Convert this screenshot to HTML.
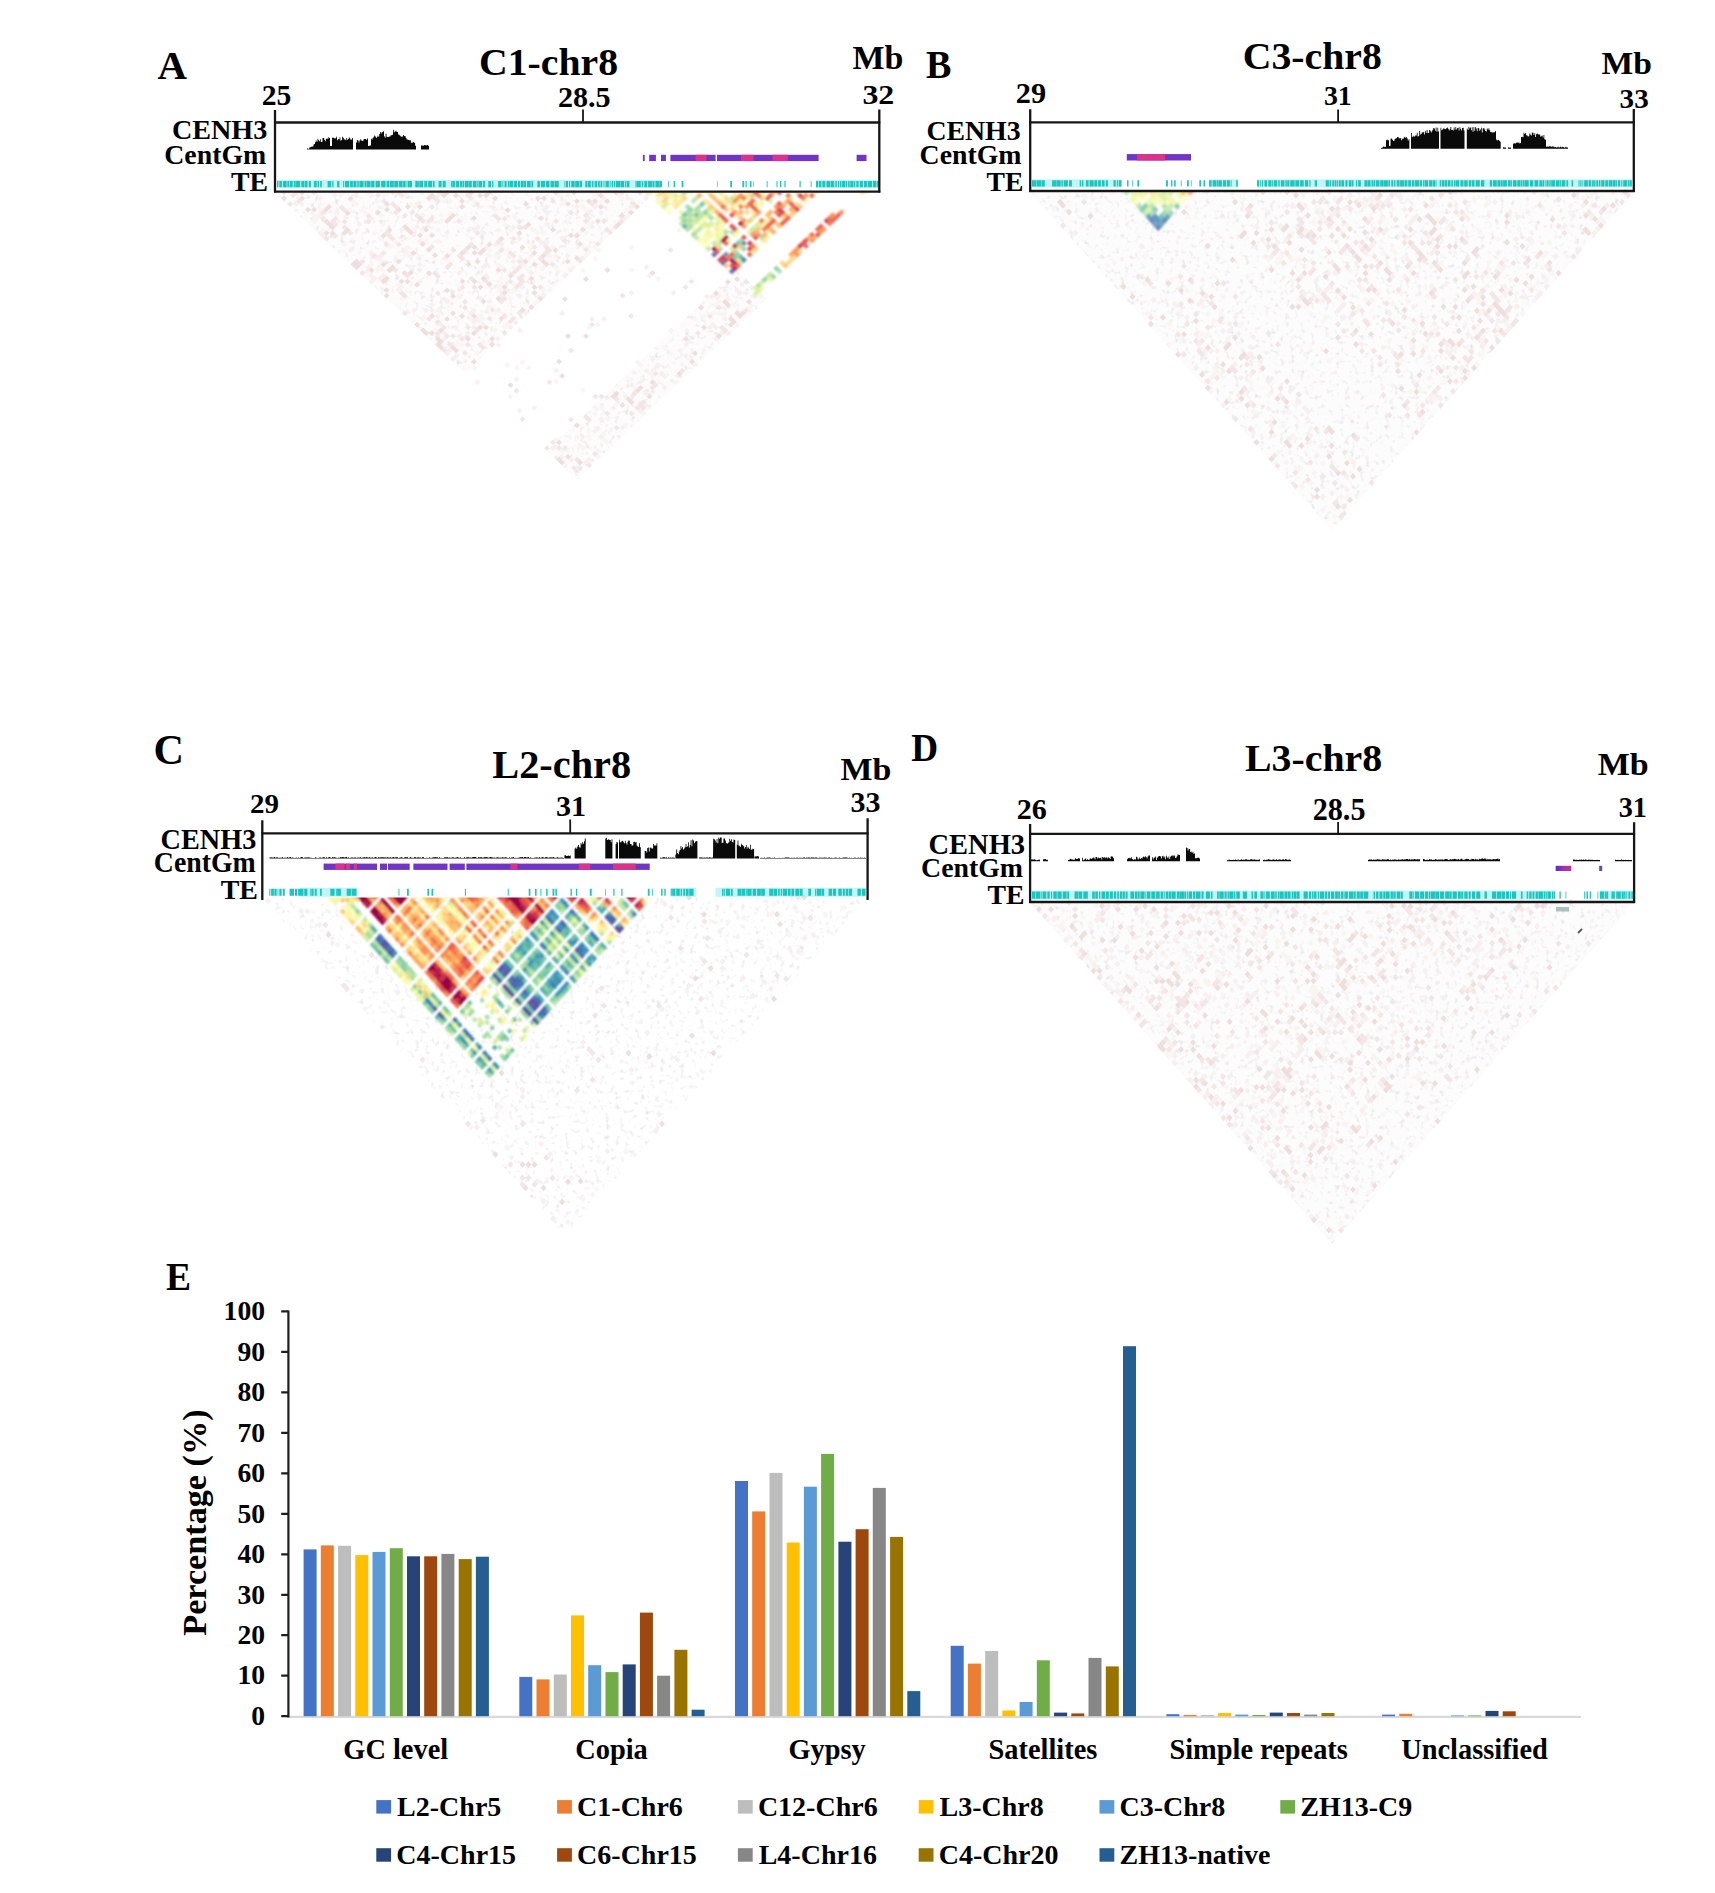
<!DOCTYPE html><html><head><meta charset="utf-8"><style>html,body{margin:0;padding:0;background:#fff;overflow:hidden}svg{display:block}</style></head><body><svg width="1715" height="1893" viewBox="0 0 1715 1893" font-family="&quot;Liberation Serif&quot;, serif" font-weight="bold">
<rect width="1715" height="1893" fill="#fff"/>
<text x="157.4" y="78.8" font-size="40.8">A</text>
<text transform="translate(479.0 74.9) scale(1.033 1)" font-size="38.5">C1-chr8</text>
<text transform="translate(852.5 69.1) scale(1.025 1)" font-size="33.1">Mb</text>
<text x="261.7" y="104.7" font-size="29.6">25</text>
<text x="558.0" y="107.1" font-size="30.1">28.5</text>
<text transform="translate(862.4 104.0) scale(1.144 1)" font-size="27.9">32</text>
<text transform="translate(171.9 139.0) scale(1.059 1)" font-size="26.6">CENH3</text>
<text x="164.3" y="164.2" font-size="27.8">CentGm</text>
<text transform="translate(231.0 190.8) scale(1.032 1)" font-size="26.9">TE</text>
<text transform="translate(926.0 78.3) scale(0.941 1)" font-size="40.5">B</text>
<text transform="translate(1242.7 69.1) scale(1.033 1)" font-size="38.5">C3-chr8</text>
<text transform="translate(1601.6 74.4) scale(1.050 1)" font-size="32.0">Mb</text>
<text transform="translate(1015.8 102.9) scale(1.031 1)" font-size="29.4">29</text>
<text x="1323.9" y="105.0" font-size="27.8">31</text>
<text transform="translate(1619.6 107.8) scale(1.043 1)" font-size="27.9">33</text>
<text x="926.4" y="139.6" font-size="27.8">CENH3</text>
<text x="919.6" y="164.0" font-size="27.8">CentGm</text>
<text transform="translate(986.5 190.6) scale(1.029 1)" font-size="26.9">TE</text>
<text x="153.5" y="764.2" font-size="42.2">C</text>
<text transform="translate(492.3 778.0) scale(1.028 1)" font-size="39.2">L2-chr8</text>
<text transform="translate(840.6 779.6) scale(1.050 1)" font-size="32.3">Mb</text>
<text transform="translate(250.1 813.4) scale(1.039 1)" font-size="27.9">29</text>
<text x="555.9" y="815.5" font-size="30.1">31</text>
<text x="850.6" y="812.3" font-size="30.0">33</text>
<text transform="translate(160.6 849.0) scale(0.964 1)" font-size="29.3">CENH3</text>
<text transform="translate(153.8 872.4) scale(0.976 1)" font-size="28.5">CentGm</text>
<text transform="translate(220.7 899.0) scale(1.038 1)" font-size="26.9">TE</text>
<text transform="translate(911.3 761.0) scale(0.938 1)" font-size="39.7">D</text>
<text transform="translate(1244.9 771.2) scale(1.058 1)" font-size="37.7">L3-chr8</text>
<text transform="translate(1597.8 774.9) scale(1.061 1)" font-size="32.0">Mb</text>
<text x="1016.8" y="818.6" font-size="30.1">26</text>
<text transform="translate(1312.7 819.7) scale(0.977 1)" font-size="30.9">28.5</text>
<text transform="translate(1618.7 816.9) scale(0.937 1)" font-size="30.1">31</text>
<text x="928.5" y="853.8" font-size="28.5">CENH3</text>
<text x="921.1" y="877.2" font-size="27.8">CentGm</text>
<text transform="translate(987.4 904.2) scale(1.032 1)" font-size="26.9">TE</text>
<defs><filter id="spk" x="0" y="0" width="1" height="1" filterUnits="objectBoundingBox"><feTurbulence type="fractalNoise" baseFrequency="0.16" numOctaves="2" seed="5" result="n"/><feColorMatrix in="n" type="matrix" values="0 0 0 0 0.76  0 0 0 0 0.68  0 0 0 0 0.7  0 0 0 -2.0 1.02" result="c"/><feComposite in="c" in2="SourceAlpha" operator="in"/></filter><filter id="spkL" x="0" y="0" width="1" height="1" filterUnits="objectBoundingBox"><feTurbulence type="fractalNoise" baseFrequency="0.2" numOctaves="2" seed="9" result="n"/><feColorMatrix in="n" type="matrix" values="0 0 0 0 0.7  0 0 0 0 0.66  0 0 0 0 0.68  0 0 0 -1.8 0.80" result="c"/><feComposite in="c" in2="SourceAlpha" operator="in"/></filter><filter id="hb" x="-2%" y="-2%" width="104%" height="104%"><feGaussianBlur stdDeviation="0.9"/></filter></defs>
<g>
<polygon points="275.0,192.6 655.0,192.6 465.0,373.1" fill="#fdfbfb" opacity="1.0"/>
<polygon points="275.0,192.6 655.0,192.6 465.0,373.1" fill="#000" filter="url(#spkL)"/>
<polygon points="546.5,450.5 736.5,270.0 767.0,299.0 577.0,479.5" fill="#fdfbfb" opacity="1.0"/>
<polygon points="546.5,450.5 736.5,270.0 767.0,299.0 577.0,479.5" fill="#000" filter="url(#spkL)"/>
</g>
<g transform="matrix(0.5 -0.4750 0.5 0.4750 0 192.60)">
<path fill="#f8f0f0" d="M275 360h6v6h-6zM275 366h6v6h-6zM275 462h6v6h-6zM275 613h6v6h-6zM275 625h6v6h-6zM275 674h6v6h-6zM281 305h6v6h-6zM281 456h6v6h-6zM281 462h6v6h-6zM281 613h6v6h-6zM281 625h6v6h-6zM281 819h6v6h-6zM281 837h6v6h-6zM287 311h6v6h-6zM287 408h6v6h-6zM287 444h6v6h-6zM287 468h6v6h-6zM287 535h6v6h-6zM287 595h6v6h-6zM287 746h6v6h-6zM287 849h6v6h-6zM293 341h6v6h-6zM293 468h6v6h-6zM293 498h6v6h-6zM293 589h6v6h-6zM299 402h6v6h-6zM299 498h6v6h-6zM299 547h6v6h-6zM299 577h6v6h-6zM299 867h6v6h-6zM305 432h6v6h-6zM305 444h6v6h-6zM305 553h6v6h-6zM305 565h6v6h-6zM305 607h6v6h-6zM305 758h6v6h-6zM305 867h6v6h-6zM311 323h6v6h-6zM311 444h6v6h-6zM311 547h6v6h-6zM311 595h6v6h-6zM317 559h6v6h-6zM317 613h6v6h-6zM317 710h6v6h-6zM323 390h6v6h-6zM323 462h6v6h-6zM323 511h6v6h-6zM323 837h6v6h-6zM329 335h6v6h-6zM329 553h6v6h-6zM329 559h6v6h-6zM329 613h6v6h-6zM335 341h6v6h-6zM335 498h6v6h-6zM335 607h6v6h-6zM335 656h6v6h-6zM341 396h6v6h-6zM341 462h6v6h-6zM341 474h6v6h-6zM341 492h6v6h-6zM341 595h6v6h-6zM341 607h6v6h-6zM341 619h6v6h-6zM341 649h6v6h-6zM341 843h6v6h-6zM341 855h6v6h-6zM347 354h6v6h-6zM347 486h6v6h-6zM347 595h6v6h-6zM347 843h6v6h-6zM354 450h6v6h-6zM354 559h6v6h-6zM360 438h6v6h-6zM360 837h6v6h-6zM366 456h6v6h-6zM366 468h6v6h-6zM366 589h6v6h-6zM366 649h6v6h-6zM366 740h6v6h-6zM372 511h6v6h-6zM372 541h6v6h-6zM372 601h6v6h-6zM372 619h6v6h-6zM372 662h6v6h-6zM372 867h6v6h-6zM378 450h6v6h-6zM384 837h6v6h-6zM390 607h6v6h-6zM396 444h6v6h-6zM396 571h6v6h-6zM396 649h6v6h-6zM402 426h6v6h-6zM402 486h6v6h-6zM402 559h6v6h-6zM402 607h6v6h-6zM408 559h6v6h-6zM408 625h6v6h-6zM408 837h6v6h-6zM408 867h6v6h-6zM420 619h6v6h-6zM420 867h6v6h-6zM426 505h6v6h-6zM426 541h6v6h-6zM426 831h6v6h-6zM432 438h6v6h-6zM432 511h6v6h-6zM432 559h6v6h-6zM432 619h6v6h-6zM432 649h6v6h-6zM432 686h6v6h-6zM432 855h6v6h-6zM438 511h6v6h-6zM438 523h6v6h-6zM438 547h6v6h-6zM438 583h6v6h-6zM438 837h6v6h-6zM444 553h6v6h-6zM444 595h6v6h-6zM444 613h6v6h-6zM444 837h6v6h-6zM456 535h6v6h-6zM456 722h6v6h-6zM456 831h6v6h-6zM456 867h6v6h-6zM462 595h6v6h-6zM468 565h6v6h-6zM468 734h6v6h-6zM468 837h6v6h-6zM468 849h6v6h-6zM468 855h6v6h-6zM474 505h6v6h-6zM474 547h6v6h-6zM474 649h6v6h-6zM474 825h6v6h-6zM474 837h6v6h-6zM486 589h6v6h-6zM486 595h6v6h-6zM486 649h6v6h-6zM492 595h6v6h-6zM498 631h6v6h-6zM511 577h6v6h-6zM511 607h6v6h-6zM511 649h6v6h-6zM511 843h6v6h-6zM511 855h6v6h-6zM511 873h6v6h-6zM523 559h6v6h-6zM523 565h6v6h-6zM523 734h6v6h-6zM523 843h6v6h-6zM529 559h6v6h-6zM529 843h6v6h-6zM553 625h6v6h-6zM559 589h6v6h-6zM559 613h6v6h-6zM559 734h6v6h-6zM559 867h6v6h-6zM565 565h6v6h-6zM565 607h6v6h-6zM565 722h6v6h-6zM565 776h6v6h-6zM565 849h6v6h-6zM571 849h6v6h-6zM571 855h6v6h-6zM571 867h6v6h-6zM577 607h6v6h-6zM577 619h6v6h-6zM577 873h6v6h-6zM589 855h6v6h-6zM595 595h6v6h-6zM595 607h6v6h-6zM595 649h6v6h-6zM595 813h6v6h-6zM601 843h6v6h-6zM607 825h6v6h-6zM613 619h6v6h-6zM613 643h6v6h-6zM613 837h6v6h-6zM619 631h6v6h-6zM619 825h6v6h-6zM631 837h6v6h-6zM631 843h6v6h-6zM637 649h6v6h-6zM637 849h6v6h-6zM643 861h6v6h-6zM649 849h6v6h-6z"/>
<path fill="#f4e6e6" d="M275 299h6v6h-6zM275 372h6v6h-6zM275 444h6v6h-6zM275 529h6v6h-6zM275 607h6v6h-6zM275 813h6v6h-6zM281 281h6v6h-6zM281 758h6v6h-6zM281 861h6v6h-6zM287 293h6v6h-6zM287 305h6v6h-6zM287 378h6v6h-6zM287 432h6v6h-6zM287 583h6v6h-6zM287 607h6v6h-6zM287 813h6v6h-6zM287 825h6v6h-6zM287 867h6v6h-6zM293 293h6v6h-6zM293 347h6v6h-6zM293 505h6v6h-6zM293 511h6v6h-6zM293 559h6v6h-6zM293 595h6v6h-6zM293 631h6v6h-6zM293 831h6v6h-6zM293 855h6v6h-6zM299 341h6v6h-6zM299 360h6v6h-6zM299 366h6v6h-6zM299 571h6v6h-6zM299 583h6v6h-6zM299 601h6v6h-6zM299 873h6v6h-6zM305 360h6v6h-6zM305 378h6v6h-6zM305 390h6v6h-6zM305 438h6v6h-6zM305 613h6v6h-6zM305 625h6v6h-6zM305 722h6v6h-6zM311 311h6v6h-6zM311 372h6v6h-6zM311 474h6v6h-6zM317 444h6v6h-6zM317 492h6v6h-6zM317 637h6v6h-6zM317 643h6v6h-6zM317 867h6v6h-6zM323 354h6v6h-6zM323 360h6v6h-6zM323 607h6v6h-6zM329 438h6v6h-6zM329 541h6v6h-6zM329 619h6v6h-6zM329 807h6v6h-6zM335 396h6v6h-6zM341 390h6v6h-6zM341 426h6v6h-6zM341 432h6v6h-6zM341 438h6v6h-6zM341 450h6v6h-6zM341 583h6v6h-6zM347 517h6v6h-6zM347 523h6v6h-6zM347 577h6v6h-6zM347 746h6v6h-6zM347 819h6v6h-6zM347 825h6v6h-6zM354 619h6v6h-6zM354 649h6v6h-6zM360 559h6v6h-6zM366 523h6v6h-6zM366 613h6v6h-6zM366 861h6v6h-6zM372 378h6v6h-6zM372 390h6v6h-6zM372 414h6v6h-6zM372 486h6v6h-6zM372 523h6v6h-6zM372 571h6v6h-6zM372 631h6v6h-6zM372 643h6v6h-6zM372 837h6v6h-6zM378 402h6v6h-6zM378 408h6v6h-6zM378 426h6v6h-6zM378 559h6v6h-6zM378 643h6v6h-6zM378 807h6v6h-6zM384 613h6v6h-6zM384 813h6v6h-6zM390 390h6v6h-6zM390 438h6v6h-6zM390 450h6v6h-6zM390 511h6v6h-6zM390 523h6v6h-6zM390 529h6v6h-6zM390 577h6v6h-6zM390 613h6v6h-6zM390 643h6v6h-6zM396 396h6v6h-6zM396 402h6v6h-6zM396 456h6v6h-6zM396 831h6v6h-6zM396 861h6v6h-6zM402 456h6v6h-6zM402 523h6v6h-6zM402 734h6v6h-6zM408 861h6v6h-6zM414 444h6v6h-6zM414 523h6v6h-6zM414 601h6v6h-6zM414 613h6v6h-6zM414 861h6v6h-6zM414 867h6v6h-6zM420 583h6v6h-6zM420 613h6v6h-6zM420 843h6v6h-6zM420 861h6v6h-6zM426 438h6v6h-6zM426 444h6v6h-6zM426 486h6v6h-6zM426 595h6v6h-6zM426 607h6v6h-6zM426 613h6v6h-6zM432 517h6v6h-6zM432 595h6v6h-6zM432 607h6v6h-6zM438 438h6v6h-6zM438 559h6v6h-6zM438 595h6v6h-6zM438 637h6v6h-6zM444 547h6v6h-6zM444 571h6v6h-6zM444 577h6v6h-6zM444 589h6v6h-6zM444 855h6v6h-6zM450 728h6v6h-6zM450 855h6v6h-6zM462 468h6v6h-6zM462 474h6v6h-6zM462 486h6v6h-6zM462 559h6v6h-6zM462 843h6v6h-6zM468 517h6v6h-6zM468 523h6v6h-6zM468 607h6v6h-6zM474 529h6v6h-6zM474 589h6v6h-6zM474 625h6v6h-6zM480 553h6v6h-6zM480 607h6v6h-6zM486 547h6v6h-6zM486 559h6v6h-6zM486 583h6v6h-6zM486 601h6v6h-6zM486 607h6v6h-6zM492 867h6v6h-6zM498 758h6v6h-6zM505 649h6v6h-6zM511 613h6v6h-6zM511 728h6v6h-6zM523 583h6v6h-6zM523 643h6v6h-6zM541 559h6v6h-6zM541 649h6v6h-6zM547 589h6v6h-6zM547 843h6v6h-6zM553 613h6v6h-6zM559 607h6v6h-6zM565 643h6v6h-6zM565 649h6v6h-6zM571 631h6v6h-6zM577 601h6v6h-6zM577 837h6v6h-6zM577 861h6v6h-6zM577 867h6v6h-6zM583 782h6v6h-6zM589 649h6v6h-6zM595 782h6v6h-6zM595 837h6v6h-6zM607 728h6v6h-6zM619 619h6v6h-6zM619 643h6v6h-6zM619 867h6v6h-6zM649 734h6v6h-6zM649 837h6v6h-6z"/>
<path fill="#efdede" d="M275 287h6v6h-6zM275 426h6v6h-6zM275 432h6v6h-6zM275 492h6v6h-6zM275 553h6v6h-6zM275 565h6v6h-6zM275 571h6v6h-6zM275 595h6v6h-6zM275 601h6v6h-6zM275 837h6v6h-6zM275 843h6v6h-6zM281 366h6v6h-6zM281 426h6v6h-6zM281 432h6v6h-6zM281 486h6v6h-6zM281 577h6v6h-6zM281 589h6v6h-6zM281 595h6v6h-6zM287 323h6v6h-6zM287 372h6v6h-6zM287 450h6v6h-6zM287 474h6v6h-6zM287 613h6v6h-6zM287 619h6v6h-6zM287 843h6v6h-6zM293 305h6v6h-6zM293 329h6v6h-6zM293 354h6v6h-6zM293 360h6v6h-6zM293 366h6v6h-6zM293 474h6v6h-6zM293 583h6v6h-6zM293 649h6v6h-6zM293 819h6v6h-6zM293 861h6v6h-6zM299 299h6v6h-6zM299 384h6v6h-6zM299 559h6v6h-6zM305 341h6v6h-6zM305 384h6v6h-6zM305 456h6v6h-6zM305 468h6v6h-6zM305 492h6v6h-6zM305 710h6v6h-6zM311 341h6v6h-6zM311 468h6v6h-6zM311 498h6v6h-6zM311 577h6v6h-6zM311 619h6v6h-6zM317 486h6v6h-6zM317 511h6v6h-6zM323 366h6v6h-6zM323 468h6v6h-6zM323 492h6v6h-6zM323 577h6v6h-6zM323 619h6v6h-6zM329 589h6v6h-6zM329 649h6v6h-6zM329 819h6v6h-6zM335 426h6v6h-6zM335 619h6v6h-6zM335 643h6v6h-6zM341 354h6v6h-6zM341 511h6v6h-6zM341 547h6v6h-6zM341 559h6v6h-6zM341 601h6v6h-6zM341 625h6v6h-6zM347 426h6v6h-6zM347 474h6v6h-6zM354 396h6v6h-6zM366 402h6v6h-6zM366 438h6v6h-6zM366 444h6v6h-6zM366 450h6v6h-6zM366 474h6v6h-6zM366 486h6v6h-6zM366 498h6v6h-6zM366 553h6v6h-6zM366 595h6v6h-6zM366 631h6v6h-6zM366 752h6v6h-6zM372 396h6v6h-6zM372 462h6v6h-6zM378 414h6v6h-6zM378 511h6v6h-6zM378 565h6v6h-6zM378 577h6v6h-6zM378 734h6v6h-6zM384 462h6v6h-6zM384 474h6v6h-6zM384 607h6v6h-6zM390 420h6v6h-6zM390 444h6v6h-6zM390 541h6v6h-6zM390 571h6v6h-6zM390 583h6v6h-6zM396 523h6v6h-6zM396 607h6v6h-6zM396 643h6v6h-6zM396 825h6v6h-6zM396 843h6v6h-6zM402 432h6v6h-6zM402 547h6v6h-6zM402 601h6v6h-6zM402 825h6v6h-6zM408 523h6v6h-6zM408 535h6v6h-6zM408 649h6v6h-6zM408 843h6v6h-6zM408 849h6v6h-6zM414 474h6v6h-6zM414 529h6v6h-6zM414 541h6v6h-6zM414 577h6v6h-6zM414 716h6v6h-6zM420 432h6v6h-6zM420 474h6v6h-6zM420 541h6v6h-6zM420 595h6v6h-6zM426 432h6v6h-6zM426 474h6v6h-6zM426 637h6v6h-6zM426 649h6v6h-6zM426 843h6v6h-6zM432 541h6v6h-6zM432 631h6v6h-6zM432 734h6v6h-6zM432 843h6v6h-6zM432 861h6v6h-6zM438 444h6v6h-6zM438 619h6v6h-6zM444 444h6v6h-6zM444 474h6v6h-6zM444 498h6v6h-6zM450 456h6v6h-6zM450 468h6v6h-6zM450 547h6v6h-6zM450 595h6v6h-6zM450 674h6v6h-6zM450 849h6v6h-6zM456 607h6v6h-6zM462 577h6v6h-6zM468 468h6v6h-6zM468 595h6v6h-6zM468 613h6v6h-6zM468 619h6v6h-6zM474 480h6v6h-6zM474 559h6v6h-6zM474 607h6v6h-6zM480 486h6v6h-6zM486 486h6v6h-6zM486 498h6v6h-6zM486 523h6v6h-6zM486 867h6v6h-6zM492 559h6v6h-6zM492 613h6v6h-6zM492 637h6v6h-6zM492 674h6v6h-6zM505 643h6v6h-6zM511 535h6v6h-6zM511 565h6v6h-6zM511 589h6v6h-6zM511 867h6v6h-6zM523 613h6v6h-6zM523 631h6v6h-6zM523 686h6v6h-6zM523 861h6v6h-6zM529 541h6v6h-6zM529 619h6v6h-6zM529 837h6v6h-6zM535 547h6v6h-6zM541 619h6v6h-6zM553 553h6v6h-6zM553 577h6v6h-6zM559 843h6v6h-6zM565 583h6v6h-6zM565 625h6v6h-6zM565 734h6v6h-6zM565 867h6v6h-6zM571 571h6v6h-6zM577 595h6v6h-6zM577 649h6v6h-6zM577 819h6v6h-6zM583 601h6v6h-6zM583 613h6v6h-6zM583 649h6v6h-6zM589 867h6v6h-6zM595 601h6v6h-6zM595 613h6v6h-6zM595 643h6v6h-6zM595 861h6v6h-6zM595 867h6v6h-6zM607 649h6v6h-6zM607 819h6v6h-6zM607 837h6v6h-6zM607 843h6v6h-6zM607 861h6v6h-6zM607 867h6v6h-6zM613 613h6v6h-6zM613 867h6v6h-6zM619 649h6v6h-6zM631 819h6v6h-6zM631 861h6v6h-6zM637 637h6v6h-6zM643 825h6v6h-6z"/>
<path fill="#f9f5f3" d="M275 849h6v6h-6zM281 341h6v6h-6zM281 360h6v6h-6zM281 450h6v6h-6zM281 607h6v6h-6zM287 335h6v6h-6zM287 341h6v6h-6zM287 396h6v6h-6zM287 511h6v6h-6zM287 553h6v6h-6zM287 577h6v6h-6zM287 656h6v6h-6zM287 831h6v6h-6zM293 299h6v6h-6zM293 420h6v6h-6zM293 444h6v6h-6zM293 456h6v6h-6zM293 613h6v6h-6zM293 722h6v6h-6zM293 813h6v6h-6zM293 837h6v6h-6zM299 335h6v6h-6zM299 456h6v6h-6zM299 462h6v6h-6zM299 492h6v6h-6zM299 619h6v6h-6zM305 329h6v6h-6zM305 450h6v6h-6zM305 643h6v6h-6zM311 354h6v6h-6zM311 505h6v6h-6zM311 559h6v6h-6zM311 843h6v6h-6zM311 849h6v6h-6zM317 831h6v6h-6zM317 873h6v6h-6zM323 637h6v6h-6zM323 686h6v6h-6zM323 867h6v6h-6zM329 329h6v6h-6zM329 366h6v6h-6zM329 414h6v6h-6zM329 426h6v6h-6zM329 444h6v6h-6zM329 486h6v6h-6zM329 698h6v6h-6zM329 843h6v6h-6zM335 468h6v6h-6zM335 601h6v6h-6zM335 837h6v6h-6zM341 341h6v6h-6zM341 360h6v6h-6zM341 366h6v6h-6zM341 378h6v6h-6zM341 384h6v6h-6zM341 444h6v6h-6zM341 468h6v6h-6zM341 613h6v6h-6zM341 698h6v6h-6zM341 710h6v6h-6zM341 861h6v6h-6zM341 867h6v6h-6zM347 414h6v6h-6zM347 462h6v6h-6zM347 565h6v6h-6zM347 607h6v6h-6zM347 613h6v6h-6zM347 637h6v6h-6zM347 855h6v6h-6zM354 402h6v6h-6zM354 752h6v6h-6zM360 643h6v6h-6zM360 825h6v6h-6zM366 366h6v6h-6zM366 384h6v6h-6zM366 396h6v6h-6zM366 607h6v6h-6zM366 619h6v6h-6zM366 643h6v6h-6zM366 819h6v6h-6zM366 843h6v6h-6zM372 450h6v6h-6zM372 474h6v6h-6zM372 788h6v6h-6zM372 825h6v6h-6zM378 384h6v6h-6zM378 867h6v6h-6zM384 486h6v6h-6zM396 420h6v6h-6zM396 426h6v6h-6zM396 474h6v6h-6zM396 595h6v6h-6zM396 601h6v6h-6zM396 619h6v6h-6zM402 595h6v6h-6zM408 468h6v6h-6zM408 589h6v6h-6zM408 613h6v6h-6zM408 873h6v6h-6zM414 462h6v6h-6zM414 607h6v6h-6zM414 649h6v6h-6zM420 553h6v6h-6zM420 571h6v6h-6zM420 577h6v6h-6zM420 649h6v6h-6zM426 426h6v6h-6zM426 468h6v6h-6zM426 547h6v6h-6zM426 559h6v6h-6zM426 837h6v6h-6zM432 450h6v6h-6zM432 486h6v6h-6zM432 589h6v6h-6zM432 825h6v6h-6zM438 456h6v6h-6zM438 643h6v6h-6zM444 565h6v6h-6zM444 607h6v6h-6zM444 649h6v6h-6zM444 728h6v6h-6zM456 462h6v6h-6zM456 474h6v6h-6zM456 595h6v6h-6zM456 734h6v6h-6zM456 813h6v6h-6zM456 819h6v6h-6zM456 837h6v6h-6zM456 843h6v6h-6zM462 480h6v6h-6zM462 619h6v6h-6zM468 535h6v6h-6zM468 547h6v6h-6zM468 589h6v6h-6zM474 511h6v6h-6zM474 583h6v6h-6zM474 619h6v6h-6zM474 631h6v6h-6zM474 873h6v6h-6zM480 613h6v6h-6zM486 535h6v6h-6zM486 541h6v6h-6zM486 619h6v6h-6zM492 571h6v6h-6zM492 577h6v6h-6zM492 607h6v6h-6zM492 649h6v6h-6zM498 583h6v6h-6zM498 662h6v6h-6zM498 825h6v6h-6zM498 837h6v6h-6zM498 861h6v6h-6zM511 861h6v6h-6zM517 649h6v6h-6zM523 601h6v6h-6zM523 637h6v6h-6zM523 649h6v6h-6zM523 662h6v6h-6zM523 813h6v6h-6zM529 643h6v6h-6zM535 595h6v6h-6zM535 619h6v6h-6zM535 649h6v6h-6zM535 656h6v6h-6zM535 867h6v6h-6zM541 625h6v6h-6zM547 571h6v6h-6zM547 649h6v6h-6zM547 710h6v6h-6zM553 559h6v6h-6zM553 571h6v6h-6zM553 619h6v6h-6zM559 559h6v6h-6zM559 825h6v6h-6zM565 595h6v6h-6zM565 601h6v6h-6zM565 746h6v6h-6zM571 649h6v6h-6zM571 686h6v6h-6zM571 831h6v6h-6zM583 837h6v6h-6zM589 589h6v6h-6zM589 595h6v6h-6zM589 607h6v6h-6zM589 843h6v6h-6zM595 831h6v6h-6zM595 849h6v6h-6zM595 873h6v6h-6zM601 601h6v6h-6zM601 649h6v6h-6zM601 831h6v6h-6zM607 607h6v6h-6zM607 643h6v6h-6zM613 625h6v6h-6zM613 849h6v6h-6zM625 867h6v6h-6zM637 716h6v6h-6zM649 662h6v6h-6zM649 867h6v6h-6z"/>
</g>
<g>
<polygon points="1030.0,192.0 1634.0,192.0 1332.0,530.2" fill="#fdfcfc" opacity="1.0"/>
<polygon points="1030.0,192.0 1634.0,192.0 1332.0,530.2" fill="#000" filter="url(#spkL)"/>
</g>
<g transform="matrix(0.5 -0.5600 0.5 0.5600 0 192.00)">
<path fill="#f8f0f0" d="M1030 1411h6v6h-6zM1036 1109h6v6h-6zM1036 1350h6v6h-6zM1036 1465h6v6h-6zM1048 1314h6v6h-6zM1048 1592h6v6h-6zM1054 1247h6v6h-6zM1054 1350h6v6h-6zM1054 1417h6v6h-6zM1054 1453h6v6h-6zM1060 1332h6v6h-6zM1060 1344h6v6h-6zM1060 1368h6v6h-6zM1060 1380h6v6h-6zM1060 1435h6v6h-6zM1060 1477h6v6h-6zM1060 1598h6v6h-6zM1066 1284h6v6h-6zM1066 1320h6v6h-6zM1066 1350h6v6h-6zM1066 1423h6v6h-6zM1066 1507h6v6h-6zM1072 1272h6v6h-6zM1072 1296h6v6h-6zM1072 1356h6v6h-6zM1072 1404h6v6h-6zM1072 1459h6v6h-6zM1078 1386h6v6h-6zM1078 1549h6v6h-6zM1078 1610h6v6h-6zM1084 1411h6v6h-6zM1084 1477h6v6h-6zM1090 1187h6v6h-6zM1090 1447h6v6h-6zM1090 1525h6v6h-6zM1090 1598h6v6h-6zM1096 1296h6v6h-6zM1096 1344h6v6h-6zM1096 1435h6v6h-6zM1096 1459h6v6h-6zM1102 1296h6v6h-6zM1102 1350h6v6h-6zM1102 1392h6v6h-6zM1102 1398h6v6h-6zM1102 1435h6v6h-6zM1102 1507h6v6h-6zM1109 1296h6v6h-6zM1109 1344h6v6h-6zM1109 1362h6v6h-6zM1109 1386h6v6h-6zM1109 1465h6v6h-6zM1109 1483h6v6h-6zM1109 1495h6v6h-6zM1109 1501h6v6h-6zM1109 1592h6v6h-6zM1115 1465h6v6h-6zM1121 1278h6v6h-6zM1121 1344h6v6h-6zM1121 1380h6v6h-6zM1133 1181h6v6h-6zM1205 1320h6v6h-6zM1211 1253h6v6h-6zM1211 1326h6v6h-6zM1211 1392h6v6h-6zM1211 1598h6v6h-6zM1217 1302h6v6h-6zM1217 1404h6v6h-6zM1223 1284h6v6h-6zM1223 1374h6v6h-6zM1223 1417h6v6h-6zM1223 1495h6v6h-6zM1229 1320h6v6h-6zM1229 1344h6v6h-6zM1229 1404h6v6h-6zM1229 1441h6v6h-6zM1229 1453h6v6h-6zM1235 1368h6v6h-6zM1235 1392h6v6h-6zM1235 1411h6v6h-6zM1235 1441h6v6h-6zM1235 1459h6v6h-6zM1241 1326h6v6h-6zM1241 1411h6v6h-6zM1241 1441h6v6h-6zM1241 1519h6v6h-6zM1241 1580h6v6h-6zM1241 1616h6v6h-6zM1247 1284h6v6h-6zM1247 1308h6v6h-6zM1247 1429h6v6h-6zM1247 1610h6v6h-6zM1253 1253h6v6h-6zM1253 1398h6v6h-6zM1253 1622h6v6h-6zM1260 1404h6v6h-6zM1266 1392h6v6h-6zM1272 1296h6v6h-6zM1272 1374h6v6h-6zM1272 1441h6v6h-6zM1272 1549h6v6h-6zM1278 1302h6v6h-6zM1278 1495h6v6h-6zM1278 1513h6v6h-6zM1284 1465h6v6h-6zM1284 1537h6v6h-6zM1290 1314h6v6h-6zM1290 1417h6v6h-6zM1296 1332h6v6h-6zM1296 1350h6v6h-6zM1296 1555h6v6h-6zM1302 1586h6v6h-6zM1302 1592h6v6h-6zM1302 1616h6v6h-6zM1308 1350h6v6h-6zM1308 1417h6v6h-6zM1308 1513h6v6h-6zM1308 1580h6v6h-6zM1314 1314h6v6h-6zM1314 1350h6v6h-6zM1314 1465h6v6h-6zM1314 1549h6v6h-6zM1320 1417h6v6h-6zM1326 1417h6v6h-6zM1326 1477h6v6h-6zM1326 1507h6v6h-6zM1332 1453h6v6h-6zM1332 1501h6v6h-6zM1338 1404h6v6h-6zM1338 1411h6v6h-6zM1338 1592h6v6h-6zM1344 1350h6v6h-6zM1344 1392h6v6h-6zM1344 1417h6v6h-6zM1344 1465h6v6h-6zM1344 1513h6v6h-6zM1344 1610h6v6h-6zM1344 1616h6v6h-6zM1350 1404h6v6h-6zM1350 1417h6v6h-6zM1356 1356h6v6h-6zM1356 1368h6v6h-6zM1362 1374h6v6h-6zM1362 1392h6v6h-6zM1362 1525h6v6h-6zM1368 1374h6v6h-6zM1368 1386h6v6h-6zM1374 1392h6v6h-6zM1374 1483h6v6h-6zM1374 1586h6v6h-6zM1374 1598h6v6h-6zM1380 1392h6v6h-6zM1380 1435h6v6h-6zM1380 1483h6v6h-6zM1380 1549h6v6h-6zM1380 1562h6v6h-6zM1380 1610h6v6h-6zM1380 1628h6v6h-6zM1386 1417h6v6h-6zM1386 1435h6v6h-6zM1386 1465h6v6h-6zM1386 1568h6v6h-6zM1386 1592h6v6h-6zM1386 1616h6v6h-6zM1386 1628h6v6h-6zM1392 1392h6v6h-6zM1392 1398h6v6h-6zM1392 1404h6v6h-6zM1392 1435h6v6h-6zM1404 1555h6v6h-6zM1411 1592h6v6h-6zM1411 1616h6v6h-6zM1417 1441h6v6h-6zM1417 1477h6v6h-6zM1417 1586h6v6h-6zM1423 1495h6v6h-6zM1429 1616h6v6h-6zM1435 1568h6v6h-6zM1441 1441h6v6h-6zM1441 1465h6v6h-6zM1441 1483h6v6h-6zM1441 1489h6v6h-6zM1441 1549h6v6h-6zM1441 1628h6v6h-6zM1447 1628h6v6h-6zM1453 1453h6v6h-6zM1459 1459h6v6h-6zM1459 1628h6v6h-6zM1465 1507h6v6h-6zM1465 1616h6v6h-6zM1471 1555h6v6h-6zM1477 1610h6v6h-6zM1483 1501h6v6h-6zM1483 1568h6v6h-6zM1489 1525h6v6h-6zM1495 1610h6v6h-6zM1507 1543h6v6h-6zM1525 1628h6v6h-6zM1531 1592h6v6h-6zM1549 1592h6v6h-6zM1555 1628h6v6h-6zM1562 1628h6v6h-6zM1568 1592h6v6h-6zM1568 1610h6v6h-6zM1568 1622h6v6h-6zM1592 1616h6v6h-6zM1610 1610h6v6h-6z"/>
<path fill="#f4e6e6" d="M1030 1090h6v6h-6zM1030 1435h6v6h-6zM1030 1519h6v6h-6zM1030 1555h6v6h-6zM1036 1260h6v6h-6zM1036 1326h6v6h-6zM1036 1374h6v6h-6zM1036 1459h6v6h-6zM1036 1507h6v6h-6zM1042 1543h6v6h-6zM1048 1302h6v6h-6zM1048 1380h6v6h-6zM1048 1562h6v6h-6zM1048 1628h6v6h-6zM1054 1338h6v6h-6zM1054 1344h6v6h-6zM1054 1610h6v6h-6zM1054 1628h6v6h-6zM1060 1211h6v6h-6zM1060 1326h6v6h-6zM1060 1441h6v6h-6zM1060 1622h6v6h-6zM1066 1229h6v6h-6zM1066 1302h6v6h-6zM1066 1332h6v6h-6zM1066 1417h6v6h-6zM1066 1549h6v6h-6zM1066 1574h6v6h-6zM1072 1090h6v6h-6zM1072 1386h6v6h-6zM1072 1392h6v6h-6zM1072 1592h6v6h-6zM1078 1278h6v6h-6zM1084 1302h6v6h-6zM1084 1326h6v6h-6zM1084 1574h6v6h-6zM1084 1580h6v6h-6zM1090 1398h6v6h-6zM1090 1411h6v6h-6zM1090 1592h6v6h-6zM1096 1392h6v6h-6zM1096 1465h6v6h-6zM1102 1253h6v6h-6zM1102 1332h6v6h-6zM1102 1453h6v6h-6zM1102 1525h6v6h-6zM1109 1308h6v6h-6zM1109 1537h6v6h-6zM1109 1574h6v6h-6zM1109 1628h6v6h-6zM1115 1247h6v6h-6zM1115 1350h6v6h-6zM1115 1477h6v6h-6zM1127 1163h6v6h-6zM1133 1574h6v6h-6zM1139 1302h6v6h-6zM1139 1326h6v6h-6zM1139 1392h6v6h-6zM1139 1411h6v6h-6zM1187 1586h6v6h-6zM1199 1562h6v6h-6zM1205 1392h6v6h-6zM1205 1604h6v6h-6zM1211 1380h6v6h-6zM1211 1404h6v6h-6zM1217 1314h6v6h-6zM1217 1326h6v6h-6zM1217 1344h6v6h-6zM1217 1411h6v6h-6zM1217 1453h6v6h-6zM1217 1465h6v6h-6zM1217 1501h6v6h-6zM1217 1592h6v6h-6zM1217 1616h6v6h-6zM1223 1326h6v6h-6zM1223 1477h6v6h-6zM1223 1531h6v6h-6zM1229 1260h6v6h-6zM1229 1266h6v6h-6zM1229 1338h6v6h-6zM1229 1411h6v6h-6zM1229 1417h6v6h-6zM1229 1423h6v6h-6zM1229 1513h6v6h-6zM1229 1525h6v6h-6zM1229 1610h6v6h-6zM1235 1380h6v6h-6zM1241 1296h6v6h-6zM1241 1362h6v6h-6zM1241 1380h6v6h-6zM1241 1459h6v6h-6zM1241 1549h6v6h-6zM1241 1586h6v6h-6zM1247 1326h6v6h-6zM1247 1374h6v6h-6zM1247 1411h6v6h-6zM1247 1477h6v6h-6zM1247 1483h6v6h-6zM1247 1537h6v6h-6zM1247 1543h6v6h-6zM1247 1628h6v6h-6zM1253 1465h6v6h-6zM1253 1610h6v6h-6zM1260 1338h6v6h-6zM1260 1610h6v6h-6zM1266 1302h6v6h-6zM1266 1326h6v6h-6zM1266 1350h6v6h-6zM1266 1356h6v6h-6zM1266 1465h6v6h-6zM1266 1495h6v6h-6zM1272 1320h6v6h-6zM1272 1326h6v6h-6zM1272 1344h6v6h-6zM1272 1501h6v6h-6zM1272 1519h6v6h-6zM1272 1628h6v6h-6zM1278 1411h6v6h-6zM1278 1435h6v6h-6zM1278 1562h6v6h-6zM1278 1592h6v6h-6zM1284 1350h6v6h-6zM1284 1392h6v6h-6zM1284 1441h6v6h-6zM1284 1453h6v6h-6zM1284 1483h6v6h-6zM1284 1622h6v6h-6zM1290 1344h6v6h-6zM1290 1392h6v6h-6zM1290 1513h6v6h-6zM1296 1356h6v6h-6zM1296 1398h6v6h-6zM1296 1525h6v6h-6zM1296 1610h6v6h-6zM1302 1320h6v6h-6zM1302 1356h6v6h-6zM1302 1435h6v6h-6zM1302 1555h6v6h-6zM1308 1326h6v6h-6zM1308 1398h6v6h-6zM1308 1411h6v6h-6zM1308 1441h6v6h-6zM1308 1483h6v6h-6zM1308 1562h6v6h-6zM1308 1574h6v6h-6zM1314 1326h6v6h-6zM1314 1356h6v6h-6zM1314 1368h6v6h-6zM1314 1404h6v6h-6zM1314 1417h6v6h-6zM1314 1429h6v6h-6zM1314 1610h6v6h-6zM1314 1616h6v6h-6zM1320 1350h6v6h-6zM1320 1543h6v6h-6zM1320 1616h6v6h-6zM1326 1326h6v6h-6zM1326 1344h6v6h-6zM1326 1483h6v6h-6zM1326 1562h6v6h-6zM1326 1592h6v6h-6zM1326 1610h6v6h-6zM1332 1344h6v6h-6zM1332 1362h6v6h-6zM1338 1392h6v6h-6zM1338 1525h6v6h-6zM1338 1562h6v6h-6zM1344 1362h6v6h-6zM1344 1471h6v6h-6zM1344 1519h6v6h-6zM1350 1592h6v6h-6zM1350 1604h6v6h-6zM1350 1616h6v6h-6zM1356 1380h6v6h-6zM1356 1447h6v6h-6zM1362 1386h6v6h-6zM1362 1441h6v6h-6zM1362 1459h6v6h-6zM1362 1465h6v6h-6zM1362 1483h6v6h-6zM1362 1628h6v6h-6zM1368 1380h6v6h-6zM1368 1392h6v6h-6zM1368 1417h6v6h-6zM1368 1501h6v6h-6zM1368 1616h6v6h-6zM1374 1398h6v6h-6zM1374 1465h6v6h-6zM1374 1531h6v6h-6zM1374 1562h6v6h-6zM1374 1592h6v6h-6zM1374 1604h6v6h-6zM1374 1628h6v6h-6zM1380 1471h6v6h-6zM1380 1489h6v6h-6zM1386 1392h6v6h-6zM1386 1459h6v6h-6zM1386 1604h6v6h-6zM1392 1423h6v6h-6zM1392 1568h6v6h-6zM1392 1616h6v6h-6zM1392 1628h6v6h-6zM1398 1477h6v6h-6zM1398 1549h6v6h-6zM1398 1580h6v6h-6zM1398 1586h6v6h-6zM1398 1592h6v6h-6zM1398 1610h6v6h-6zM1398 1628h6v6h-6zM1404 1525h6v6h-6zM1404 1610h6v6h-6zM1411 1465h6v6h-6zM1411 1555h6v6h-6zM1417 1417h6v6h-6zM1417 1465h6v6h-6zM1417 1483h6v6h-6zM1417 1507h6v6h-6zM1417 1531h6v6h-6zM1423 1435h6v6h-6zM1423 1568h6v6h-6zM1435 1441h6v6h-6zM1435 1459h6v6h-6zM1435 1471h6v6h-6zM1435 1562h6v6h-6zM1441 1477h6v6h-6zM1441 1616h6v6h-6zM1447 1574h6v6h-6zM1453 1471h6v6h-6zM1459 1586h6v6h-6zM1477 1592h6v6h-6zM1477 1616h6v6h-6zM1513 1628h6v6h-6zM1525 1549h6v6h-6zM1525 1586h6v6h-6zM1525 1598h6v6h-6zM1531 1531h6v6h-6zM1549 1562h6v6h-6zM1568 1604h6v6h-6zM1580 1604h6v6h-6zM1580 1616h6v6h-6zM1610 1628h6v6h-6zM1622 1628h6v6h-6z"/>
<path fill="#efdede" d="M1030 1266h6v6h-6zM1030 1320h6v6h-6zM1030 1380h6v6h-6zM1030 1477h6v6h-6zM1030 1507h6v6h-6zM1036 1205h6v6h-6zM1036 1223h6v6h-6zM1036 1362h6v6h-6zM1036 1411h6v6h-6zM1042 1586h6v6h-6zM1048 1066h6v6h-6zM1048 1072h6v6h-6zM1048 1084h6v6h-6zM1048 1272h6v6h-6zM1048 1580h6v6h-6zM1054 1308h6v6h-6zM1054 1423h6v6h-6zM1054 1435h6v6h-6zM1054 1483h6v6h-6zM1054 1616h6v6h-6zM1060 1417h6v6h-6zM1060 1507h6v6h-6zM1060 1513h6v6h-6zM1066 1109h6v6h-6zM1066 1223h6v6h-6zM1066 1344h6v6h-6zM1066 1374h6v6h-6zM1066 1386h6v6h-6zM1066 1477h6v6h-6zM1072 1525h6v6h-6zM1072 1622h6v6h-6zM1078 1308h6v6h-6zM1084 1247h6v6h-6zM1084 1362h6v6h-6zM1084 1525h6v6h-6zM1084 1586h6v6h-6zM1090 1266h6v6h-6zM1090 1284h6v6h-6zM1090 1362h6v6h-6zM1090 1386h6v6h-6zM1090 1459h6v6h-6zM1090 1562h6v6h-6zM1096 1386h6v6h-6zM1096 1471h6v6h-6zM1096 1604h6v6h-6zM1102 1362h6v6h-6zM1102 1417h6v6h-6zM1102 1555h6v6h-6zM1102 1586h6v6h-6zM1109 1266h6v6h-6zM1109 1290h6v6h-6zM1109 1314h6v6h-6zM1109 1404h6v6h-6zM1109 1604h6v6h-6zM1115 1302h6v6h-6zM1115 1453h6v6h-6zM1115 1537h6v6h-6zM1115 1543h6v6h-6zM1133 1296h6v6h-6zM1133 1568h6v6h-6zM1157 1253h6v6h-6zM1163 1199h6v6h-6zM1169 1290h6v6h-6zM1181 1465h6v6h-6zM1187 1392h6v6h-6zM1193 1398h6v6h-6zM1199 1278h6v6h-6zM1199 1338h6v6h-6zM1199 1628h6v6h-6zM1205 1278h6v6h-6zM1205 1296h6v6h-6zM1205 1398h6v6h-6zM1205 1404h6v6h-6zM1205 1465h6v6h-6zM1211 1592h6v6h-6zM1217 1290h6v6h-6zM1217 1362h6v6h-6zM1217 1374h6v6h-6zM1217 1489h6v6h-6zM1223 1241h6v6h-6zM1223 1266h6v6h-6zM1223 1308h6v6h-6zM1223 1320h6v6h-6zM1223 1574h6v6h-6zM1223 1616h6v6h-6zM1229 1374h6v6h-6zM1229 1477h6v6h-6zM1235 1260h6v6h-6zM1235 1302h6v6h-6zM1235 1555h6v6h-6zM1235 1592h6v6h-6zM1241 1332h6v6h-6zM1241 1495h6v6h-6zM1247 1314h6v6h-6zM1247 1350h6v6h-6zM1247 1398h6v6h-6zM1247 1423h6v6h-6zM1247 1435h6v6h-6zM1247 1453h6v6h-6zM1253 1314h6v6h-6zM1253 1543h6v6h-6zM1253 1580h6v6h-6zM1260 1260h6v6h-6zM1260 1332h6v6h-6zM1266 1332h6v6h-6zM1266 1344h6v6h-6zM1266 1398h6v6h-6zM1266 1404h6v6h-6zM1266 1555h6v6h-6zM1272 1350h6v6h-6zM1272 1380h6v6h-6zM1272 1507h6v6h-6zM1278 1453h6v6h-6zM1278 1543h6v6h-6zM1278 1598h6v6h-6zM1278 1616h6v6h-6zM1284 1284h6v6h-6zM1284 1308h6v6h-6zM1284 1314h6v6h-6zM1284 1326h6v6h-6zM1284 1459h6v6h-6zM1290 1296h6v6h-6zM1290 1368h6v6h-6zM1290 1435h6v6h-6zM1296 1392h6v6h-6zM1296 1404h6v6h-6zM1296 1411h6v6h-6zM1296 1417h6v6h-6zM1296 1429h6v6h-6zM1296 1507h6v6h-6zM1296 1549h6v6h-6zM1296 1580h6v6h-6zM1296 1628h6v6h-6zM1302 1350h6v6h-6zM1302 1368h6v6h-6zM1302 1380h6v6h-6zM1302 1537h6v6h-6zM1302 1574h6v6h-6zM1302 1598h6v6h-6zM1302 1622h6v6h-6zM1308 1465h6v6h-6zM1314 1344h6v6h-6zM1314 1380h6v6h-6zM1314 1411h6v6h-6zM1314 1441h6v6h-6zM1314 1453h6v6h-6zM1314 1459h6v6h-6zM1314 1580h6v6h-6zM1314 1586h6v6h-6zM1314 1628h6v6h-6zM1320 1592h6v6h-6zM1326 1398h6v6h-6zM1326 1411h6v6h-6zM1332 1580h6v6h-6zM1338 1356h6v6h-6zM1338 1386h6v6h-6zM1338 1471h6v6h-6zM1338 1483h6v6h-6zM1338 1519h6v6h-6zM1338 1543h6v6h-6zM1344 1368h6v6h-6zM1344 1411h6v6h-6zM1344 1568h6v6h-6zM1344 1604h6v6h-6zM1350 1555h6v6h-6zM1350 1628h6v6h-6zM1356 1386h6v6h-6zM1356 1477h6v6h-6zM1356 1604h6v6h-6zM1362 1453h6v6h-6zM1362 1471h6v6h-6zM1362 1477h6v6h-6zM1362 1592h6v6h-6zM1368 1495h6v6h-6zM1368 1507h6v6h-6zM1368 1562h6v6h-6zM1368 1580h6v6h-6zM1374 1380h6v6h-6zM1374 1441h6v6h-6zM1374 1549h6v6h-6zM1374 1622h6v6h-6zM1380 1580h6v6h-6zM1380 1592h6v6h-6zM1386 1483h6v6h-6zM1386 1537h6v6h-6zM1386 1555h6v6h-6zM1386 1574h6v6h-6zM1392 1441h6v6h-6zM1392 1465h6v6h-6zM1392 1477h6v6h-6zM1392 1537h6v6h-6zM1392 1592h6v6h-6zM1392 1598h6v6h-6zM1392 1604h6v6h-6zM1392 1610h6v6h-6zM1398 1465h6v6h-6zM1398 1495h6v6h-6zM1398 1525h6v6h-6zM1404 1447h6v6h-6zM1404 1453h6v6h-6zM1404 1459h6v6h-6zM1404 1501h6v6h-6zM1411 1435h6v6h-6zM1411 1586h6v6h-6zM1417 1501h6v6h-6zM1417 1525h6v6h-6zM1417 1568h6v6h-6zM1417 1598h6v6h-6zM1423 1525h6v6h-6zM1435 1483h6v6h-6zM1435 1592h6v6h-6zM1441 1604h6v6h-6zM1447 1447h6v6h-6zM1453 1604h6v6h-6zM1459 1549h6v6h-6zM1465 1586h6v6h-6zM1471 1568h6v6h-6zM1477 1531h6v6h-6zM1483 1525h6v6h-6zM1483 1592h6v6h-6zM1483 1610h6v6h-6zM1483 1628h6v6h-6zM1525 1574h6v6h-6zM1549 1616h6v6h-6zM1549 1622h6v6h-6zM1562 1604h6v6h-6zM1568 1574h6v6h-6zM1568 1616h6v6h-6zM1568 1628h6v6h-6zM1574 1592h6v6h-6zM1586 1616h6v6h-6zM1598 1622h6v6h-6zM1622 1622h6v6h-6z"/>
<path fill="#f9f5f3" d="M1030 1302h6v6h-6zM1030 1386h6v6h-6zM1036 1066h6v6h-6zM1036 1253h6v6h-6zM1036 1562h6v6h-6zM1036 1604h6v6h-6zM1042 1374h6v6h-6zM1042 1411h6v6h-6zM1042 1507h6v6h-6zM1042 1525h6v6h-6zM1042 1622h6v6h-6zM1048 1175h6v6h-6zM1048 1284h6v6h-6zM1048 1308h6v6h-6zM1048 1374h6v6h-6zM1048 1543h6v6h-6zM1048 1568h6v6h-6zM1054 1368h6v6h-6zM1054 1374h6v6h-6zM1054 1380h6v6h-6zM1054 1447h6v6h-6zM1054 1489h6v6h-6zM1054 1519h6v6h-6zM1060 1223h6v6h-6zM1060 1537h6v6h-6zM1060 1562h6v6h-6zM1066 1260h6v6h-6zM1066 1610h6v6h-6zM1072 1284h6v6h-6zM1072 1326h6v6h-6zM1072 1423h6v6h-6zM1072 1489h6v6h-6zM1072 1507h6v6h-6zM1072 1513h6v6h-6zM1072 1616h6v6h-6zM1078 1084h6v6h-6zM1078 1332h6v6h-6zM1078 1417h6v6h-6zM1078 1562h6v6h-6zM1084 1096h6v6h-6zM1084 1199h6v6h-6zM1084 1447h6v6h-6zM1084 1531h6v6h-6zM1090 1247h6v6h-6zM1090 1483h6v6h-6zM1096 1272h6v6h-6zM1096 1314h6v6h-6zM1096 1326h6v6h-6zM1096 1356h6v6h-6zM1096 1519h6v6h-6zM1102 1411h6v6h-6zM1102 1483h6v6h-6zM1102 1549h6v6h-6zM1109 1109h6v6h-6zM1109 1326h6v6h-6zM1109 1586h6v6h-6zM1121 1356h6v6h-6zM1127 1314h6v6h-6zM1139 1163h6v6h-6zM1145 1549h6v6h-6zM1157 1447h6v6h-6zM1169 1320h6v6h-6zM1175 1477h6v6h-6zM1199 1392h6v6h-6zM1199 1417h6v6h-6zM1205 1326h6v6h-6zM1205 1374h6v6h-6zM1205 1435h6v6h-6zM1205 1555h6v6h-6zM1211 1338h6v6h-6zM1211 1368h6v6h-6zM1211 1435h6v6h-6zM1211 1628h6v6h-6zM1217 1308h6v6h-6zM1217 1338h6v6h-6zM1217 1562h6v6h-6zM1223 1604h6v6h-6zM1229 1350h6v6h-6zM1229 1586h6v6h-6zM1235 1247h6v6h-6zM1235 1356h6v6h-6zM1241 1241h6v6h-6zM1241 1592h6v6h-6zM1241 1610h6v6h-6zM1247 1278h6v6h-6zM1247 1525h6v6h-6zM1247 1549h6v6h-6zM1247 1616h6v6h-6zM1253 1326h6v6h-6zM1253 1459h6v6h-6zM1253 1519h6v6h-6zM1260 1483h6v6h-6zM1260 1592h6v6h-6zM1266 1338h6v6h-6zM1266 1459h6v6h-6zM1272 1272h6v6h-6zM1272 1447h6v6h-6zM1272 1465h6v6h-6zM1272 1543h6v6h-6zM1272 1610h6v6h-6zM1278 1417h6v6h-6zM1278 1574h6v6h-6zM1284 1338h6v6h-6zM1284 1562h6v6h-6zM1284 1598h6v6h-6zM1284 1610h6v6h-6zM1290 1290h6v6h-6zM1290 1489h6v6h-6zM1290 1537h6v6h-6zM1296 1338h6v6h-6zM1296 1344h6v6h-6zM1296 1531h6v6h-6zM1302 1302h6v6h-6zM1302 1332h6v6h-6zM1302 1628h6v6h-6zM1308 1344h6v6h-6zM1308 1404h6v6h-6zM1308 1489h6v6h-6zM1308 1501h6v6h-6zM1308 1555h6v6h-6zM1314 1374h6v6h-6zM1314 1592h6v6h-6zM1320 1628h6v6h-6zM1326 1338h6v6h-6zM1326 1356h6v6h-6zM1326 1435h6v6h-6zM1326 1604h6v6h-6zM1332 1519h6v6h-6zM1332 1622h6v6h-6zM1338 1350h6v6h-6zM1338 1441h6v6h-6zM1338 1447h6v6h-6zM1338 1477h6v6h-6zM1338 1507h6v6h-6zM1344 1459h6v6h-6zM1344 1537h6v6h-6zM1344 1580h6v6h-6zM1350 1362h6v6h-6zM1350 1374h6v6h-6zM1350 1483h6v6h-6zM1350 1610h6v6h-6zM1356 1404h6v6h-6zM1356 1549h6v6h-6zM1362 1380h6v6h-6zM1362 1435h6v6h-6zM1362 1447h6v6h-6zM1362 1495h6v6h-6zM1362 1562h6v6h-6zM1368 1586h6v6h-6zM1374 1374h6v6h-6zM1374 1404h6v6h-6zM1374 1447h6v6h-6zM1374 1616h6v6h-6zM1380 1568h6v6h-6zM1380 1574h6v6h-6zM1386 1622h6v6h-6zM1398 1411h6v6h-6zM1398 1507h6v6h-6zM1398 1568h6v6h-6zM1411 1417h6v6h-6zM1411 1459h6v6h-6zM1411 1477h6v6h-6zM1411 1628h6v6h-6zM1417 1555h6v6h-6zM1417 1592h6v6h-6zM1417 1610h6v6h-6zM1423 1441h6v6h-6zM1423 1549h6v6h-6zM1423 1604h6v6h-6zM1429 1562h6v6h-6zM1429 1568h6v6h-6zM1429 1586h6v6h-6zM1435 1477h6v6h-6zM1435 1628h6v6h-6zM1441 1513h6v6h-6zM1441 1562h6v6h-6zM1441 1610h6v6h-6zM1453 1477h6v6h-6zM1453 1537h6v6h-6zM1453 1616h6v6h-6zM1465 1477h6v6h-6zM1465 1622h6v6h-6zM1471 1495h6v6h-6zM1477 1495h6v6h-6zM1483 1549h6v6h-6zM1483 1574h6v6h-6zM1483 1598h6v6h-6zM1489 1598h6v6h-6zM1501 1592h6v6h-6zM1507 1622h6v6h-6zM1513 1592h6v6h-6zM1525 1555h6v6h-6zM1537 1543h6v6h-6zM1549 1586h6v6h-6zM1555 1580h6v6h-6zM1562 1562h6v6h-6zM1574 1586h6v6h-6zM1574 1622h6v6h-6zM1574 1628h6v6h-6zM1586 1592h6v6h-6zM1592 1592h6v6h-6z"/>
</g>
<g>
<polygon points="262.0,897.5 868.0,897.5 565.0,1235.3" fill="#000" filter="url(#spkL)"/>
</g>
<g transform="matrix(0.5 -0.5575 0.5 0.5575 0 897.50)">
<path fill="#f8f0f0" d="M262 268h6v6h-6zM262 838h6v6h-6zM268 680h6v6h-6zM268 813h6v6h-6zM280 789h6v6h-6zM286 310h6v6h-6zM292 317h6v6h-6zM292 341h6v6h-6zM310 480h6v6h-6zM317 759h6v6h-6zM317 777h6v6h-6zM341 698h6v6h-6zM347 692h6v6h-6zM377 832h6v6h-6zM444 862h6v6h-6zM450 710h6v6h-6zM462 850h6v6h-6zM474 783h6v6h-6zM523 765h6v6h-6zM529 820h6v6h-6zM559 759h6v6h-6zM607 765h6v6h-6zM644 753h6v6h-6zM656 668h6v6h-6zM656 783h6v6h-6zM662 777h6v6h-6zM662 838h6v6h-6zM668 813h6v6h-6zM686 747h6v6h-6zM686 838h6v6h-6zM686 850h6v6h-6zM716 795h6v6h-6zM741 832h6v6h-6zM747 844h6v6h-6zM765 838h6v6h-6zM777 844h6v6h-6zM783 801h6v6h-6zM783 820h6v6h-6zM789 789h6v6h-6z"/>
<path fill="#f4e6e6" d="M262 420h6v6h-6zM262 426h6v6h-6zM262 668h6v6h-6zM262 777h6v6h-6zM268 747h6v6h-6zM268 771h6v6h-6zM274 565h6v6h-6zM274 777h6v6h-6zM274 789h6v6h-6zM280 680h6v6h-6zM298 347h6v6h-6zM298 801h6v6h-6zM310 777h6v6h-6zM317 420h6v6h-6zM317 723h6v6h-6zM401 747h6v6h-6zM426 753h6v6h-6zM450 723h6v6h-6zM450 729h6v6h-6zM450 741h6v6h-6zM486 698h6v6h-6zM504 698h6v6h-6zM517 680h6v6h-6zM559 753h6v6h-6zM607 789h6v6h-6zM632 723h6v6h-6zM644 759h6v6h-6zM650 686h6v6h-6zM668 741h6v6h-6zM680 723h6v6h-6zM692 795h6v6h-6zM704 844h6v6h-6zM710 856h6v6h-6zM789 826h6v6h-6zM795 795h6v6h-6z"/>
<path fill="#efdede" d="M262 723h6v6h-6zM262 783h6v6h-6zM280 759h6v6h-6zM280 801h6v6h-6zM286 765h6v6h-6zM286 832h6v6h-6zM292 359h6v6h-6zM292 771h6v6h-6zM310 820h6v6h-6zM323 832h6v6h-6zM341 656h6v6h-6zM456 862h6v6h-6zM486 765h6v6h-6zM504 789h6v6h-6zM565 813h6v6h-6zM571 850h6v6h-6zM620 765h6v6h-6zM644 771h6v6h-6zM680 862h6v6h-6zM686 686h6v6h-6zM686 716h6v6h-6zM753 801h6v6h-6zM759 789h6v6h-6zM801 801h6v6h-6z"/>
<path fill="#f9f5f3" d="M262 462h6v6h-6zM262 674h6v6h-6zM274 856h6v6h-6zM280 729h6v6h-6zM292 377h6v6h-6zM298 656h6v6h-6zM310 686h6v6h-6zM310 850h6v6h-6zM317 820h6v6h-6zM323 856h6v6h-6zM359 832h6v6h-6zM395 850h6v6h-6zM401 862h6v6h-6zM498 716h6v6h-6zM510 656h6v6h-6zM517 789h6v6h-6zM656 662h6v6h-6zM704 747h6v6h-6zM710 820h6v6h-6zM723 735h6v6h-6zM723 759h6v6h-6zM723 832h6v6h-6zM729 729h6v6h-6zM753 783h6v6h-6zM753 820h6v6h-6zM765 777h6v6h-6zM795 856h6v6h-6zM807 838h6v6h-6zM832 850h6v6h-6z"/>
</g>
<g>
<polygon points="1030.0,902.5 1634.0,902.5 1332.0,1243.8" fill="#fdfcfc" opacity="1.0"/>
<polygon points="1030.0,902.5 1634.0,902.5 1332.0,1243.8" fill="#000" filter="url(#spkL)"/>
</g>
<g transform="matrix(0.5 -0.5650 0.5 0.5650 0 902.50)">
<path fill="#f8f0f0" d="M1030 1030h6v6h-6zM1030 1096h6v6h-6zM1030 1175h6v6h-6zM1030 1235h6v6h-6zM1030 1314h6v6h-6zM1030 1344h6v6h-6zM1030 1374h6v6h-6zM1030 1386h6v6h-6zM1030 1586h6v6h-6zM1036 1066h6v6h-6zM1036 1084h6v6h-6zM1036 1145h6v6h-6zM1036 1151h6v6h-6zM1036 1193h6v6h-6zM1036 1223h6v6h-6zM1036 1308h6v6h-6zM1036 1374h6v6h-6zM1036 1386h6v6h-6zM1036 1429h6v6h-6zM1036 1447h6v6h-6zM1036 1459h6v6h-6zM1036 1495h6v6h-6zM1036 1501h6v6h-6zM1036 1537h6v6h-6zM1036 1592h6v6h-6zM1042 1175h6v6h-6zM1042 1290h6v6h-6zM1042 1296h6v6h-6zM1042 1344h6v6h-6zM1042 1386h6v6h-6zM1048 1356h6v6h-6zM1048 1465h6v6h-6zM1048 1477h6v6h-6zM1060 1157h6v6h-6zM1060 1169h6v6h-6zM1060 1193h6v6h-6zM1060 1229h6v6h-6zM1060 1284h6v6h-6zM1060 1404h6v6h-6zM1060 1417h6v6h-6zM1060 1441h6v6h-6zM1060 1447h6v6h-6zM1060 1483h6v6h-6zM1060 1519h6v6h-6zM1066 1151h6v6h-6zM1066 1223h6v6h-6zM1066 1266h6v6h-6zM1066 1356h6v6h-6zM1066 1555h6v6h-6zM1066 1622h6v6h-6zM1072 1308h6v6h-6zM1072 1380h6v6h-6zM1078 1109h6v6h-6zM1078 1411h6v6h-6zM1084 1109h6v6h-6zM1084 1145h6v6h-6zM1084 1163h6v6h-6zM1084 1235h6v6h-6zM1084 1272h6v6h-6zM1084 1356h6v6h-6zM1084 1453h6v6h-6zM1084 1471h6v6h-6zM1084 1489h6v6h-6zM1090 1187h6v6h-6zM1090 1223h6v6h-6zM1090 1302h6v6h-6zM1090 1441h6v6h-6zM1090 1592h6v6h-6zM1096 1109h6v6h-6zM1102 1109h6v6h-6zM1102 1163h6v6h-6zM1102 1290h6v6h-6zM1102 1356h6v6h-6zM1102 1435h6v6h-6zM1102 1525h6v6h-6zM1109 1115h6v6h-6zM1109 1223h6v6h-6zM1109 1247h6v6h-6zM1109 1380h6v6h-6zM1109 1531h6v6h-6zM1109 1598h6v6h-6zM1115 1205h6v6h-6zM1115 1380h6v6h-6zM1115 1441h6v6h-6zM1115 1513h6v6h-6zM1115 1525h6v6h-6zM1115 1543h6v6h-6zM1121 1193h6v6h-6zM1121 1260h6v6h-6zM1121 1284h6v6h-6zM1121 1290h6v6h-6zM1121 1404h6v6h-6zM1121 1423h6v6h-6zM1121 1429h6v6h-6zM1121 1525h6v6h-6zM1121 1580h6v6h-6zM1127 1151h6v6h-6zM1127 1362h6v6h-6zM1127 1386h6v6h-6zM1127 1423h6v6h-6zM1127 1435h6v6h-6zM1127 1441h6v6h-6zM1127 1459h6v6h-6zM1133 1139h6v6h-6zM1133 1314h6v6h-6zM1139 1205h6v6h-6zM1139 1223h6v6h-6zM1139 1229h6v6h-6zM1139 1398h6v6h-6zM1139 1531h6v6h-6zM1145 1163h6v6h-6zM1145 1290h6v6h-6zM1145 1380h6v6h-6zM1145 1398h6v6h-6zM1145 1610h6v6h-6zM1151 1332h6v6h-6zM1151 1398h6v6h-6zM1151 1459h6v6h-6zM1157 1217h6v6h-6zM1157 1235h6v6h-6zM1157 1284h6v6h-6zM1157 1429h6v6h-6zM1163 1175h6v6h-6zM1163 1253h6v6h-6zM1163 1290h6v6h-6zM1163 1302h6v6h-6zM1163 1314h6v6h-6zM1163 1326h6v6h-6zM1163 1332h6v6h-6zM1163 1392h6v6h-6zM1163 1429h6v6h-6zM1169 1332h6v6h-6zM1169 1423h6v6h-6zM1169 1429h6v6h-6zM1175 1260h6v6h-6zM1175 1543h6v6h-6zM1181 1290h6v6h-6zM1181 1459h6v6h-6zM1181 1513h6v6h-6zM1187 1266h6v6h-6zM1187 1284h6v6h-6zM1187 1507h6v6h-6zM1193 1199h6v6h-6zM1193 1253h6v6h-6zM1193 1278h6v6h-6zM1193 1332h6v6h-6zM1193 1356h6v6h-6zM1193 1453h6v6h-6zM1193 1537h6v6h-6zM1193 1622h6v6h-6zM1199 1205h6v6h-6zM1199 1241h6v6h-6zM1199 1272h6v6h-6zM1199 1350h6v6h-6zM1199 1417h6v6h-6zM1205 1229h6v6h-6zM1205 1260h6v6h-6zM1205 1302h6v6h-6zM1205 1483h6v6h-6zM1211 1253h6v6h-6zM1211 1441h6v6h-6zM1217 1411h6v6h-6zM1217 1429h6v6h-6zM1217 1537h6v6h-6zM1217 1543h6v6h-6zM1223 1223h6v6h-6zM1223 1247h6v6h-6zM1223 1260h6v6h-6zM1223 1441h6v6h-6zM1223 1519h6v6h-6zM1229 1290h6v6h-6zM1229 1404h6v6h-6zM1229 1429h6v6h-6zM1229 1441h6v6h-6zM1235 1235h6v6h-6zM1235 1247h6v6h-6zM1235 1290h6v6h-6zM1235 1574h6v6h-6zM1241 1272h6v6h-6zM1247 1368h6v6h-6zM1247 1380h6v6h-6zM1247 1483h6v6h-6zM1253 1308h6v6h-6zM1253 1453h6v6h-6zM1253 1465h6v6h-6zM1253 1543h6v6h-6zM1260 1465h6v6h-6zM1260 1549h6v6h-6zM1260 1574h6v6h-6zM1266 1278h6v6h-6zM1266 1356h6v6h-6zM1266 1489h6v6h-6zM1272 1417h6v6h-6zM1272 1543h6v6h-6zM1278 1278h6v6h-6zM1278 1507h6v6h-6zM1278 1543h6v6h-6zM1284 1495h6v6h-6zM1284 1519h6v6h-6zM1290 1314h6v6h-6zM1290 1344h6v6h-6zM1290 1477h6v6h-6zM1290 1489h6v6h-6zM1290 1574h6v6h-6zM1290 1586h6v6h-6zM1296 1368h6v6h-6zM1302 1513h6v6h-6zM1314 1314h6v6h-6zM1314 1332h6v6h-6zM1314 1398h6v6h-6zM1314 1453h6v6h-6zM1326 1398h6v6h-6zM1326 1604h6v6h-6zM1332 1429h6v6h-6zM1338 1477h6v6h-6zM1338 1507h6v6h-6zM1344 1429h6v6h-6zM1344 1441h6v6h-6zM1344 1477h6v6h-6zM1356 1392h6v6h-6zM1356 1423h6v6h-6zM1356 1465h6v6h-6zM1356 1525h6v6h-6zM1362 1483h6v6h-6zM1362 1616h6v6h-6zM1374 1411h6v6h-6zM1374 1423h6v6h-6zM1380 1380h6v6h-6zM1380 1411h6v6h-6zM1380 1622h6v6h-6zM1386 1441h6v6h-6zM1386 1459h6v6h-6zM1386 1477h6v6h-6zM1386 1537h6v6h-6zM1386 1580h6v6h-6zM1392 1441h6v6h-6zM1392 1447h6v6h-6zM1392 1465h6v6h-6zM1392 1543h6v6h-6zM1398 1507h6v6h-6zM1404 1423h6v6h-6zM1404 1447h6v6h-6zM1404 1549h6v6h-6zM1417 1525h6v6h-6zM1423 1525h6v6h-6zM1429 1447h6v6h-6zM1429 1513h6v6h-6zM1429 1586h6v6h-6zM1435 1435h6v6h-6zM1435 1459h6v6h-6zM1435 1501h6v6h-6zM1435 1513h6v6h-6zM1441 1513h6v6h-6zM1447 1531h6v6h-6zM1459 1465h6v6h-6zM1459 1495h6v6h-6zM1465 1477h6v6h-6zM1495 1519h6v6h-6zM1513 1555h6v6h-6zM1519 1519h6v6h-6zM1519 1531h6v6h-6zM1525 1604h6v6h-6zM1531 1549h6v6h-6zM1549 1549h6v6h-6z"/>
<path fill="#f4e6e6" d="M1030 1054h6v6h-6zM1030 1127h6v6h-6zM1030 1163h6v6h-6zM1030 1205h6v6h-6zM1030 1247h6v6h-6zM1030 1362h6v6h-6zM1030 1411h6v6h-6zM1030 1423h6v6h-6zM1030 1507h6v6h-6zM1030 1525h6v6h-6zM1036 1109h6v6h-6zM1036 1121h6v6h-6zM1036 1247h6v6h-6zM1036 1296h6v6h-6zM1036 1392h6v6h-6zM1036 1453h6v6h-6zM1036 1531h6v6h-6zM1042 1199h6v6h-6zM1042 1284h6v6h-6zM1042 1356h6v6h-6zM1042 1525h6v6h-6zM1048 1096h6v6h-6zM1048 1296h6v6h-6zM1048 1374h6v6h-6zM1048 1628h6v6h-6zM1054 1531h6v6h-6zM1060 1145h6v6h-6zM1060 1205h6v6h-6zM1060 1235h6v6h-6zM1060 1278h6v6h-6zM1060 1338h6v6h-6zM1060 1380h6v6h-6zM1060 1459h6v6h-6zM1060 1489h6v6h-6zM1066 1066h6v6h-6zM1066 1078h6v6h-6zM1066 1235h6v6h-6zM1066 1247h6v6h-6zM1066 1344h6v6h-6zM1066 1374h6v6h-6zM1066 1398h6v6h-6zM1066 1404h6v6h-6zM1066 1429h6v6h-6zM1066 1453h6v6h-6zM1072 1241h6v6h-6zM1072 1350h6v6h-6zM1078 1272h6v6h-6zM1078 1290h6v6h-6zM1084 1115h6v6h-6zM1084 1241h6v6h-6zM1084 1284h6v6h-6zM1084 1302h6v6h-6zM1084 1435h6v6h-6zM1084 1513h6v6h-6zM1090 1109h6v6h-6zM1090 1260h6v6h-6zM1090 1266h6v6h-6zM1090 1272h6v6h-6zM1090 1525h6v6h-6zM1096 1193h6v6h-6zM1096 1266h6v6h-6zM1096 1332h6v6h-6zM1096 1441h6v6h-6zM1096 1453h6v6h-6zM1096 1525h6v6h-6zM1096 1549h6v6h-6zM1102 1193h6v6h-6zM1102 1266h6v6h-6zM1102 1284h6v6h-6zM1102 1429h6v6h-6zM1102 1441h6v6h-6zM1102 1586h6v6h-6zM1109 1181h6v6h-6zM1109 1290h6v6h-6zM1109 1320h6v6h-6zM1109 1417h6v6h-6zM1109 1435h6v6h-6zM1109 1543h6v6h-6zM1115 1115h6v6h-6zM1115 1290h6v6h-6zM1115 1344h6v6h-6zM1115 1417h6v6h-6zM1115 1435h6v6h-6zM1121 1386h6v6h-6zM1133 1501h6v6h-6zM1139 1181h6v6h-6zM1139 1284h6v6h-6zM1139 1386h6v6h-6zM1139 1417h6v6h-6zM1139 1459h6v6h-6zM1139 1477h6v6h-6zM1139 1495h6v6h-6zM1145 1247h6v6h-6zM1145 1284h6v6h-6zM1145 1374h6v6h-6zM1145 1429h6v6h-6zM1151 1175h6v6h-6zM1151 1247h6v6h-6zM1151 1356h6v6h-6zM1151 1580h6v6h-6zM1157 1169h6v6h-6zM1157 1465h6v6h-6zM1157 1555h6v6h-6zM1163 1199h6v6h-6zM1175 1199h6v6h-6zM1175 1205h6v6h-6zM1175 1417h6v6h-6zM1175 1423h6v6h-6zM1181 1211h6v6h-6zM1181 1247h6v6h-6zM1181 1314h6v6h-6zM1181 1374h6v6h-6zM1181 1392h6v6h-6zM1181 1417h6v6h-6zM1181 1519h6v6h-6zM1187 1193h6v6h-6zM1193 1302h6v6h-6zM1193 1374h6v6h-6zM1193 1507h6v6h-6zM1193 1543h6v6h-6zM1199 1235h6v6h-6zM1199 1314h6v6h-6zM1199 1477h6v6h-6zM1205 1308h6v6h-6zM1205 1429h6v6h-6zM1211 1392h6v6h-6zM1217 1447h6v6h-6zM1217 1592h6v6h-6zM1223 1253h6v6h-6zM1223 1278h6v6h-6zM1223 1314h6v6h-6zM1223 1362h6v6h-6zM1223 1398h6v6h-6zM1223 1429h6v6h-6zM1223 1453h6v6h-6zM1223 1537h6v6h-6zM1235 1344h6v6h-6zM1235 1398h6v6h-6zM1235 1404h6v6h-6zM1235 1411h6v6h-6zM1235 1423h6v6h-6zM1235 1441h6v6h-6zM1235 1447h6v6h-6zM1235 1459h6v6h-6zM1235 1483h6v6h-6zM1235 1519h6v6h-6zM1235 1598h6v6h-6zM1241 1477h6v6h-6zM1241 1483h6v6h-6zM1247 1260h6v6h-6zM1247 1290h6v6h-6zM1247 1453h6v6h-6zM1247 1465h6v6h-6zM1253 1332h6v6h-6zM1253 1495h6v6h-6zM1260 1356h6v6h-6zM1260 1374h6v6h-6zM1260 1459h6v6h-6zM1260 1531h6v6h-6zM1266 1404h6v6h-6zM1266 1513h6v6h-6zM1272 1441h6v6h-6zM1278 1392h6v6h-6zM1278 1465h6v6h-6zM1278 1477h6v6h-6zM1278 1531h6v6h-6zM1278 1555h6v6h-6zM1284 1296h6v6h-6zM1284 1302h6v6h-6zM1284 1350h6v6h-6zM1284 1386h6v6h-6zM1284 1404h6v6h-6zM1290 1356h6v6h-6zM1290 1374h6v6h-6zM1290 1380h6v6h-6zM1290 1429h6v6h-6zM1290 1459h6v6h-6zM1290 1507h6v6h-6zM1290 1598h6v6h-6zM1290 1604h6v6h-6zM1302 1302h6v6h-6zM1302 1344h6v6h-6zM1302 1404h6v6h-6zM1302 1441h6v6h-6zM1302 1477h6v6h-6zM1302 1525h6v6h-6zM1302 1574h6v6h-6zM1302 1592h6v6h-6zM1308 1543h6v6h-6zM1314 1411h6v6h-6zM1314 1441h6v6h-6zM1314 1537h6v6h-6zM1320 1320h6v6h-6zM1320 1429h6v6h-6zM1320 1441h6v6h-6zM1326 1380h6v6h-6zM1326 1417h6v6h-6zM1326 1459h6v6h-6zM1332 1417h6v6h-6zM1344 1513h6v6h-6zM1350 1501h6v6h-6zM1356 1398h6v6h-6zM1356 1549h6v6h-6zM1362 1441h6v6h-6zM1368 1404h6v6h-6zM1380 1423h6v6h-6zM1380 1537h6v6h-6zM1386 1435h6v6h-6zM1386 1447h6v6h-6zM1386 1543h6v6h-6zM1392 1459h6v6h-6zM1392 1549h6v6h-6zM1398 1411h6v6h-6zM1398 1417h6v6h-6zM1398 1429h6v6h-6zM1404 1435h6v6h-6zM1404 1477h6v6h-6zM1404 1489h6v6h-6zM1404 1495h6v6h-6zM1404 1507h6v6h-6zM1404 1531h6v6h-6zM1404 1555h6v6h-6zM1411 1423h6v6h-6zM1411 1543h6v6h-6zM1417 1417h6v6h-6zM1417 1441h6v6h-6zM1417 1477h6v6h-6zM1417 1483h6v6h-6zM1417 1495h6v6h-6zM1417 1616h6v6h-6zM1423 1423h6v6h-6zM1423 1435h6v6h-6zM1423 1507h6v6h-6zM1423 1549h6v6h-6zM1429 1435h6v6h-6zM1429 1465h6v6h-6zM1435 1489h6v6h-6zM1435 1568h6v6h-6zM1435 1628h6v6h-6zM1441 1441h6v6h-6zM1441 1465h6v6h-6zM1441 1537h6v6h-6zM1447 1507h6v6h-6zM1453 1525h6v6h-6zM1453 1543h6v6h-6zM1453 1562h6v6h-6zM1459 1543h6v6h-6zM1465 1537h6v6h-6zM1465 1549h6v6h-6zM1465 1622h6v6h-6zM1477 1628h6v6h-6zM1507 1519h6v6h-6zM1513 1525h6v6h-6zM1519 1537h6v6h-6zM1519 1592h6v6h-6zM1543 1543h6v6h-6zM1549 1622h6v6h-6zM1568 1568h6v6h-6z"/>
<path fill="#efdede" d="M1030 1042h6v6h-6zM1030 1151h6v6h-6zM1030 1284h6v6h-6zM1030 1290h6v6h-6zM1030 1356h6v6h-6zM1030 1465h6v6h-6zM1030 1513h6v6h-6zM1030 1592h6v6h-6zM1036 1127h6v6h-6zM1036 1157h6v6h-6zM1036 1235h6v6h-6zM1036 1284h6v6h-6zM1036 1350h6v6h-6zM1036 1380h6v6h-6zM1036 1417h6v6h-6zM1036 1543h6v6h-6zM1036 1616h6v6h-6zM1042 1054h6v6h-6zM1042 1362h6v6h-6zM1042 1398h6v6h-6zM1042 1519h6v6h-6zM1048 1090h6v6h-6zM1048 1109h6v6h-6zM1048 1199h6v6h-6zM1048 1205h6v6h-6zM1048 1308h6v6h-6zM1048 1417h6v6h-6zM1054 1109h6v6h-6zM1054 1278h6v6h-6zM1060 1084h6v6h-6zM1060 1247h6v6h-6zM1060 1290h6v6h-6zM1060 1320h6v6h-6zM1060 1332h6v6h-6zM1060 1543h6v6h-6zM1066 1133h6v6h-6zM1066 1314h6v6h-6zM1066 1350h6v6h-6zM1066 1465h6v6h-6zM1066 1483h6v6h-6zM1066 1501h6v6h-6zM1066 1507h6v6h-6zM1072 1404h6v6h-6zM1078 1145h6v6h-6zM1078 1537h6v6h-6zM1084 1181h6v6h-6zM1084 1223h6v6h-6zM1084 1266h6v6h-6zM1084 1338h6v6h-6zM1084 1531h6v6h-6zM1090 1229h6v6h-6zM1090 1417h6v6h-6zM1096 1102h6v6h-6zM1096 1139h6v6h-6zM1096 1181h6v6h-6zM1096 1211h6v6h-6zM1096 1235h6v6h-6zM1096 1241h6v6h-6zM1096 1272h6v6h-6zM1096 1423h6v6h-6zM1096 1465h6v6h-6zM1096 1537h6v6h-6zM1096 1604h6v6h-6zM1102 1157h6v6h-6zM1102 1247h6v6h-6zM1102 1302h6v6h-6zM1102 1537h6v6h-6zM1109 1121h6v6h-6zM1109 1235h6v6h-6zM1109 1241h6v6h-6zM1109 1266h6v6h-6zM1109 1404h6v6h-6zM1109 1441h6v6h-6zM1109 1507h6v6h-6zM1115 1193h6v6h-6zM1115 1223h6v6h-6zM1115 1260h6v6h-6zM1115 1447h6v6h-6zM1121 1175h6v6h-6zM1121 1332h6v6h-6zM1121 1459h6v6h-6zM1121 1519h6v6h-6zM1121 1622h6v6h-6zM1127 1139h6v6h-6zM1127 1483h6v6h-6zM1127 1519h6v6h-6zM1127 1549h6v6h-6zM1133 1193h6v6h-6zM1133 1429h6v6h-6zM1133 1435h6v6h-6zM1133 1441h6v6h-6zM1133 1465h6v6h-6zM1139 1145h6v6h-6zM1139 1260h6v6h-6zM1139 1290h6v6h-6zM1139 1435h6v6h-6zM1145 1157h6v6h-6zM1145 1181h6v6h-6zM1145 1507h6v6h-6zM1151 1205h6v6h-6zM1151 1260h6v6h-6zM1151 1296h6v6h-6zM1151 1374h6v6h-6zM1151 1549h6v6h-6zM1151 1555h6v6h-6zM1157 1193h6v6h-6zM1157 1332h6v6h-6zM1157 1580h6v6h-6zM1163 1356h6v6h-6zM1163 1362h6v6h-6zM1163 1622h6v6h-6zM1169 1193h6v6h-6zM1169 1223h6v6h-6zM1169 1380h6v6h-6zM1169 1398h6v6h-6zM1169 1447h6v6h-6zM1169 1586h6v6h-6zM1181 1235h6v6h-6zM1181 1308h6v6h-6zM1181 1423h6v6h-6zM1181 1447h6v6h-6zM1181 1453h6v6h-6zM1181 1507h6v6h-6zM1187 1392h6v6h-6zM1193 1404h6v6h-6zM1193 1411h6v6h-6zM1193 1423h6v6h-6zM1193 1465h6v6h-6zM1199 1217h6v6h-6zM1199 1266h6v6h-6zM1199 1290h6v6h-6zM1199 1495h6v6h-6zM1199 1543h6v6h-6zM1205 1223h6v6h-6zM1205 1290h6v6h-6zM1205 1344h6v6h-6zM1205 1392h6v6h-6zM1205 1435h6v6h-6zM1205 1489h6v6h-6zM1205 1519h6v6h-6zM1211 1260h6v6h-6zM1217 1314h6v6h-6zM1217 1549h6v6h-6zM1223 1229h6v6h-6zM1223 1241h6v6h-6zM1223 1302h6v6h-6zM1223 1404h6v6h-6zM1223 1489h6v6h-6zM1223 1507h6v6h-6zM1223 1543h6v6h-6zM1223 1549h6v6h-6zM1235 1374h6v6h-6zM1235 1435h6v6h-6zM1235 1477h6v6h-6zM1235 1543h6v6h-6zM1241 1284h6v6h-6zM1241 1380h6v6h-6zM1241 1628h6v6h-6zM1247 1320h6v6h-6zM1247 1362h6v6h-6zM1247 1374h6v6h-6zM1247 1507h6v6h-6zM1247 1525h6v6h-6zM1253 1417h6v6h-6zM1253 1447h6v6h-6zM1260 1266h6v6h-6zM1260 1580h6v6h-6zM1266 1314h6v6h-6zM1266 1362h6v6h-6zM1266 1411h6v6h-6zM1266 1417h6v6h-6zM1266 1447h6v6h-6zM1266 1477h6v6h-6zM1266 1543h6v6h-6zM1272 1411h6v6h-6zM1272 1459h6v6h-6zM1272 1592h6v6h-6zM1278 1302h6v6h-6zM1284 1332h6v6h-6zM1284 1392h6v6h-6zM1284 1417h6v6h-6zM1284 1525h6v6h-6zM1284 1543h6v6h-6zM1290 1392h6v6h-6zM1290 1404h6v6h-6zM1290 1537h6v6h-6zM1296 1326h6v6h-6zM1296 1543h6v6h-6zM1302 1435h6v6h-6zM1314 1356h6v6h-6zM1314 1380h6v6h-6zM1314 1447h6v6h-6zM1314 1568h6v6h-6zM1320 1380h6v6h-6zM1326 1429h6v6h-6zM1326 1622h6v6h-6zM1332 1362h6v6h-6zM1332 1392h6v6h-6zM1338 1447h6v6h-6zM1338 1543h6v6h-6zM1344 1417h6v6h-6zM1344 1435h6v6h-6zM1344 1465h6v6h-6zM1356 1586h6v6h-6zM1362 1411h6v6h-6zM1368 1435h6v6h-6zM1374 1398h6v6h-6zM1374 1447h6v6h-6zM1374 1562h6v6h-6zM1374 1604h6v6h-6zM1380 1549h6v6h-6zM1386 1392h6v6h-6zM1386 1429h6v6h-6zM1398 1404h6v6h-6zM1398 1543h6v6h-6zM1404 1411h6v6h-6zM1404 1604h6v6h-6zM1417 1447h6v6h-6zM1417 1471h6v6h-6zM1417 1549h6v6h-6zM1423 1459h6v6h-6zM1429 1549h6v6h-6zM1441 1459h6v6h-6zM1453 1568h6v6h-6zM1465 1513h6v6h-6zM1465 1531h6v6h-6zM1477 1501h6v6h-6zM1477 1555h6v6h-6zM1489 1555h6v6h-6zM1489 1604h6v6h-6zM1495 1525h6v6h-6zM1507 1543h6v6h-6zM1513 1519h6v6h-6zM1531 1537h6v6h-6zM1537 1543h6v6h-6z"/>
<path fill="#f9f5f3" d="M1030 1060h6v6h-6zM1030 1121h6v6h-6zM1030 1181h6v6h-6zM1030 1211h6v6h-6zM1030 1223h6v6h-6zM1030 1296h6v6h-6zM1030 1302h6v6h-6zM1030 1350h6v6h-6zM1030 1549h6v6h-6zM1036 1078h6v6h-6zM1036 1096h6v6h-6zM1036 1133h6v6h-6zM1036 1139h6v6h-6zM1036 1199h6v6h-6zM1036 1302h6v6h-6zM1042 1078h6v6h-6zM1042 1145h6v6h-6zM1042 1187h6v6h-6zM1042 1392h6v6h-6zM1042 1447h6v6h-6zM1042 1489h6v6h-6zM1042 1531h6v6h-6zM1048 1495h6v6h-6zM1054 1066h6v6h-6zM1054 1127h6v6h-6zM1054 1266h6v6h-6zM1054 1549h6v6h-6zM1054 1622h6v6h-6zM1060 1199h6v6h-6zM1060 1272h6v6h-6zM1060 1314h6v6h-6zM1060 1362h6v6h-6zM1060 1386h6v6h-6zM1060 1549h6v6h-6zM1066 1109h6v6h-6zM1066 1459h6v6h-6zM1066 1525h6v6h-6zM1072 1429h6v6h-6zM1078 1199h6v6h-6zM1078 1332h6v6h-6zM1078 1423h6v6h-6zM1078 1477h6v6h-6zM1078 1531h6v6h-6zM1084 1253h6v6h-6zM1084 1404h6v6h-6zM1084 1429h6v6h-6zM1084 1459h6v6h-6zM1084 1519h6v6h-6zM1090 1096h6v6h-6zM1090 1247h6v6h-6zM1090 1338h6v6h-6zM1090 1465h6v6h-6zM1090 1471h6v6h-6zM1096 1247h6v6h-6zM1096 1610h6v6h-6zM1102 1151h6v6h-6zM1102 1278h6v6h-6zM1102 1453h6v6h-6zM1102 1549h6v6h-6zM1109 1362h6v6h-6zM1109 1622h6v6h-6zM1115 1163h6v6h-6zM1115 1211h6v6h-6zM1115 1229h6v6h-6zM1115 1235h6v6h-6zM1115 1272h6v6h-6zM1115 1392h6v6h-6zM1115 1429h6v6h-6zM1115 1483h6v6h-6zM1115 1507h6v6h-6zM1115 1549h6v6h-6zM1121 1229h6v6h-6zM1121 1266h6v6h-6zM1121 1477h6v6h-6zM1121 1537h6v6h-6zM1127 1163h6v6h-6zM1127 1241h6v6h-6zM1127 1247h6v6h-6zM1127 1296h6v6h-6zM1127 1380h6v6h-6zM1127 1417h6v6h-6zM1127 1477h6v6h-6zM1127 1531h6v6h-6zM1133 1272h6v6h-6zM1133 1278h6v6h-6zM1133 1344h6v6h-6zM1133 1513h6v6h-6zM1139 1139h6v6h-6zM1139 1163h6v6h-6zM1139 1235h6v6h-6zM1139 1247h6v6h-6zM1139 1302h6v6h-6zM1139 1374h6v6h-6zM1139 1441h6v6h-6zM1139 1489h6v6h-6zM1145 1205h6v6h-6zM1145 1223h6v6h-6zM1145 1332h6v6h-6zM1145 1392h6v6h-6zM1145 1423h6v6h-6zM1145 1477h6v6h-6zM1145 1537h6v6h-6zM1145 1549h6v6h-6zM1151 1278h6v6h-6zM1151 1284h6v6h-6zM1157 1247h6v6h-6zM1157 1374h6v6h-6zM1163 1217h6v6h-6zM1163 1260h6v6h-6zM1163 1266h6v6h-6zM1163 1278h6v6h-6zM1169 1235h6v6h-6zM1169 1253h6v6h-6zM1169 1272h6v6h-6zM1169 1404h6v6h-6zM1175 1266h6v6h-6zM1175 1549h6v6h-6zM1181 1223h6v6h-6zM1181 1404h6v6h-6zM1181 1543h6v6h-6zM1187 1447h6v6h-6zM1187 1453h6v6h-6zM1193 1568h6v6h-6zM1199 1429h6v6h-6zM1199 1447h6v6h-6zM1199 1519h6v6h-6zM1205 1217h6v6h-6zM1205 1356h6v6h-6zM1205 1374h6v6h-6zM1205 1513h6v6h-6zM1205 1543h6v6h-6zM1211 1435h6v6h-6zM1217 1290h6v6h-6zM1217 1374h6v6h-6zM1217 1404h6v6h-6zM1217 1465h6v6h-6zM1223 1284h6v6h-6zM1223 1417h6v6h-6zM1223 1435h6v6h-6zM1229 1260h6v6h-6zM1229 1284h6v6h-6zM1229 1386h6v6h-6zM1229 1392h6v6h-6zM1229 1398h6v6h-6zM1235 1284h6v6h-6zM1235 1314h6v6h-6zM1235 1326h6v6h-6zM1235 1332h6v6h-6zM1235 1338h6v6h-6zM1235 1386h6v6h-6zM1235 1392h6v6h-6zM1235 1429h6v6h-6zM1235 1471h6v6h-6zM1235 1507h6v6h-6zM1235 1513h6v6h-6zM1235 1525h6v6h-6zM1241 1308h6v6h-6zM1241 1398h6v6h-6zM1241 1429h6v6h-6zM1241 1489h6v6h-6zM1241 1525h6v6h-6zM1247 1356h6v6h-6zM1247 1459h6v6h-6zM1253 1525h6v6h-6zM1253 1555h6v6h-6zM1260 1278h6v6h-6zM1260 1314h6v6h-6zM1260 1519h6v6h-6zM1260 1568h6v6h-6zM1260 1586h6v6h-6zM1266 1380h6v6h-6zM1266 1568h6v6h-6zM1272 1344h6v6h-6zM1272 1386h6v6h-6zM1272 1507h6v6h-6zM1278 1284h6v6h-6zM1278 1417h6v6h-6zM1278 1471h6v6h-6zM1284 1320h6v6h-6zM1284 1380h6v6h-6zM1284 1411h6v6h-6zM1284 1423h6v6h-6zM1290 1435h6v6h-6zM1290 1501h6v6h-6zM1290 1519h6v6h-6zM1296 1549h6v6h-6zM1302 1356h6v6h-6zM1302 1380h6v6h-6zM1302 1459h6v6h-6zM1302 1489h6v6h-6zM1302 1604h6v6h-6zM1314 1368h6v6h-6zM1314 1435h6v6h-6zM1314 1465h6v6h-6zM1314 1507h6v6h-6zM1314 1543h6v6h-6zM1320 1574h6v6h-6zM1332 1356h6v6h-6zM1332 1453h6v6h-6zM1332 1483h6v6h-6zM1332 1525h6v6h-6zM1338 1398h6v6h-6zM1350 1441h6v6h-6zM1350 1549h6v6h-6zM1350 1610h6v6h-6zM1356 1356h6v6h-6zM1362 1622h6v6h-6zM1368 1441h6v6h-6zM1374 1374h6v6h-6zM1374 1429h6v6h-6zM1374 1453h6v6h-6zM1374 1471h6v6h-6zM1380 1386h6v6h-6zM1380 1568h6v6h-6zM1386 1404h6v6h-6zM1386 1513h6v6h-6zM1392 1477h6v6h-6zM1392 1489h6v6h-6zM1398 1423h6v6h-6zM1411 1453h6v6h-6zM1411 1531h6v6h-6zM1411 1568h6v6h-6zM1423 1453h6v6h-6zM1423 1489h6v6h-6zM1423 1537h6v6h-6zM1429 1441h6v6h-6zM1429 1519h6v6h-6zM1429 1628h6v6h-6zM1435 1519h6v6h-6zM1447 1459h6v6h-6zM1453 1495h6v6h-6zM1459 1513h6v6h-6zM1465 1483h6v6h-6zM1465 1519h6v6h-6zM1465 1580h6v6h-6zM1465 1598h6v6h-6zM1471 1543h6v6h-6zM1477 1525h6v6h-6zM1489 1543h6v6h-6zM1495 1628h6v6h-6zM1507 1531h6v6h-6z"/>
</g>
<clipPath id="hc1"><rect x="0" y="897.5" width="1715" height="700"/></clipPath><g clip-path="url(#hc1)"><g filter="url(#hb)">
<g transform="matrix(0.5 -0.5575 0.5 0.5575 0 894.72) translate(0 0)">
<path fill="#ffffbf" d="M325.0 325.0h5.4v5.4h-5.4zM325.0 474.5h5.4v5.4h-5.4zM325.0 484.5h5.4v5.4h-5.4zM330.0 354.9h5.4v5.4h-5.4zM330.0 369.9h5.4v5.4h-5.4zM330.0 384.8h5.4v5.4h-5.4zM330.0 394.8h5.4v5.4h-5.4zM330.0 454.6h5.4v5.4h-5.4zM335.0 364.9h5.4v5.4h-5.4zM364.9 414.7h5.4v5.4h-5.4zM364.9 424.7h5.4v5.4h-5.4zM364.9 439.7h5.4v5.4h-5.4zM364.9 454.6h5.4v5.4h-5.4zM364.9 464.6h5.4v5.4h-5.4zM389.8 584.2h5.4v5.4h-5.4zM389.8 609.1h5.4v5.4h-5.4zM394.8 564.3h5.4v5.4h-5.4zM399.8 439.7h5.4v5.4h-5.4zM414.7 429.7h5.4v5.4h-5.4zM414.7 439.7h5.4v5.4h-5.4zM414.7 474.5h5.4v5.4h-5.4zM419.7 549.3h5.4v5.4h-5.4zM424.7 509.4h5.4v5.4h-5.4zM424.7 519.4h5.4v5.4h-5.4zM424.7 554.3h5.4v5.4h-5.4zM429.7 499.5h5.4v5.4h-5.4zM429.7 509.4h5.4v5.4h-5.4zM434.7 434.7h5.4v5.4h-5.4zM434.7 459.6h5.4v5.4h-5.4zM434.7 464.6h5.4v5.4h-5.4zM434.7 469.6h5.4v5.4h-5.4zM434.7 479.5h5.4v5.4h-5.4zM439.7 519.4h5.4v5.4h-5.4zM439.7 554.3h5.4v5.4h-5.4zM464.6 549.3h5.4v5.4h-5.4zM464.6 554.3h5.4v5.4h-5.4zM474.5 494.5h5.4v5.4h-5.4zM474.5 509.4h5.4v5.4h-5.4zM474.5 519.4h5.4v5.4h-5.4zM474.5 529.4h5.4v5.4h-5.4zM484.5 499.5h5.4v5.4h-5.4zM484.5 509.4h5.4v5.4h-5.4zM484.5 529.4h5.4v5.4h-5.4zM509.4 609.1h5.4v5.4h-5.4zM519.4 609.1h5.4v5.4h-5.4zM564.3 614.1h5.4v5.4h-5.4zM564.3 624.1h5.4v5.4h-5.4zM589.2 589.2h5.4v5.4h-5.4zM594.2 649.0h5.4v5.4h-5.4zM609.1 614.1h5.4v5.4h-5.4zM644.0 649.0h5.4v5.4h-5.4z"/>
<path fill="#fff2a9" d="M325.0 330.0h5.4v5.4h-5.4zM325.0 335.0h5.4v5.4h-5.4zM325.0 340.0h5.4v5.4h-5.4zM325.0 359.9h5.4v5.4h-5.4zM325.0 364.9h5.4v5.4h-5.4zM330.0 364.9h5.4v5.4h-5.4zM330.0 374.8h5.4v5.4h-5.4zM330.0 389.8h5.4v5.4h-5.4zM330.0 459.6h5.4v5.4h-5.4zM330.0 469.6h5.4v5.4h-5.4zM330.0 474.5h5.4v5.4h-5.4zM330.0 484.5h5.4v5.4h-5.4zM335.0 354.9h5.4v5.4h-5.4zM335.0 374.8h5.4v5.4h-5.4zM335.0 394.8h5.4v5.4h-5.4zM335.0 504.5h5.4v5.4h-5.4zM340.0 344.9h5.4v5.4h-5.4zM359.9 464.6h5.4v5.4h-5.4zM364.9 429.7h5.4v5.4h-5.4zM364.9 479.5h5.4v5.4h-5.4zM389.8 569.3h5.4v5.4h-5.4zM389.8 589.2h5.4v5.4h-5.4zM389.8 614.1h5.4v5.4h-5.4zM389.8 634.1h5.4v5.4h-5.4zM394.8 589.2h5.4v5.4h-5.4zM394.8 624.1h5.4v5.4h-5.4zM399.8 424.7h5.4v5.4h-5.4zM399.8 479.5h5.4v5.4h-5.4zM414.7 464.6h5.4v5.4h-5.4zM414.7 479.5h5.4v5.4h-5.4zM419.7 454.6h5.4v5.4h-5.4zM419.7 514.4h5.4v5.4h-5.4zM419.7 519.4h5.4v5.4h-5.4zM419.7 534.4h5.4v5.4h-5.4zM424.7 494.5h5.4v5.4h-5.4zM429.7 529.4h5.4v5.4h-5.4zM434.7 474.5h5.4v5.4h-5.4zM434.7 484.5h5.4v5.4h-5.4zM439.7 439.7h5.4v5.4h-5.4zM439.7 499.5h5.4v5.4h-5.4zM439.7 509.4h5.4v5.4h-5.4zM439.7 529.4h5.4v5.4h-5.4zM454.6 514.4h5.4v5.4h-5.4zM454.6 534.4h5.4v5.4h-5.4zM454.6 549.3h5.4v5.4h-5.4zM464.6 494.5h5.4v5.4h-5.4zM464.6 509.4h5.4v5.4h-5.4zM464.6 514.4h5.4v5.4h-5.4zM464.6 519.4h5.4v5.4h-5.4zM474.5 499.5h5.4v5.4h-5.4zM484.5 494.5h5.4v5.4h-5.4zM569.3 624.1h5.4v5.4h-5.4zM569.3 629.1h5.4v5.4h-5.4zM569.3 634.1h5.4v5.4h-5.4zM569.3 644.0h5.4v5.4h-5.4zM574.2 634.1h5.4v5.4h-5.4zM594.2 629.1h5.4v5.4h-5.4zM649.0 649.0h5.4v5.4h-5.4z"/>
<path fill="#fdbf6f" d="M325.0 354.9h5.4v5.4h-5.4zM325.0 384.8h5.4v5.4h-5.4zM325.0 389.8h5.4v5.4h-5.4zM335.0 344.9h5.4v5.4h-5.4zM335.0 499.5h5.4v5.4h-5.4zM335.0 509.4h5.4v5.4h-5.4zM335.0 514.4h5.4v5.4h-5.4zM340.0 349.9h5.4v5.4h-5.4zM344.9 344.9h5.4v5.4h-5.4zM349.9 354.9h5.4v5.4h-5.4zM354.9 429.7h5.4v5.4h-5.4zM354.9 439.7h5.4v5.4h-5.4zM359.9 429.7h5.4v5.4h-5.4zM359.9 469.6h5.4v5.4h-5.4zM359.9 484.5h5.4v5.4h-5.4zM364.9 394.8h5.4v5.4h-5.4zM369.9 389.8h5.4v5.4h-5.4zM369.9 404.8h5.4v5.4h-5.4zM369.9 439.7h5.4v5.4h-5.4zM369.9 459.6h5.4v5.4h-5.4zM374.8 499.5h5.4v5.4h-5.4zM374.8 504.5h5.4v5.4h-5.4zM374.8 509.4h5.4v5.4h-5.4zM374.8 534.4h5.4v5.4h-5.4zM384.8 414.7h5.4v5.4h-5.4zM384.8 429.7h5.4v5.4h-5.4zM384.8 439.7h5.4v5.4h-5.4zM384.8 464.6h5.4v5.4h-5.4zM384.8 469.6h5.4v5.4h-5.4zM384.8 479.5h5.4v5.4h-5.4zM384.8 499.5h5.4v5.4h-5.4zM384.8 504.5h5.4v5.4h-5.4zM389.8 424.7h5.4v5.4h-5.4zM389.8 439.7h5.4v5.4h-5.4zM394.8 414.7h5.4v5.4h-5.4zM394.8 429.7h5.4v5.4h-5.4zM394.8 439.7h5.4v5.4h-5.4zM394.8 464.6h5.4v5.4h-5.4zM394.8 499.5h5.4v5.4h-5.4zM394.8 514.4h5.4v5.4h-5.4zM394.8 534.4h5.4v5.4h-5.4zM404.8 429.7h5.4v5.4h-5.4zM404.8 439.7h5.4v5.4h-5.4zM404.8 464.6h5.4v5.4h-5.4zM404.8 479.5h5.4v5.4h-5.4zM414.7 494.5h5.4v5.4h-5.4zM414.7 509.4h5.4v5.4h-5.4zM419.7 424.7h5.4v5.4h-5.4zM419.7 429.7h5.4v5.4h-5.4zM419.7 469.6h5.4v5.4h-5.4zM419.7 474.5h5.4v5.4h-5.4zM419.7 479.5h5.4v5.4h-5.4zM419.7 484.5h5.4v5.4h-5.4zM424.7 459.6h5.4v5.4h-5.4zM424.7 469.6h5.4v5.4h-5.4zM424.7 479.5h5.4v5.4h-5.4zM424.7 484.5h5.4v5.4h-5.4zM429.7 434.7h5.4v5.4h-5.4zM429.7 444.6h5.4v5.4h-5.4zM429.7 469.6h5.4v5.4h-5.4zM429.7 474.5h5.4v5.4h-5.4zM454.6 479.5h5.4v5.4h-5.4zM454.6 484.5h5.4v5.4h-5.4zM454.6 499.5h5.4v5.4h-5.4zM454.6 519.4h5.4v5.4h-5.4zM459.6 459.6h5.4v5.4h-5.4zM459.6 464.6h5.4v5.4h-5.4zM459.6 479.5h5.4v5.4h-5.4zM459.6 484.5h5.4v5.4h-5.4zM459.6 494.5h5.4v5.4h-5.4zM459.6 514.4h5.4v5.4h-5.4zM459.6 519.4h5.4v5.4h-5.4zM474.5 474.5h5.4v5.4h-5.4zM479.5 514.4h5.4v5.4h-5.4zM479.5 519.4h5.4v5.4h-5.4zM479.5 534.4h5.4v5.4h-5.4zM479.5 554.3h5.4v5.4h-5.4zM529.4 544.3h5.4v5.4h-5.4zM529.4 549.3h5.4v5.4h-5.4zM529.4 554.3h5.4v5.4h-5.4zM564.3 594.2h5.4v5.4h-5.4zM574.2 624.1h5.4v5.4h-5.4zM594.2 614.1h5.4v5.4h-5.4zM599.2 629.1h5.4v5.4h-5.4zM599.2 634.1h5.4v5.4h-5.4zM644.0 644.0h5.4v5.4h-5.4z"/>
<path fill="#fee594" d="M325.0 369.9h5.4v5.4h-5.4zM330.0 479.5h5.4v5.4h-5.4zM335.0 384.8h5.4v5.4h-5.4zM335.0 494.5h5.4v5.4h-5.4zM344.9 349.9h5.4v5.4h-5.4zM344.9 354.9h5.4v5.4h-5.4zM349.9 359.9h5.4v5.4h-5.4zM359.9 424.7h5.4v5.4h-5.4zM359.9 439.7h5.4v5.4h-5.4zM359.9 459.6h5.4v5.4h-5.4zM359.9 474.5h5.4v5.4h-5.4zM364.9 419.7h5.4v5.4h-5.4zM364.9 444.6h5.4v5.4h-5.4zM364.9 459.6h5.4v5.4h-5.4zM364.9 469.6h5.4v5.4h-5.4zM364.9 474.5h5.4v5.4h-5.4zM364.9 484.5h5.4v5.4h-5.4zM369.9 424.7h5.4v5.4h-5.4zM384.8 424.7h5.4v5.4h-5.4zM389.8 599.2h5.4v5.4h-5.4zM394.8 424.7h5.4v5.4h-5.4zM394.8 569.3h5.4v5.4h-5.4zM399.8 414.7h5.4v5.4h-5.4zM399.8 434.7h5.4v5.4h-5.4zM399.8 454.6h5.4v5.4h-5.4zM399.8 459.6h5.4v5.4h-5.4zM399.8 464.6h5.4v5.4h-5.4zM399.8 469.6h5.4v5.4h-5.4zM399.8 484.5h5.4v5.4h-5.4zM414.7 414.7h5.4v5.4h-5.4zM419.7 439.7h5.4v5.4h-5.4zM419.7 459.6h5.4v5.4h-5.4zM419.7 494.5h5.4v5.4h-5.4zM419.7 554.3h5.4v5.4h-5.4zM424.7 454.6h5.4v5.4h-5.4zM429.7 459.6h5.4v5.4h-5.4zM434.7 444.6h5.4v5.4h-5.4zM459.6 534.4h5.4v5.4h-5.4zM479.5 549.3h5.4v5.4h-5.4zM564.3 599.2h5.4v5.4h-5.4zM564.3 609.1h5.4v5.4h-5.4zM569.3 614.1h5.4v5.4h-5.4zM574.2 629.1h5.4v5.4h-5.4zM594.2 634.1h5.4v5.4h-5.4zM609.1 609.1h5.4v5.4h-5.4zM634.1 649.0h5.4v5.4h-5.4z"/>
<path fill="#fed480" d="M325.0 374.8h5.4v5.4h-5.4zM325.0 394.8h5.4v5.4h-5.4zM335.0 389.8h5.4v5.4h-5.4zM340.0 340.0h5.4v5.4h-5.4zM349.9 349.9h5.4v5.4h-5.4zM354.9 424.7h5.4v5.4h-5.4zM354.9 454.6h5.4v5.4h-5.4zM359.9 414.7h5.4v5.4h-5.4zM359.9 419.7h5.4v5.4h-5.4zM359.9 434.7h5.4v5.4h-5.4zM359.9 444.6h5.4v5.4h-5.4zM359.9 454.6h5.4v5.4h-5.4zM359.9 479.5h5.4v5.4h-5.4zM364.9 434.7h5.4v5.4h-5.4zM369.9 454.6h5.4v5.4h-5.4zM369.9 479.5h5.4v5.4h-5.4zM384.8 454.6h5.4v5.4h-5.4zM384.8 509.4h5.4v5.4h-5.4zM384.8 534.4h5.4v5.4h-5.4zM394.8 454.6h5.4v5.4h-5.4zM399.8 419.7h5.4v5.4h-5.4zM399.8 429.7h5.4v5.4h-5.4zM399.8 444.6h5.4v5.4h-5.4zM399.8 474.5h5.4v5.4h-5.4zM404.8 424.7h5.4v5.4h-5.4zM404.8 454.6h5.4v5.4h-5.4zM414.7 514.4h5.4v5.4h-5.4zM414.7 534.4h5.4v5.4h-5.4zM414.7 549.3h5.4v5.4h-5.4zM414.7 554.3h5.4v5.4h-5.4zM419.7 419.7h5.4v5.4h-5.4zM419.7 434.7h5.4v5.4h-5.4zM419.7 444.6h5.4v5.4h-5.4zM419.7 464.6h5.4v5.4h-5.4zM419.7 499.5h5.4v5.4h-5.4zM419.7 509.4h5.4v5.4h-5.4zM419.7 529.4h5.4v5.4h-5.4zM424.7 439.7h5.4v5.4h-5.4zM424.7 464.6h5.4v5.4h-5.4zM424.7 499.5h5.4v5.4h-5.4zM424.7 529.4h5.4v5.4h-5.4zM429.7 454.6h5.4v5.4h-5.4zM434.7 439.7h5.4v5.4h-5.4zM454.6 454.6h5.4v5.4h-5.4zM454.6 459.6h5.4v5.4h-5.4zM454.6 469.6h5.4v5.4h-5.4zM454.6 474.5h5.4v5.4h-5.4zM454.6 494.5h5.4v5.4h-5.4zM454.6 509.4h5.4v5.4h-5.4zM454.6 529.4h5.4v5.4h-5.4zM454.6 554.3h5.4v5.4h-5.4zM459.6 474.5h5.4v5.4h-5.4zM459.6 549.3h5.4v5.4h-5.4zM459.6 554.3h5.4v5.4h-5.4zM464.6 499.5h5.4v5.4h-5.4zM464.6 529.4h5.4v5.4h-5.4zM479.5 479.5h5.4v5.4h-5.4zM479.5 484.5h5.4v5.4h-5.4zM574.2 614.1h5.4v5.4h-5.4zM574.2 644.0h5.4v5.4h-5.4zM594.2 624.1h5.4v5.4h-5.4zM594.2 644.0h5.4v5.4h-5.4zM599.2 649.0h5.4v5.4h-5.4z"/>
<path fill="#d7ef9b" d="M325.0 399.8h5.4v5.4h-5.4zM325.0 404.8h5.4v5.4h-5.4zM325.0 459.6h5.4v5.4h-5.4zM325.0 469.6h5.4v5.4h-5.4zM325.0 494.5h5.4v5.4h-5.4zM325.0 574.2h5.4v5.4h-5.4zM325.0 609.1h5.4v5.4h-5.4zM330.0 434.7h5.4v5.4h-5.4zM330.0 499.5h5.4v5.4h-5.4zM330.0 509.4h5.4v5.4h-5.4zM335.0 399.8h5.4v5.4h-5.4zM335.0 519.4h5.4v5.4h-5.4zM335.0 564.3h5.4v5.4h-5.4zM335.0 584.2h5.4v5.4h-5.4zM335.0 614.1h5.4v5.4h-5.4zM335.0 629.1h5.4v5.4h-5.4zM335.0 644.0h5.4v5.4h-5.4zM340.0 374.8h5.4v5.4h-5.4zM340.0 494.5h5.4v5.4h-5.4zM340.0 504.5h5.4v5.4h-5.4zM354.9 569.3h5.4v5.4h-5.4zM359.9 624.1h5.4v5.4h-5.4zM364.9 569.3h5.4v5.4h-5.4zM364.9 589.2h5.4v5.4h-5.4zM364.9 594.2h5.4v5.4h-5.4zM364.9 624.1h5.4v5.4h-5.4zM364.9 644.0h5.4v5.4h-5.4zM384.8 594.2h5.4v5.4h-5.4zM389.8 649.0h5.4v5.4h-5.4zM404.8 569.3h5.4v5.4h-5.4zM404.8 584.2h5.4v5.4h-5.4zM414.7 584.2h5.4v5.4h-5.4zM429.7 549.3h5.4v5.4h-5.4zM439.7 454.6h5.4v5.4h-5.4zM439.7 534.4h5.4v5.4h-5.4zM439.7 549.3h5.4v5.4h-5.4zM459.6 614.1h5.4v5.4h-5.4zM474.5 534.4h5.4v5.4h-5.4zM499.5 574.2h5.4v5.4h-5.4zM499.5 599.2h5.4v5.4h-5.4zM499.5 649.0h5.4v5.4h-5.4zM509.4 584.2h5.4v5.4h-5.4zM509.4 589.2h5.4v5.4h-5.4zM509.4 624.1h5.4v5.4h-5.4zM509.4 634.1h5.4v5.4h-5.4zM509.4 644.0h5.4v5.4h-5.4zM519.4 564.3h5.4v5.4h-5.4zM519.4 569.3h5.4v5.4h-5.4zM519.4 589.2h5.4v5.4h-5.4zM519.4 644.0h5.4v5.4h-5.4zM544.3 594.2h5.4v5.4h-5.4zM549.3 599.2h5.4v5.4h-5.4zM584.2 584.2h5.4v5.4h-5.4zM589.2 599.2h5.4v5.4h-5.4zM609.1 624.1h5.4v5.4h-5.4zM614.1 614.1h5.4v5.4h-5.4z"/>
<path fill="#6cc4a5" d="M325.0 414.7h5.4v5.4h-5.4zM325.0 419.7h5.4v5.4h-5.4zM325.0 424.7h5.4v5.4h-5.4zM325.0 439.7h5.4v5.4h-5.4zM325.0 444.6h5.4v5.4h-5.4zM325.0 519.4h5.4v5.4h-5.4zM325.0 584.2h5.4v5.4h-5.4zM325.0 624.1h5.4v5.4h-5.4zM325.0 634.1h5.4v5.4h-5.4zM330.0 504.5h5.4v5.4h-5.4zM330.0 569.3h5.4v5.4h-5.4zM330.0 574.2h5.4v5.4h-5.4zM330.0 609.1h5.4v5.4h-5.4zM340.0 519.4h5.4v5.4h-5.4zM340.0 524.4h5.4v5.4h-5.4zM340.0 544.3h5.4v5.4h-5.4zM340.0 549.3h5.4v5.4h-5.4zM354.9 564.3h5.4v5.4h-5.4zM359.9 649.0h5.4v5.4h-5.4zM369.9 564.3h5.4v5.4h-5.4zM369.9 649.0h5.4v5.4h-5.4zM374.8 629.1h5.4v5.4h-5.4zM384.8 629.1h5.4v5.4h-5.4zM399.8 589.2h5.4v5.4h-5.4zM399.8 599.2h5.4v5.4h-5.4zM399.8 624.1h5.4v5.4h-5.4zM424.7 629.1h5.4v5.4h-5.4zM424.7 634.1h5.4v5.4h-5.4zM439.7 584.2h5.4v5.4h-5.4zM444.6 564.3h5.4v5.4h-5.4zM444.6 569.3h5.4v5.4h-5.4zM444.6 574.2h5.4v5.4h-5.4zM444.6 599.2h5.4v5.4h-5.4zM444.6 609.1h5.4v5.4h-5.4zM444.6 624.1h5.4v5.4h-5.4zM444.6 644.0h5.4v5.4h-5.4zM454.6 564.3h5.4v5.4h-5.4zM454.6 569.3h5.4v5.4h-5.4zM454.6 594.2h5.4v5.4h-5.4zM454.6 634.1h5.4v5.4h-5.4zM459.6 634.1h5.4v5.4h-5.4zM464.6 569.3h5.4v5.4h-5.4zM464.6 574.2h5.4v5.4h-5.4zM464.6 599.2h5.4v5.4h-5.4zM464.6 609.1h5.4v5.4h-5.4zM464.6 634.1h5.4v5.4h-5.4zM469.6 594.2h5.4v5.4h-5.4zM469.6 599.2h5.4v5.4h-5.4zM469.6 614.1h5.4v5.4h-5.4zM474.5 569.3h5.4v5.4h-5.4zM474.5 574.2h5.4v5.4h-5.4zM474.5 614.1h5.4v5.4h-5.4zM474.5 649.0h5.4v5.4h-5.4zM479.5 564.3h5.4v5.4h-5.4zM479.5 584.2h5.4v5.4h-5.4zM479.5 599.2h5.4v5.4h-5.4zM479.5 649.0h5.4v5.4h-5.4zM484.5 574.2h5.4v5.4h-5.4zM504.5 624.1h5.4v5.4h-5.4zM504.5 634.1h5.4v5.4h-5.4zM514.4 569.3h5.4v5.4h-5.4zM514.4 574.2h5.4v5.4h-5.4zM514.4 589.2h5.4v5.4h-5.4zM514.4 609.1h5.4v5.4h-5.4zM514.4 649.0h5.4v5.4h-5.4zM524.4 594.2h5.4v5.4h-5.4zM524.4 599.2h5.4v5.4h-5.4zM529.4 594.2h5.4v5.4h-5.4zM529.4 609.1h5.4v5.4h-5.4zM529.4 649.0h5.4v5.4h-5.4zM534.4 599.2h5.4v5.4h-5.4zM534.4 609.1h5.4v5.4h-5.4zM549.3 624.1h5.4v5.4h-5.4zM549.3 629.1h5.4v5.4h-5.4zM614.1 629.1h5.4v5.4h-5.4zM614.1 634.1h5.4v5.4h-5.4zM614.1 644.0h5.4v5.4h-5.4z"/>
<path fill="#55afad" d="M325.0 429.7h5.4v5.4h-5.4zM325.0 544.3h5.4v5.4h-5.4zM330.0 554.3h5.4v5.4h-5.4zM330.0 564.3h5.4v5.4h-5.4zM330.0 584.2h5.4v5.4h-5.4zM330.0 599.2h5.4v5.4h-5.4zM330.0 629.1h5.4v5.4h-5.4zM330.0 634.1h5.4v5.4h-5.4zM330.0 649.0h5.4v5.4h-5.4zM340.0 399.8h5.4v5.4h-5.4zM340.0 404.8h5.4v5.4h-5.4zM340.0 534.4h5.4v5.4h-5.4zM340.0 569.3h5.4v5.4h-5.4zM340.0 609.1h5.4v5.4h-5.4zM354.9 629.1h5.4v5.4h-5.4zM399.8 594.2h5.4v5.4h-5.4zM439.7 609.1h5.4v5.4h-5.4zM439.7 614.1h5.4v5.4h-5.4zM444.6 589.2h5.4v5.4h-5.4zM444.6 634.1h5.4v5.4h-5.4zM454.6 624.1h5.4v5.4h-5.4zM454.6 629.1h5.4v5.4h-5.4zM464.6 564.3h5.4v5.4h-5.4zM464.6 594.2h5.4v5.4h-5.4zM464.6 624.1h5.4v5.4h-5.4zM464.6 629.1h5.4v5.4h-5.4zM469.6 569.3h5.4v5.4h-5.4zM469.6 584.2h5.4v5.4h-5.4zM474.5 564.3h5.4v5.4h-5.4zM474.5 589.2h5.4v5.4h-5.4zM474.5 594.2h5.4v5.4h-5.4zM474.5 599.2h5.4v5.4h-5.4zM474.5 624.1h5.4v5.4h-5.4zM479.5 569.3h5.4v5.4h-5.4zM479.5 574.2h5.4v5.4h-5.4zM479.5 594.2h5.4v5.4h-5.4zM479.5 609.1h5.4v5.4h-5.4zM484.5 569.3h5.4v5.4h-5.4zM484.5 589.2h5.4v5.4h-5.4zM484.5 609.1h5.4v5.4h-5.4zM484.5 629.1h5.4v5.4h-5.4zM484.5 634.1h5.4v5.4h-5.4zM494.5 574.2h5.4v5.4h-5.4zM494.5 599.2h5.4v5.4h-5.4zM494.5 609.1h5.4v5.4h-5.4zM494.5 614.1h5.4v5.4h-5.4zM494.5 649.0h5.4v5.4h-5.4zM504.5 569.3h5.4v5.4h-5.4zM504.5 584.2h5.4v5.4h-5.4zM504.5 589.2h5.4v5.4h-5.4zM504.5 614.1h5.4v5.4h-5.4zM504.5 629.1h5.4v5.4h-5.4zM514.4 644.0h5.4v5.4h-5.4zM524.4 644.0h5.4v5.4h-5.4zM529.4 569.3h5.4v5.4h-5.4zM529.4 574.2h5.4v5.4h-5.4zM529.4 599.2h5.4v5.4h-5.4zM534.4 594.2h5.4v5.4h-5.4zM534.4 614.1h5.4v5.4h-5.4zM534.4 644.0h5.4v5.4h-5.4zM544.3 584.2h5.4v5.4h-5.4zM544.3 629.1h5.4v5.4h-5.4zM544.3 634.1h5.4v5.4h-5.4zM549.3 584.2h5.4v5.4h-5.4zM554.3 594.2h5.4v5.4h-5.4zM554.3 599.2h5.4v5.4h-5.4zM554.3 609.1h5.4v5.4h-5.4zM554.3 644.0h5.4v5.4h-5.4zM554.3 649.0h5.4v5.4h-5.4zM584.2 609.1h5.4v5.4h-5.4zM584.2 614.1h5.4v5.4h-5.4zM589.2 614.1h5.4v5.4h-5.4zM589.2 644.0h5.4v5.4h-5.4z"/>
<path fill="#a5dba4" d="M325.0 434.7h5.4v5.4h-5.4zM325.0 524.4h5.4v5.4h-5.4zM325.0 554.3h5.4v5.4h-5.4zM325.0 564.3h5.4v5.4h-5.4zM325.0 569.3h5.4v5.4h-5.4zM325.0 594.2h5.4v5.4h-5.4zM325.0 649.0h5.4v5.4h-5.4zM330.0 399.8h5.4v5.4h-5.4zM330.0 404.8h5.4v5.4h-5.4zM330.0 419.7h5.4v5.4h-5.4zM330.0 439.7h5.4v5.4h-5.4zM330.0 514.4h5.4v5.4h-5.4zM335.0 454.6h5.4v5.4h-5.4zM335.0 459.6h5.4v5.4h-5.4zM335.0 484.5h5.4v5.4h-5.4zM340.0 394.8h5.4v5.4h-5.4zM340.0 469.6h5.4v5.4h-5.4zM340.0 474.5h5.4v5.4h-5.4zM340.0 479.5h5.4v5.4h-5.4zM354.9 609.1h5.4v5.4h-5.4zM354.9 644.0h5.4v5.4h-5.4zM359.9 574.2h5.4v5.4h-5.4zM359.9 609.1h5.4v5.4h-5.4zM359.9 634.1h5.4v5.4h-5.4zM364.9 564.3h5.4v5.4h-5.4zM364.9 574.2h5.4v5.4h-5.4zM364.9 649.0h5.4v5.4h-5.4zM369.9 624.1h5.4v5.4h-5.4zM374.8 594.2h5.4v5.4h-5.4zM374.8 624.1h5.4v5.4h-5.4zM384.8 574.2h5.4v5.4h-5.4zM399.8 584.2h5.4v5.4h-5.4zM414.7 589.2h5.4v5.4h-5.4zM414.7 594.2h5.4v5.4h-5.4zM414.7 624.1h5.4v5.4h-5.4zM414.7 634.1h5.4v5.4h-5.4zM424.7 599.2h5.4v5.4h-5.4zM424.7 609.1h5.4v5.4h-5.4zM424.7 614.1h5.4v5.4h-5.4zM424.7 649.0h5.4v5.4h-5.4zM454.6 614.1h5.4v5.4h-5.4zM459.6 584.2h5.4v5.4h-5.4zM459.6 594.2h5.4v5.4h-5.4zM459.6 609.1h5.4v5.4h-5.4zM459.6 649.0h5.4v5.4h-5.4zM464.6 584.2h5.4v5.4h-5.4zM464.6 649.0h5.4v5.4h-5.4zM484.5 649.0h5.4v5.4h-5.4zM499.5 564.3h5.4v5.4h-5.4zM499.5 569.3h5.4v5.4h-5.4zM499.5 589.2h5.4v5.4h-5.4zM499.5 614.1h5.4v5.4h-5.4zM499.5 624.1h5.4v5.4h-5.4zM499.5 634.1h5.4v5.4h-5.4zM504.5 599.2h5.4v5.4h-5.4zM504.5 649.0h5.4v5.4h-5.4zM514.4 594.2h5.4v5.4h-5.4zM544.3 599.2h5.4v5.4h-5.4zM544.3 609.1h5.4v5.4h-5.4zM544.3 614.1h5.4v5.4h-5.4zM544.3 644.0h5.4v5.4h-5.4zM549.3 569.3h5.4v5.4h-5.4zM549.3 589.2h5.4v5.4h-5.4zM564.3 649.0h5.4v5.4h-5.4zM584.2 599.2h5.4v5.4h-5.4zM589.2 609.1h5.4v5.4h-5.4zM609.1 649.0h5.4v5.4h-5.4z"/>
<path fill="#eaf79e" d="M325.0 454.6h5.4v5.4h-5.4zM325.0 464.6h5.4v5.4h-5.4zM325.0 504.5h5.4v5.4h-5.4zM325.0 509.4h5.4v5.4h-5.4zM325.0 514.4h5.4v5.4h-5.4zM330.0 330.0h5.4v5.4h-5.4zM330.0 340.0h5.4v5.4h-5.4zM335.0 335.0h5.4v5.4h-5.4zM335.0 524.4h5.4v5.4h-5.4zM335.0 529.4h5.4v5.4h-5.4zM335.0 544.3h5.4v5.4h-5.4zM335.0 549.3h5.4v5.4h-5.4zM335.0 569.3h5.4v5.4h-5.4zM335.0 599.2h5.4v5.4h-5.4zM335.0 624.1h5.4v5.4h-5.4zM335.0 634.1h5.4v5.4h-5.4zM335.0 649.0h5.4v5.4h-5.4zM340.0 354.9h5.4v5.4h-5.4zM340.0 389.8h5.4v5.4h-5.4zM340.0 509.4h5.4v5.4h-5.4zM340.0 514.4h5.4v5.4h-5.4zM384.8 584.2h5.4v5.4h-5.4zM384.8 614.1h5.4v5.4h-5.4zM394.8 649.0h5.4v5.4h-5.4zM404.8 644.0h5.4v5.4h-5.4zM414.7 614.1h5.4v5.4h-5.4zM414.7 649.0h5.4v5.4h-5.4zM424.7 534.4h5.4v5.4h-5.4zM429.7 494.5h5.4v5.4h-5.4zM429.7 534.4h5.4v5.4h-5.4zM439.7 459.6h5.4v5.4h-5.4zM439.7 469.6h5.4v5.4h-5.4zM439.7 484.5h5.4v5.4h-5.4zM474.5 514.4h5.4v5.4h-5.4zM474.5 549.3h5.4v5.4h-5.4zM474.5 554.3h5.4v5.4h-5.4zM484.5 514.4h5.4v5.4h-5.4zM484.5 519.4h5.4v5.4h-5.4zM484.5 549.3h5.4v5.4h-5.4zM499.5 594.2h5.4v5.4h-5.4zM499.5 609.1h5.4v5.4h-5.4zM509.4 564.3h5.4v5.4h-5.4zM509.4 574.2h5.4v5.4h-5.4zM509.4 599.2h5.4v5.4h-5.4zM509.4 614.1h5.4v5.4h-5.4zM509.4 649.0h5.4v5.4h-5.4zM519.4 574.2h5.4v5.4h-5.4zM519.4 614.1h5.4v5.4h-5.4zM519.4 634.1h5.4v5.4h-5.4zM549.3 594.2h5.4v5.4h-5.4zM564.3 629.1h5.4v5.4h-5.4zM584.2 594.2h5.4v5.4h-5.4z"/>
<path fill="#f5fbaf" d="M325.0 479.5h5.4v5.4h-5.4zM325.0 499.5h5.4v5.4h-5.4zM330.0 335.0h5.4v5.4h-5.4zM330.0 359.9h5.4v5.4h-5.4zM330.0 464.6h5.4v5.4h-5.4zM335.0 340.0h5.4v5.4h-5.4zM335.0 359.9h5.4v5.4h-5.4zM335.0 369.9h5.4v5.4h-5.4zM335.0 554.3h5.4v5.4h-5.4zM335.0 574.2h5.4v5.4h-5.4zM335.0 594.2h5.4v5.4h-5.4zM335.0 609.1h5.4v5.4h-5.4zM340.0 499.5h5.4v5.4h-5.4zM389.8 594.2h5.4v5.4h-5.4zM394.8 574.2h5.4v5.4h-5.4zM414.7 419.7h5.4v5.4h-5.4zM414.7 424.7h5.4v5.4h-5.4zM414.7 434.7h5.4v5.4h-5.4zM414.7 444.6h5.4v5.4h-5.4zM414.7 454.6h5.4v5.4h-5.4zM414.7 459.6h5.4v5.4h-5.4zM414.7 469.6h5.4v5.4h-5.4zM414.7 484.5h5.4v5.4h-5.4zM424.7 514.4h5.4v5.4h-5.4zM424.7 549.3h5.4v5.4h-5.4zM429.7 514.4h5.4v5.4h-5.4zM429.7 519.4h5.4v5.4h-5.4zM429.7 554.3h5.4v5.4h-5.4zM434.7 454.6h5.4v5.4h-5.4zM439.7 444.6h5.4v5.4h-5.4zM439.7 464.6h5.4v5.4h-5.4zM439.7 474.5h5.4v5.4h-5.4zM439.7 479.5h5.4v5.4h-5.4zM439.7 494.5h5.4v5.4h-5.4zM439.7 514.4h5.4v5.4h-5.4zM464.6 534.4h5.4v5.4h-5.4zM484.5 554.3h5.4v5.4h-5.4zM509.4 594.2h5.4v5.4h-5.4zM519.4 594.2h5.4v5.4h-5.4zM519.4 599.2h5.4v5.4h-5.4zM519.4 649.0h5.4v5.4h-5.4zM564.3 644.0h5.4v5.4h-5.4zM569.3 649.0h5.4v5.4h-5.4zM574.2 649.0h5.4v5.4h-5.4zM584.2 589.2h5.4v5.4h-5.4zM589.2 594.2h5.4v5.4h-5.4z"/>
<path fill="#88d0a4" d="M325.0 529.4h5.4v5.4h-5.4zM325.0 534.4h5.4v5.4h-5.4zM325.0 549.3h5.4v5.4h-5.4zM325.0 589.2h5.4v5.4h-5.4zM325.0 599.2h5.4v5.4h-5.4zM325.0 614.1h5.4v5.4h-5.4zM325.0 629.1h5.4v5.4h-5.4zM325.0 644.0h5.4v5.4h-5.4zM330.0 494.5h5.4v5.4h-5.4zM335.0 464.6h5.4v5.4h-5.4zM335.0 469.6h5.4v5.4h-5.4zM340.0 369.9h5.4v5.4h-5.4zM340.0 454.6h5.4v5.4h-5.4zM340.0 459.6h5.4v5.4h-5.4zM340.0 464.6h5.4v5.4h-5.4zM340.0 529.4h5.4v5.4h-5.4zM354.9 649.0h5.4v5.4h-5.4zM369.9 609.1h5.4v5.4h-5.4zM369.9 629.1h5.4v5.4h-5.4zM374.8 634.1h5.4v5.4h-5.4zM399.8 609.1h5.4v5.4h-5.4zM414.7 564.3h5.4v5.4h-5.4zM414.7 574.2h5.4v5.4h-5.4zM414.7 629.1h5.4v5.4h-5.4zM414.7 644.0h5.4v5.4h-5.4zM424.7 564.3h5.4v5.4h-5.4zM424.7 569.3h5.4v5.4h-5.4zM424.7 574.2h5.4v5.4h-5.4zM424.7 589.2h5.4v5.4h-5.4zM424.7 594.2h5.4v5.4h-5.4zM424.7 624.1h5.4v5.4h-5.4zM424.7 644.0h5.4v5.4h-5.4zM444.6 584.2h5.4v5.4h-5.4zM444.6 614.1h5.4v5.4h-5.4zM444.6 649.0h5.4v5.4h-5.4zM454.6 574.2h5.4v5.4h-5.4zM454.6 599.2h5.4v5.4h-5.4zM454.6 609.1h5.4v5.4h-5.4zM454.6 644.0h5.4v5.4h-5.4zM459.6 564.3h5.4v5.4h-5.4zM459.6 574.2h5.4v5.4h-5.4zM459.6 589.2h5.4v5.4h-5.4zM459.6 624.1h5.4v5.4h-5.4zM459.6 629.1h5.4v5.4h-5.4zM459.6 644.0h5.4v5.4h-5.4zM464.6 614.1h5.4v5.4h-5.4zM469.6 609.1h5.4v5.4h-5.4zM469.6 649.0h5.4v5.4h-5.4zM474.5 584.2h5.4v5.4h-5.4zM474.5 609.1h5.4v5.4h-5.4zM479.5 614.1h5.4v5.4h-5.4zM484.5 584.2h5.4v5.4h-5.4zM484.5 599.2h5.4v5.4h-5.4zM484.5 614.1h5.4v5.4h-5.4zM494.5 594.2h5.4v5.4h-5.4zM499.5 629.1h5.4v5.4h-5.4zM504.5 564.3h5.4v5.4h-5.4zM504.5 574.2h5.4v5.4h-5.4zM504.5 609.1h5.4v5.4h-5.4zM504.5 644.0h5.4v5.4h-5.4zM514.4 599.2h5.4v5.4h-5.4zM544.3 564.3h5.4v5.4h-5.4zM544.3 569.3h5.4v5.4h-5.4zM544.3 589.2h5.4v5.4h-5.4zM544.3 624.1h5.4v5.4h-5.4zM549.3 564.3h5.4v5.4h-5.4zM549.3 574.2h5.4v5.4h-5.4zM549.3 614.1h5.4v5.4h-5.4zM549.3 634.1h5.4v5.4h-5.4zM549.3 644.0h5.4v5.4h-5.4z"/>
<path fill="#bfe5a0" d="M330.0 414.7h5.4v5.4h-5.4zM330.0 424.7h5.4v5.4h-5.4zM330.0 429.7h5.4v5.4h-5.4zM330.0 444.6h5.4v5.4h-5.4zM335.0 404.8h5.4v5.4h-5.4zM335.0 474.5h5.4v5.4h-5.4zM335.0 479.5h5.4v5.4h-5.4zM335.0 534.4h5.4v5.4h-5.4zM335.0 589.2h5.4v5.4h-5.4zM340.0 359.9h5.4v5.4h-5.4zM340.0 364.9h5.4v5.4h-5.4zM340.0 384.8h5.4v5.4h-5.4zM340.0 484.5h5.4v5.4h-5.4zM340.0 554.3h5.4v5.4h-5.4zM359.9 564.3h5.4v5.4h-5.4zM359.9 584.2h5.4v5.4h-5.4zM359.9 594.2h5.4v5.4h-5.4zM359.9 614.1h5.4v5.4h-5.4zM369.9 599.2h5.4v5.4h-5.4zM384.8 609.1h5.4v5.4h-5.4zM399.8 644.0h5.4v5.4h-5.4zM404.8 609.1h5.4v5.4h-5.4zM404.8 629.1h5.4v5.4h-5.4zM414.7 569.3h5.4v5.4h-5.4zM414.7 599.2h5.4v5.4h-5.4zM414.7 609.1h5.4v5.4h-5.4zM424.7 584.2h5.4v5.4h-5.4zM454.6 584.2h5.4v5.4h-5.4zM454.6 649.0h5.4v5.4h-5.4zM459.6 569.3h5.4v5.4h-5.4zM459.6 599.2h5.4v5.4h-5.4zM484.5 534.4h5.4v5.4h-5.4zM499.5 584.2h5.4v5.4h-5.4zM499.5 644.0h5.4v5.4h-5.4zM504.5 594.2h5.4v5.4h-5.4zM509.4 569.3h5.4v5.4h-5.4zM509.4 629.1h5.4v5.4h-5.4zM519.4 584.2h5.4v5.4h-5.4zM519.4 624.1h5.4v5.4h-5.4zM519.4 629.1h5.4v5.4h-5.4zM544.3 574.2h5.4v5.4h-5.4zM544.3 649.0h5.4v5.4h-5.4zM549.3 609.1h5.4v5.4h-5.4zM549.3 649.0h5.4v5.4h-5.4zM564.3 634.1h5.4v5.4h-5.4zM609.1 629.1h5.4v5.4h-5.4zM609.1 634.1h5.4v5.4h-5.4zM609.1 644.0h5.4v5.4h-5.4zM614.1 624.1h5.4v5.4h-5.4z"/>
<path fill="#397eb8" d="M330.0 519.4h5.4v5.4h-5.4zM330.0 524.4h5.4v5.4h-5.4zM335.0 419.7h5.4v5.4h-5.4zM335.0 434.7h5.4v5.4h-5.4zM335.0 444.6h5.4v5.4h-5.4zM340.0 419.7h5.4v5.4h-5.4zM340.0 434.7h5.4v5.4h-5.4zM340.0 584.2h5.4v5.4h-5.4zM340.0 594.2h5.4v5.4h-5.4zM340.0 599.2h5.4v5.4h-5.4zM340.0 614.1h5.4v5.4h-5.4zM340.0 624.1h5.4v5.4h-5.4zM419.7 614.1h5.4v5.4h-5.4zM429.7 569.3h5.4v5.4h-5.4zM429.7 584.2h5.4v5.4h-5.4zM434.7 599.2h5.4v5.4h-5.4zM434.7 614.1h5.4v5.4h-5.4zM439.7 564.3h5.4v5.4h-5.4zM439.7 569.3h5.4v5.4h-5.4zM439.7 589.2h5.4v5.4h-5.4zM439.7 599.2h5.4v5.4h-5.4zM439.7 624.1h5.4v5.4h-5.4zM469.6 629.1h5.4v5.4h-5.4zM469.6 634.1h5.4v5.4h-5.4zM479.5 634.1h5.4v5.4h-5.4zM494.5 584.2h5.4v5.4h-5.4zM494.5 589.2h5.4v5.4h-5.4zM494.5 634.1h5.4v5.4h-5.4zM524.4 564.3h5.4v5.4h-5.4zM524.4 574.2h5.4v5.4h-5.4zM524.4 584.2h5.4v5.4h-5.4zM524.4 629.1h5.4v5.4h-5.4zM529.4 614.1h5.4v5.4h-5.4zM529.4 624.1h5.4v5.4h-5.4zM529.4 629.1h5.4v5.4h-5.4zM534.4 564.3h5.4v5.4h-5.4zM534.4 624.1h5.4v5.4h-5.4zM554.3 569.3h5.4v5.4h-5.4zM554.3 624.1h5.4v5.4h-5.4zM554.3 629.1h5.4v5.4h-5.4zM614.1 649.0h5.4v5.4h-5.4z"/>
<path fill="#3f96b7" d="M330.0 529.4h5.4v5.4h-5.4zM330.0 589.2h5.4v5.4h-5.4zM330.0 594.2h5.4v5.4h-5.4zM330.0 614.1h5.4v5.4h-5.4zM330.0 624.1h5.4v5.4h-5.4zM330.0 644.0h5.4v5.4h-5.4zM340.0 444.6h5.4v5.4h-5.4zM340.0 574.2h5.4v5.4h-5.4zM340.0 629.1h5.4v5.4h-5.4zM340.0 644.0h5.4v5.4h-5.4zM340.0 649.0h5.4v5.4h-5.4zM429.7 599.2h5.4v5.4h-5.4zM429.7 609.1h5.4v5.4h-5.4zM429.7 614.1h5.4v5.4h-5.4zM429.7 649.0h5.4v5.4h-5.4zM439.7 649.0h5.4v5.4h-5.4zM444.6 594.2h5.4v5.4h-5.4zM444.6 629.1h5.4v5.4h-5.4zM454.6 589.2h5.4v5.4h-5.4zM464.6 589.2h5.4v5.4h-5.4zM464.6 644.0h5.4v5.4h-5.4zM469.6 564.3h5.4v5.4h-5.4zM469.6 574.2h5.4v5.4h-5.4zM469.6 589.2h5.4v5.4h-5.4zM469.6 624.1h5.4v5.4h-5.4zM469.6 644.0h5.4v5.4h-5.4zM474.5 629.1h5.4v5.4h-5.4zM474.5 634.1h5.4v5.4h-5.4zM474.5 644.0h5.4v5.4h-5.4zM479.5 589.2h5.4v5.4h-5.4zM479.5 624.1h5.4v5.4h-5.4zM479.5 629.1h5.4v5.4h-5.4zM479.5 644.0h5.4v5.4h-5.4zM484.5 564.3h5.4v5.4h-5.4zM484.5 594.2h5.4v5.4h-5.4zM484.5 624.1h5.4v5.4h-5.4zM484.5 644.0h5.4v5.4h-5.4zM494.5 564.3h5.4v5.4h-5.4zM494.5 569.3h5.4v5.4h-5.4zM494.5 624.1h5.4v5.4h-5.4zM494.5 629.1h5.4v5.4h-5.4zM494.5 644.0h5.4v5.4h-5.4zM514.4 564.3h5.4v5.4h-5.4zM514.4 584.2h5.4v5.4h-5.4zM514.4 614.1h5.4v5.4h-5.4zM514.4 624.1h5.4v5.4h-5.4zM514.4 629.1h5.4v5.4h-5.4zM514.4 634.1h5.4v5.4h-5.4zM524.4 609.1h5.4v5.4h-5.4zM524.4 614.1h5.4v5.4h-5.4zM524.4 649.0h5.4v5.4h-5.4zM529.4 564.3h5.4v5.4h-5.4zM529.4 584.2h5.4v5.4h-5.4zM529.4 589.2h5.4v5.4h-5.4zM529.4 634.1h5.4v5.4h-5.4zM529.4 644.0h5.4v5.4h-5.4zM534.4 569.3h5.4v5.4h-5.4zM534.4 574.2h5.4v5.4h-5.4zM534.4 629.1h5.4v5.4h-5.4zM534.4 634.1h5.4v5.4h-5.4zM534.4 649.0h5.4v5.4h-5.4zM554.3 564.3h5.4v5.4h-5.4zM554.3 574.2h5.4v5.4h-5.4zM554.3 589.2h5.4v5.4h-5.4zM554.3 614.1h5.4v5.4h-5.4zM589.2 624.1h5.4v5.4h-5.4z"/>
<path fill="#5e4fa2" d="M330.0 534.4h5.4v5.4h-5.4zM330.0 544.3h5.4v5.4h-5.4zM335.0 424.7h5.4v5.4h-5.4zM335.0 439.7h5.4v5.4h-5.4zM340.0 424.7h5.4v5.4h-5.4zM340.0 429.7h5.4v5.4h-5.4zM419.7 564.3h5.4v5.4h-5.4zM419.7 574.2h5.4v5.4h-5.4zM419.7 584.2h5.4v5.4h-5.4zM419.7 589.2h5.4v5.4h-5.4zM419.7 594.2h5.4v5.4h-5.4zM419.7 599.2h5.4v5.4h-5.4zM419.7 609.1h5.4v5.4h-5.4zM419.7 624.1h5.4v5.4h-5.4zM419.7 629.1h5.4v5.4h-5.4zM419.7 634.1h5.4v5.4h-5.4zM419.7 644.0h5.4v5.4h-5.4zM429.7 564.3h5.4v5.4h-5.4zM429.7 624.1h5.4v5.4h-5.4zM429.7 634.1h5.4v5.4h-5.4zM434.7 564.3h5.4v5.4h-5.4zM434.7 574.2h5.4v5.4h-5.4zM434.7 589.2h5.4v5.4h-5.4zM434.7 624.1h5.4v5.4h-5.4zM434.7 629.1h5.4v5.4h-5.4zM434.7 634.1h5.4v5.4h-5.4zM524.4 624.1h5.4v5.4h-5.4zM584.2 644.0h5.4v5.4h-5.4zM584.2 649.0h5.4v5.4h-5.4zM589.2 649.0h5.4v5.4h-5.4z"/>
<path fill="#4c67ad" d="M330.0 549.3h5.4v5.4h-5.4zM335.0 414.7h5.4v5.4h-5.4zM335.0 429.7h5.4v5.4h-5.4zM340.0 414.7h5.4v5.4h-5.4zM340.0 439.7h5.4v5.4h-5.4zM340.0 564.3h5.4v5.4h-5.4zM340.0 589.2h5.4v5.4h-5.4zM340.0 634.1h5.4v5.4h-5.4zM419.7 569.3h5.4v5.4h-5.4zM419.7 649.0h5.4v5.4h-5.4zM429.7 574.2h5.4v5.4h-5.4zM429.7 589.2h5.4v5.4h-5.4zM429.7 594.2h5.4v5.4h-5.4zM429.7 629.1h5.4v5.4h-5.4zM429.7 644.0h5.4v5.4h-5.4zM434.7 569.3h5.4v5.4h-5.4zM434.7 584.2h5.4v5.4h-5.4zM434.7 594.2h5.4v5.4h-5.4zM434.7 609.1h5.4v5.4h-5.4zM434.7 644.0h5.4v5.4h-5.4zM434.7 649.0h5.4v5.4h-5.4zM439.7 574.2h5.4v5.4h-5.4zM439.7 594.2h5.4v5.4h-5.4zM439.7 629.1h5.4v5.4h-5.4zM439.7 634.1h5.4v5.4h-5.4zM439.7 644.0h5.4v5.4h-5.4zM524.4 569.3h5.4v5.4h-5.4zM524.4 589.2h5.4v5.4h-5.4zM524.4 634.1h5.4v5.4h-5.4zM534.4 584.2h5.4v5.4h-5.4zM534.4 589.2h5.4v5.4h-5.4zM554.3 584.2h5.4v5.4h-5.4zM554.3 634.1h5.4v5.4h-5.4zM584.2 624.1h5.4v5.4h-5.4zM584.2 629.1h5.4v5.4h-5.4zM584.2 634.1h5.4v5.4h-5.4zM589.2 629.1h5.4v5.4h-5.4zM589.2 634.1h5.4v5.4h-5.4z"/>
<path fill="#9e0142" d="M354.9 354.9h5.4v5.4h-5.4zM354.9 359.9h5.4v5.4h-5.4zM354.9 364.9h5.4v5.4h-5.4zM354.9 384.8h5.4v5.4h-5.4zM354.9 389.8h5.4v5.4h-5.4zM354.9 394.8h5.4v5.4h-5.4zM354.9 399.8h5.4v5.4h-5.4zM354.9 404.8h5.4v5.4h-5.4zM359.9 359.9h5.4v5.4h-5.4zM359.9 364.9h5.4v5.4h-5.4zM359.9 369.9h5.4v5.4h-5.4zM359.9 384.8h5.4v5.4h-5.4zM359.9 389.8h5.4v5.4h-5.4zM359.9 399.8h5.4v5.4h-5.4zM359.9 494.5h5.4v5.4h-5.4zM359.9 519.4h5.4v5.4h-5.4zM359.9 524.4h5.4v5.4h-5.4zM359.9 529.4h5.4v5.4h-5.4zM359.9 544.3h5.4v5.4h-5.4zM359.9 554.3h5.4v5.4h-5.4zM364.9 494.5h5.4v5.4h-5.4zM364.9 499.5h5.4v5.4h-5.4zM364.9 509.4h5.4v5.4h-5.4zM364.9 519.4h5.4v5.4h-5.4zM364.9 524.4h5.4v5.4h-5.4zM364.9 529.4h5.4v5.4h-5.4zM364.9 544.3h5.4v5.4h-5.4zM364.9 549.3h5.4v5.4h-5.4zM364.9 554.3h5.4v5.4h-5.4zM369.9 519.4h5.4v5.4h-5.4zM369.9 524.4h5.4v5.4h-5.4zM369.9 544.3h5.4v5.4h-5.4zM369.9 554.3h5.4v5.4h-5.4zM374.8 374.8h5.4v5.4h-5.4zM374.8 384.8h5.4v5.4h-5.4zM374.8 389.8h5.4v5.4h-5.4zM374.8 394.8h5.4v5.4h-5.4zM374.8 399.8h5.4v5.4h-5.4zM374.8 404.8h5.4v5.4h-5.4zM389.8 389.8h5.4v5.4h-5.4zM389.8 394.8h5.4v5.4h-5.4zM389.8 399.8h5.4v5.4h-5.4zM389.8 404.8h5.4v5.4h-5.4zM394.8 394.8h5.4v5.4h-5.4zM394.8 399.8h5.4v5.4h-5.4zM394.8 404.8h5.4v5.4h-5.4zM399.8 399.8h5.4v5.4h-5.4zM399.8 404.8h5.4v5.4h-5.4zM504.5 504.5h5.4v5.4h-5.4zM504.5 509.4h5.4v5.4h-5.4zM504.5 514.4h5.4v5.4h-5.4zM504.5 519.4h5.4v5.4h-5.4zM504.5 524.4h5.4v5.4h-5.4zM504.5 529.4h5.4v5.4h-5.4zM504.5 534.4h5.4v5.4h-5.4zM504.5 549.3h5.4v5.4h-5.4zM504.5 554.3h5.4v5.4h-5.4zM509.4 509.4h5.4v5.4h-5.4zM509.4 514.4h5.4v5.4h-5.4zM509.4 519.4h5.4v5.4h-5.4zM509.4 524.4h5.4v5.4h-5.4zM509.4 554.3h5.4v5.4h-5.4zM524.4 524.4h5.4v5.4h-5.4zM524.4 529.4h5.4v5.4h-5.4zM524.4 534.4h5.4v5.4h-5.4zM524.4 544.3h5.4v5.4h-5.4zM524.4 549.3h5.4v5.4h-5.4zM524.4 554.3h5.4v5.4h-5.4zM549.3 549.3h5.4v5.4h-5.4zM549.3 554.3h5.4v5.4h-5.4zM554.3 554.3h5.4v5.4h-5.4zM569.3 569.3h5.4v5.4h-5.4zM574.2 574.2h5.4v5.4h-5.4zM599.2 599.2h5.4v5.4h-5.4zM624.1 624.1h5.4v5.4h-5.4zM624.1 629.1h5.4v5.4h-5.4z"/>
<path fill="#b51a47" d="M354.9 369.9h5.4v5.4h-5.4zM354.9 374.8h5.4v5.4h-5.4zM359.9 374.8h5.4v5.4h-5.4zM359.9 394.8h5.4v5.4h-5.4zM359.9 504.5h5.4v5.4h-5.4zM359.9 509.4h5.4v5.4h-5.4zM359.9 514.4h5.4v5.4h-5.4zM359.9 534.4h5.4v5.4h-5.4zM364.9 504.5h5.4v5.4h-5.4zM369.9 494.5h5.4v5.4h-5.4zM369.9 504.5h5.4v5.4h-5.4zM369.9 529.4h5.4v5.4h-5.4zM499.5 499.5h5.4v5.4h-5.4zM504.5 544.3h5.4v5.4h-5.4zM509.4 529.4h5.4v5.4h-5.4zM509.4 534.4h5.4v5.4h-5.4zM509.4 544.3h5.4v5.4h-5.4zM509.4 549.3h5.4v5.4h-5.4zM514.4 514.4h5.4v5.4h-5.4zM514.4 519.4h5.4v5.4h-5.4zM569.3 574.2h5.4v5.4h-5.4zM574.2 584.2h5.4v5.4h-5.4zM624.1 644.0h5.4v5.4h-5.4zM629.1 629.1h5.4v5.4h-5.4zM629.1 634.1h5.4v5.4h-5.4z"/>
<path fill="#fca95e" d="M354.9 414.7h5.4v5.4h-5.4zM354.9 464.6h5.4v5.4h-5.4zM354.9 469.6h5.4v5.4h-5.4zM354.9 474.5h5.4v5.4h-5.4zM354.9 479.5h5.4v5.4h-5.4zM354.9 484.5h5.4v5.4h-5.4zM364.9 374.8h5.4v5.4h-5.4zM364.9 384.8h5.4v5.4h-5.4zM364.9 389.8h5.4v5.4h-5.4zM364.9 404.8h5.4v5.4h-5.4zM369.9 394.8h5.4v5.4h-5.4zM369.9 399.8h5.4v5.4h-5.4zM369.9 414.7h5.4v5.4h-5.4zM369.9 429.7h5.4v5.4h-5.4zM369.9 434.7h5.4v5.4h-5.4zM369.9 444.6h5.4v5.4h-5.4zM369.9 464.6h5.4v5.4h-5.4zM369.9 484.5h5.4v5.4h-5.4zM374.8 424.7h5.4v5.4h-5.4zM374.8 439.7h5.4v5.4h-5.4zM374.8 454.6h5.4v5.4h-5.4zM374.8 464.6h5.4v5.4h-5.4zM374.8 479.5h5.4v5.4h-5.4zM374.8 494.5h5.4v5.4h-5.4zM374.8 529.4h5.4v5.4h-5.4zM374.8 544.3h5.4v5.4h-5.4zM374.8 549.3h5.4v5.4h-5.4zM384.8 404.8h5.4v5.4h-5.4zM384.8 434.7h5.4v5.4h-5.4zM384.8 444.6h5.4v5.4h-5.4zM384.8 459.6h5.4v5.4h-5.4zM384.8 514.4h5.4v5.4h-5.4zM384.8 549.3h5.4v5.4h-5.4zM389.8 414.7h5.4v5.4h-5.4zM389.8 429.7h5.4v5.4h-5.4zM389.8 454.6h5.4v5.4h-5.4zM389.8 464.6h5.4v5.4h-5.4zM389.8 509.4h5.4v5.4h-5.4zM389.8 534.4h5.4v5.4h-5.4zM394.8 434.7h5.4v5.4h-5.4zM394.8 444.6h5.4v5.4h-5.4zM394.8 469.6h5.4v5.4h-5.4zM394.8 474.5h5.4v5.4h-5.4zM394.8 479.5h5.4v5.4h-5.4zM394.8 504.5h5.4v5.4h-5.4zM394.8 509.4h5.4v5.4h-5.4zM394.8 549.3h5.4v5.4h-5.4zM404.8 414.7h5.4v5.4h-5.4zM404.8 434.7h5.4v5.4h-5.4zM404.8 459.6h5.4v5.4h-5.4zM404.8 509.4h5.4v5.4h-5.4zM404.8 534.4h5.4v5.4h-5.4zM414.7 499.5h5.4v5.4h-5.4zM414.7 519.4h5.4v5.4h-5.4zM424.7 424.7h5.4v5.4h-5.4zM424.7 429.7h5.4v5.4h-5.4zM424.7 434.7h5.4v5.4h-5.4zM424.7 444.6h5.4v5.4h-5.4zM424.7 474.5h5.4v5.4h-5.4zM429.7 429.7h5.4v5.4h-5.4zM429.7 464.6h5.4v5.4h-5.4zM429.7 479.5h5.4v5.4h-5.4zM429.7 484.5h5.4v5.4h-5.4zM434.7 534.4h5.4v5.4h-5.4zM444.6 459.6h5.4v5.4h-5.4zM444.6 464.6h5.4v5.4h-5.4zM459.6 469.6h5.4v5.4h-5.4zM459.6 509.4h5.4v5.4h-5.4zM464.6 479.5h5.4v5.4h-5.4zM469.6 469.6h5.4v5.4h-5.4zM469.6 484.5h5.4v5.4h-5.4zM469.6 514.4h5.4v5.4h-5.4zM469.6 519.4h5.4v5.4h-5.4zM469.6 534.4h5.4v5.4h-5.4zM469.6 549.3h5.4v5.4h-5.4zM474.5 479.5h5.4v5.4h-5.4zM474.5 484.5h5.4v5.4h-5.4zM479.5 494.5h5.4v5.4h-5.4zM479.5 499.5h5.4v5.4h-5.4zM494.5 534.4h5.4v5.4h-5.4zM529.4 534.4h5.4v5.4h-5.4zM534.4 549.3h5.4v5.4h-5.4zM544.3 544.3h5.4v5.4h-5.4zM564.3 584.2h5.4v5.4h-5.4zM564.3 589.2h5.4v5.4h-5.4zM569.3 609.1h5.4v5.4h-5.4zM594.2 609.1h5.4v5.4h-5.4zM599.2 644.0h5.4v5.4h-5.4zM634.1 634.1h5.4v5.4h-5.4z"/>
<path fill="#f57246" d="M354.9 419.7h5.4v5.4h-5.4zM354.9 494.5h5.4v5.4h-5.4zM354.9 499.5h5.4v5.4h-5.4zM354.9 504.5h5.4v5.4h-5.4zM354.9 514.4h5.4v5.4h-5.4zM354.9 529.4h5.4v5.4h-5.4zM354.9 554.3h5.4v5.4h-5.4zM369.9 374.8h5.4v5.4h-5.4zM374.8 414.7h5.4v5.4h-5.4zM374.8 419.7h5.4v5.4h-5.4zM374.8 444.6h5.4v5.4h-5.4zM374.8 519.4h5.4v5.4h-5.4zM374.8 524.4h5.4v5.4h-5.4zM384.8 384.8h5.4v5.4h-5.4zM384.8 394.8h5.4v5.4h-5.4zM384.8 399.8h5.4v5.4h-5.4zM384.8 529.4h5.4v5.4h-5.4zM389.8 419.7h5.4v5.4h-5.4zM389.8 434.7h5.4v5.4h-5.4zM389.8 444.6h5.4v5.4h-5.4zM389.8 459.6h5.4v5.4h-5.4zM389.8 469.6h5.4v5.4h-5.4zM389.8 474.5h5.4v5.4h-5.4zM389.8 484.5h5.4v5.4h-5.4zM389.8 519.4h5.4v5.4h-5.4zM389.8 544.3h5.4v5.4h-5.4zM389.8 554.3h5.4v5.4h-5.4zM394.8 419.7h5.4v5.4h-5.4zM394.8 524.4h5.4v5.4h-5.4zM399.8 499.5h5.4v5.4h-5.4zM399.8 504.5h5.4v5.4h-5.4zM399.8 544.3h5.4v5.4h-5.4zM404.8 404.8h5.4v5.4h-5.4zM404.8 444.6h5.4v5.4h-5.4zM404.8 499.5h5.4v5.4h-5.4zM434.7 494.5h5.4v5.4h-5.4zM434.7 519.4h5.4v5.4h-5.4zM434.7 554.3h5.4v5.4h-5.4zM444.6 444.6h5.4v5.4h-5.4zM444.6 479.5h5.4v5.4h-5.4zM444.6 494.5h5.4v5.4h-5.4zM444.6 509.4h5.4v5.4h-5.4zM444.6 529.4h5.4v5.4h-5.4zM459.6 529.4h5.4v5.4h-5.4zM469.6 474.5h5.4v5.4h-5.4zM469.6 479.5h5.4v5.4h-5.4zM469.6 509.4h5.4v5.4h-5.4zM494.5 504.5h5.4v5.4h-5.4zM494.5 509.4h5.4v5.4h-5.4zM494.5 514.4h5.4v5.4h-5.4zM494.5 519.4h5.4v5.4h-5.4zM494.5 529.4h5.4v5.4h-5.4zM494.5 549.3h5.4v5.4h-5.4zM499.5 514.4h5.4v5.4h-5.4zM499.5 544.3h5.4v5.4h-5.4zM499.5 554.3h5.4v5.4h-5.4zM519.4 534.4h5.4v5.4h-5.4zM519.4 554.3h5.4v5.4h-5.4zM529.4 529.4h5.4v5.4h-5.4zM534.4 534.4h5.4v5.4h-5.4zM534.4 554.3h5.4v5.4h-5.4zM544.3 549.3h5.4v5.4h-5.4zM544.3 554.3h5.4v5.4h-5.4zM569.3 594.2h5.4v5.4h-5.4zM569.3 599.2h5.4v5.4h-5.4zM574.2 599.2h5.4v5.4h-5.4z"/>
<path fill="#f88e52" d="M354.9 434.7h5.4v5.4h-5.4zM354.9 444.6h5.4v5.4h-5.4zM354.9 459.6h5.4v5.4h-5.4zM354.9 509.4h5.4v5.4h-5.4zM354.9 534.4h5.4v5.4h-5.4zM364.9 364.9h5.4v5.4h-5.4zM364.9 369.9h5.4v5.4h-5.4zM364.9 399.8h5.4v5.4h-5.4zM369.9 369.9h5.4v5.4h-5.4zM369.9 384.8h5.4v5.4h-5.4zM369.9 419.7h5.4v5.4h-5.4zM369.9 469.6h5.4v5.4h-5.4zM369.9 474.5h5.4v5.4h-5.4zM374.8 429.7h5.4v5.4h-5.4zM374.8 434.7h5.4v5.4h-5.4zM374.8 459.6h5.4v5.4h-5.4zM374.8 469.6h5.4v5.4h-5.4zM374.8 474.5h5.4v5.4h-5.4zM374.8 484.5h5.4v5.4h-5.4zM374.8 514.4h5.4v5.4h-5.4zM374.8 554.3h5.4v5.4h-5.4zM384.8 419.7h5.4v5.4h-5.4zM384.8 474.5h5.4v5.4h-5.4zM384.8 484.5h5.4v5.4h-5.4zM384.8 494.5h5.4v5.4h-5.4zM384.8 519.4h5.4v5.4h-5.4zM384.8 524.4h5.4v5.4h-5.4zM384.8 544.3h5.4v5.4h-5.4zM384.8 554.3h5.4v5.4h-5.4zM389.8 479.5h5.4v5.4h-5.4zM389.8 494.5h5.4v5.4h-5.4zM389.8 499.5h5.4v5.4h-5.4zM389.8 504.5h5.4v5.4h-5.4zM389.8 514.4h5.4v5.4h-5.4zM389.8 549.3h5.4v5.4h-5.4zM394.8 459.6h5.4v5.4h-5.4zM394.8 484.5h5.4v5.4h-5.4zM394.8 494.5h5.4v5.4h-5.4zM394.8 519.4h5.4v5.4h-5.4zM394.8 529.4h5.4v5.4h-5.4zM394.8 544.3h5.4v5.4h-5.4zM399.8 509.4h5.4v5.4h-5.4zM399.8 514.4h5.4v5.4h-5.4zM399.8 534.4h5.4v5.4h-5.4zM399.8 549.3h5.4v5.4h-5.4zM404.8 419.7h5.4v5.4h-5.4zM404.8 469.6h5.4v5.4h-5.4zM404.8 474.5h5.4v5.4h-5.4zM404.8 484.5h5.4v5.4h-5.4zM404.8 504.5h5.4v5.4h-5.4zM404.8 514.4h5.4v5.4h-5.4zM404.8 549.3h5.4v5.4h-5.4zM414.7 529.4h5.4v5.4h-5.4zM429.7 439.7h5.4v5.4h-5.4zM434.7 509.4h5.4v5.4h-5.4zM434.7 514.4h5.4v5.4h-5.4zM434.7 549.3h5.4v5.4h-5.4zM444.6 454.6h5.4v5.4h-5.4zM444.6 469.6h5.4v5.4h-5.4zM444.6 474.5h5.4v5.4h-5.4zM444.6 484.5h5.4v5.4h-5.4zM444.6 514.4h5.4v5.4h-5.4zM444.6 534.4h5.4v5.4h-5.4zM444.6 549.3h5.4v5.4h-5.4zM444.6 554.3h5.4v5.4h-5.4zM454.6 464.6h5.4v5.4h-5.4zM459.6 499.5h5.4v5.4h-5.4zM464.6 484.5h5.4v5.4h-5.4zM469.6 494.5h5.4v5.4h-5.4zM469.6 529.4h5.4v5.4h-5.4zM469.6 554.3h5.4v5.4h-5.4zM479.5 509.4h5.4v5.4h-5.4zM479.5 529.4h5.4v5.4h-5.4zM484.5 484.5h5.4v5.4h-5.4zM494.5 544.3h5.4v5.4h-5.4zM499.5 534.4h5.4v5.4h-5.4zM519.4 544.3h5.4v5.4h-5.4zM534.4 544.3h5.4v5.4h-5.4zM574.2 609.1h5.4v5.4h-5.4zM599.2 624.1h5.4v5.4h-5.4zM634.1 644.0h5.4v5.4h-5.4z"/>
<path fill="#ea5d47" d="M354.9 519.4h5.4v5.4h-5.4zM354.9 544.3h5.4v5.4h-5.4zM354.9 549.3h5.4v5.4h-5.4zM384.8 389.8h5.4v5.4h-5.4zM389.8 524.4h5.4v5.4h-5.4zM389.8 529.4h5.4v5.4h-5.4zM394.8 554.3h5.4v5.4h-5.4zM399.8 494.5h5.4v5.4h-5.4zM399.8 519.4h5.4v5.4h-5.4zM399.8 524.4h5.4v5.4h-5.4zM404.8 494.5h5.4v5.4h-5.4zM404.8 524.4h5.4v5.4h-5.4zM404.8 529.4h5.4v5.4h-5.4zM404.8 544.3h5.4v5.4h-5.4zM434.7 499.5h5.4v5.4h-5.4zM434.7 529.4h5.4v5.4h-5.4zM444.6 499.5h5.4v5.4h-5.4zM444.6 519.4h5.4v5.4h-5.4zM464.6 464.6h5.4v5.4h-5.4zM464.6 469.6h5.4v5.4h-5.4zM464.6 474.5h5.4v5.4h-5.4zM469.6 499.5h5.4v5.4h-5.4zM494.5 494.5h5.4v5.4h-5.4zM494.5 524.4h5.4v5.4h-5.4zM494.5 554.3h5.4v5.4h-5.4zM499.5 519.4h5.4v5.4h-5.4zM499.5 524.4h5.4v5.4h-5.4zM499.5 529.4h5.4v5.4h-5.4zM499.5 549.3h5.4v5.4h-5.4zM514.4 544.3h5.4v5.4h-5.4zM519.4 524.4h5.4v5.4h-5.4zM519.4 529.4h5.4v5.4h-5.4zM569.3 589.2h5.4v5.4h-5.4zM594.2 599.2h5.4v5.4h-5.4zM599.2 614.1h5.4v5.4h-5.4zM624.1 649.0h5.4v5.4h-5.4z"/>
<path fill="#dd4a4c" d="M354.9 524.4h5.4v5.4h-5.4zM369.9 509.4h5.4v5.4h-5.4zM369.9 549.3h5.4v5.4h-5.4zM399.8 529.4h5.4v5.4h-5.4zM399.8 554.3h5.4v5.4h-5.4zM404.8 554.3h5.4v5.4h-5.4zM494.5 499.5h5.4v5.4h-5.4zM499.5 504.5h5.4v5.4h-5.4zM514.4 524.4h5.4v5.4h-5.4zM514.4 529.4h5.4v5.4h-5.4zM514.4 534.4h5.4v5.4h-5.4zM519.4 519.4h5.4v5.4h-5.4zM519.4 549.3h5.4v5.4h-5.4zM564.3 569.3h5.4v5.4h-5.4zM564.3 574.2h5.4v5.4h-5.4zM574.2 594.2h5.4v5.4h-5.4zM629.1 649.0h5.4v5.4h-5.4z"/>
<path fill="#cc344d" d="M359.9 404.8h5.4v5.4h-5.4zM359.9 499.5h5.4v5.4h-5.4zM359.9 549.3h5.4v5.4h-5.4zM364.9 514.4h5.4v5.4h-5.4zM364.9 534.4h5.4v5.4h-5.4zM369.9 499.5h5.4v5.4h-5.4zM369.9 514.4h5.4v5.4h-5.4zM369.9 534.4h5.4v5.4h-5.4zM404.8 519.4h5.4v5.4h-5.4zM499.5 509.4h5.4v5.4h-5.4zM514.4 549.3h5.4v5.4h-5.4zM514.4 554.3h5.4v5.4h-5.4zM564.3 564.3h5.4v5.4h-5.4zM569.3 584.2h5.4v5.4h-5.4zM574.2 589.2h5.4v5.4h-5.4zM594.2 594.2h5.4v5.4h-5.4zM599.2 609.1h5.4v5.4h-5.4zM624.1 634.1h5.4v5.4h-5.4zM629.1 644.0h5.4v5.4h-5.4z"/>
</g>
</g></g>
<clipPath id="hc2"><rect x="0" y="192.6" width="1715" height="700"/></clipPath><g clip-path="url(#hc2)"><g filter="url(#hb)">
<g transform="matrix(0.5 -0.4750 0.5 0.4750 0 189.79) translate(0 0)">
<path fill="#ffffc4" d="M643.0 643.0h6.3v6.3h-6.3zM643.0 684.4h6.3v6.3h-6.3zM643.0 690.4h6.3v6.3h-6.3zM643.0 755.5h6.3v6.3h-6.3zM643.0 761.4h6.3v6.3h-6.3zM648.9 648.9h6.3v6.3h-6.3zM648.9 654.8h6.3v6.3h-6.3zM648.9 749.6h6.3v6.3h-6.3zM648.9 761.4h6.3v6.3h-6.3zM660.8 743.7h6.3v6.3h-6.3zM660.8 761.4h6.3v6.3h-6.3zM666.7 731.8h6.3v6.3h-6.3zM666.7 755.5h6.3v6.3h-6.3zM702.2 814.7h6.3v6.3h-6.3zM708.1 714.1h6.3v6.3h-6.3zM737.7 773.3h6.3v6.3h-6.3zM796.9 796.9h6.3v6.3h-6.3z"/>
<path fill="#fee79d" d="M643.0 648.9h6.3v6.3h-6.3zM648.9 660.8h6.3v6.3h-6.3zM654.8 654.8h6.3v6.3h-6.3zM654.8 666.7h6.3v6.3h-6.3zM654.8 690.4h6.3v6.3h-6.3zM660.8 660.8h6.3v6.3h-6.3zM660.8 666.7h6.3v6.3h-6.3zM660.8 684.4h6.3v6.3h-6.3zM660.8 690.4h6.3v6.3h-6.3zM666.7 666.7h6.3v6.3h-6.3zM666.7 690.4h6.3v6.3h-6.3zM672.6 684.4h6.3v6.3h-6.3zM672.6 755.5h6.3v6.3h-6.3zM672.6 796.9h6.3v6.3h-6.3zM684.4 814.7h6.3v6.3h-6.3zM690.4 714.1h6.3v6.3h-6.3zM690.4 720.0h6.3v6.3h-6.3zM702.2 708.1h6.3v6.3h-6.3zM708.1 737.7h6.3v6.3h-6.3zM708.1 814.7h6.3v6.3h-6.3zM714.1 720.0h6.3v6.3h-6.3zM720.0 796.9h6.3v6.3h-6.3zM725.9 737.7h6.3v6.3h-6.3zM737.7 749.6h6.3v6.3h-6.3zM737.7 767.3h6.3v6.3h-6.3zM743.7 749.6h6.3v6.3h-6.3zM749.6 808.8h6.3v6.3h-6.3zM779.2 779.2h6.3v6.3h-6.3zM779.2 796.9h6.3v6.3h-6.3zM779.2 808.8h6.3v6.3h-6.3zM808.8 808.8h6.3v6.3h-6.3zM856.2 856.2h6.3v6.3h-6.3zM856.2 862.1h6.3v6.3h-6.3z"/>
<path fill="#f6fbb5" d="M643.0 666.7h6.3v6.3h-6.3zM643.0 672.6h6.3v6.3h-6.3zM643.0 749.6h6.3v6.3h-6.3zM648.9 731.8h6.3v6.3h-6.3zM648.9 755.5h6.3v6.3h-6.3zM654.8 749.6h6.3v6.3h-6.3zM654.8 755.5h6.3v6.3h-6.3zM660.8 678.5h6.3v6.3h-6.3zM660.8 731.8h6.3v6.3h-6.3zM666.7 684.4h6.3v6.3h-6.3zM672.6 731.8h6.3v6.3h-6.3zM672.6 749.6h6.3v6.3h-6.3zM672.6 761.4h6.3v6.3h-6.3zM672.6 767.3h6.3v6.3h-6.3zM678.5 755.5h6.3v6.3h-6.3zM678.5 761.4h6.3v6.3h-6.3zM684.4 684.4h6.3v6.3h-6.3zM684.4 690.4h6.3v6.3h-6.3zM708.1 708.1h6.3v6.3h-6.3zM714.1 749.6h6.3v6.3h-6.3z"/>
<path fill="#daf0a3" d="M643.0 678.5h6.3v6.3h-6.3zM643.0 862.1h6.3v6.3h-6.3zM648.9 678.5h6.3v6.3h-6.3zM648.9 856.2h6.3v6.3h-6.3zM648.9 862.1h6.3v6.3h-6.3zM654.8 725.9h6.3v6.3h-6.3zM660.8 720.0h6.3v6.3h-6.3zM660.8 737.7h6.3v6.3h-6.3zM660.8 856.2h6.3v6.3h-6.3zM666.7 678.5h6.3v6.3h-6.3zM666.7 714.1h6.3v6.3h-6.3zM666.7 737.7h6.3v6.3h-6.3zM666.7 743.7h6.3v6.3h-6.3zM666.7 791.0h6.3v6.3h-6.3zM672.6 743.7h6.3v6.3h-6.3zM678.5 749.6h6.3v6.3h-6.3zM702.2 791.0h6.3v6.3h-6.3zM708.1 779.2h6.3v6.3h-6.3zM714.1 737.7h6.3v6.3h-6.3zM714.1 791.0h6.3v6.3h-6.3zM720.0 720.0h6.3v6.3h-6.3zM720.0 779.2h6.3v6.3h-6.3zM720.0 791.0h6.3v6.3h-6.3zM737.7 755.5h6.3v6.3h-6.3zM749.6 749.6h6.3v6.3h-6.3zM755.5 779.2h6.3v6.3h-6.3z"/>
<path fill="#c4e7a8" d="M643.0 714.1h6.3v6.3h-6.3zM643.0 743.7h6.3v6.3h-6.3zM643.0 767.3h6.3v6.3h-6.3zM648.9 708.1h6.3v6.3h-6.3zM648.9 720.0h6.3v6.3h-6.3zM648.9 737.7h6.3v6.3h-6.3zM654.8 714.1h6.3v6.3h-6.3zM654.8 737.7h6.3v6.3h-6.3zM654.8 767.3h6.3v6.3h-6.3zM660.8 725.9h6.3v6.3h-6.3zM660.8 773.3h6.3v6.3h-6.3zM660.8 814.7h6.3v6.3h-6.3zM666.7 725.9h6.3v6.3h-6.3zM672.6 720.0h6.3v6.3h-6.3zM672.6 725.9h6.3v6.3h-6.3zM672.6 856.2h6.3v6.3h-6.3zM678.5 702.2h6.3v6.3h-6.3zM678.5 731.8h6.3v6.3h-6.3zM678.5 856.2h6.3v6.3h-6.3zM684.4 702.2h6.3v6.3h-6.3zM684.4 725.9h6.3v6.3h-6.3zM708.1 791.0h6.3v6.3h-6.3zM720.0 737.7h6.3v6.3h-6.3z"/>
<path fill="#63b5b4" d="M643.0 720.0h6.3v6.3h-6.3zM666.7 808.8h6.3v6.3h-6.3z"/>
<path fill="#acdeab" d="M643.0 725.9h6.3v6.3h-6.3zM643.0 737.7h6.3v6.3h-6.3zM648.9 725.9h6.3v6.3h-6.3zM654.8 720.0h6.3v6.3h-6.3zM654.8 779.2h6.3v6.3h-6.3zM654.8 856.2h6.3v6.3h-6.3zM660.8 708.1h6.3v6.3h-6.3zM660.8 714.1h6.3v6.3h-6.3zM666.7 702.2h6.3v6.3h-6.3zM666.7 796.9h6.3v6.3h-6.3zM672.6 714.1h6.3v6.3h-6.3zM678.5 678.5h6.3v6.3h-6.3zM678.5 684.4h6.3v6.3h-6.3zM678.5 714.1h6.3v6.3h-6.3zM678.5 737.7h6.3v6.3h-6.3zM678.5 767.3h6.3v6.3h-6.3zM684.4 773.3h6.3v6.3h-6.3zM684.4 791.0h6.3v6.3h-6.3zM690.4 862.1h6.3v6.3h-6.3zM708.1 808.8h6.3v6.3h-6.3z"/>
<path fill="#5a73b4" d="M643.0 779.2h6.3v6.3h-6.3zM643.0 796.9h6.3v6.3h-6.3zM643.0 814.7h6.3v6.3h-6.3z"/>
<path fill="#d0445b" d="M643.0 791.0h6.3v6.3h-6.3zM648.9 791.0h6.3v6.3h-6.3zM648.9 796.9h6.3v6.3h-6.3zM684.4 808.8h6.3v6.3h-6.3zM690.4 802.9h6.3v6.3h-6.3zM737.7 856.2h6.3v6.3h-6.3zM755.5 796.9h6.3v6.3h-6.3zM755.5 802.9h6.3v6.3h-6.3zM773.3 814.7h6.3v6.3h-6.3zM791.0 802.9h6.3v6.3h-6.3zM791.0 856.2h6.3v6.3h-6.3zM802.9 802.9h6.3v6.3h-6.3z"/>
<path fill="#fdc47b" d="M643.0 802.9h6.3v6.3h-6.3zM678.5 796.9h6.3v6.3h-6.3zM690.4 725.9h6.3v6.3h-6.3zM690.4 814.7h6.3v6.3h-6.3zM702.2 702.2h6.3v6.3h-6.3zM702.2 714.1h6.3v6.3h-6.3zM702.2 720.0h6.3v6.3h-6.3zM702.2 725.9h6.3v6.3h-6.3zM702.2 743.7h6.3v6.3h-6.3zM702.2 862.1h6.3v6.3h-6.3zM708.1 767.3h6.3v6.3h-6.3zM714.1 779.2h6.3v6.3h-6.3zM714.1 796.9h6.3v6.3h-6.3zM725.9 779.2h6.3v6.3h-6.3zM737.7 791.0h6.3v6.3h-6.3zM737.7 796.9h6.3v6.3h-6.3zM737.7 808.8h6.3v6.3h-6.3zM737.7 814.7h6.3v6.3h-6.3zM743.7 755.5h6.3v6.3h-6.3zM749.6 767.3h6.3v6.3h-6.3zM767.3 767.3h6.3v6.3h-6.3zM767.3 796.9h6.3v6.3h-6.3zM767.3 814.7h6.3v6.3h-6.3zM779.2 814.7h6.3v6.3h-6.3z"/>
<path fill="#fed78a" d="M648.9 672.6h6.3v6.3h-6.3zM654.8 660.8h6.3v6.3h-6.3zM654.8 672.6h6.3v6.3h-6.3zM654.8 773.3h6.3v6.3h-6.3zM660.8 808.8h6.3v6.3h-6.3zM672.6 690.4h6.3v6.3h-6.3zM690.4 731.8h6.3v6.3h-6.3zM702.2 856.2h6.3v6.3h-6.3zM708.1 749.6h6.3v6.3h-6.3zM708.1 761.4h6.3v6.3h-6.3zM708.1 862.1h6.3v6.3h-6.3zM714.1 731.8h6.3v6.3h-6.3zM714.1 743.7h6.3v6.3h-6.3zM714.1 862.1h6.3v6.3h-6.3zM720.0 767.3h6.3v6.3h-6.3zM720.0 862.1h6.3v6.3h-6.3zM731.8 862.1h6.3v6.3h-6.3zM761.4 814.7h6.3v6.3h-6.3zM791.0 796.9h6.3v6.3h-6.3z"/>
<path fill="#92d4ab" d="M648.9 714.1h6.3v6.3h-6.3zM666.7 708.1h6.3v6.3h-6.3zM666.7 802.9h6.3v6.3h-6.3zM666.7 856.2h6.3v6.3h-6.3zM678.5 725.9h6.3v6.3h-6.3zM678.5 802.9h6.3v6.3h-6.3zM678.5 862.1h6.3v6.3h-6.3zM690.4 856.2h6.3v6.3h-6.3z"/>
<path fill="#a61551" d="M648.9 773.3h6.3v6.3h-6.3zM654.8 802.9h6.3v6.3h-6.3zM666.7 773.3h6.3v6.3h-6.3zM672.6 773.3h6.3v6.3h-6.3zM702.2 773.3h6.3v6.3h-6.3zM755.5 755.5h6.3v6.3h-6.3z"/>
<path fill="#e0585a" d="M648.9 779.2h6.3v6.3h-6.3zM648.9 808.8h6.3v6.3h-6.3zM690.4 749.6h6.3v6.3h-6.3zM690.4 767.3h6.3v6.3h-6.3zM690.4 773.3h6.3v6.3h-6.3zM690.4 791.0h6.3v6.3h-6.3zM702.2 755.5h6.3v6.3h-6.3zM702.2 802.9h6.3v6.3h-6.3zM743.7 856.2h6.3v6.3h-6.3zM749.6 755.5h6.3v6.3h-6.3zM749.6 802.9h6.3v6.3h-6.3zM749.6 856.2h6.3v6.3h-6.3zM755.5 773.3h6.3v6.3h-6.3zM761.4 761.4h6.3v6.3h-6.3zM761.4 791.0h6.3v6.3h-6.3zM767.3 862.1h6.3v6.3h-6.3zM773.3 779.2h6.3v6.3h-6.3z"/>
<path fill="#bb2c56" d="M648.9 814.7h6.3v6.3h-6.3zM654.8 808.8h6.3v6.3h-6.3zM672.6 791.0h6.3v6.3h-6.3z"/>
<path fill="#fff3b0" d="M654.8 684.4h6.3v6.3h-6.3zM660.8 672.6h6.3v6.3h-6.3zM660.8 755.5h6.3v6.3h-6.3zM666.7 672.6h6.3v6.3h-6.3zM672.6 672.6h6.3v6.3h-6.3zM672.6 779.2h6.3v6.3h-6.3zM684.4 755.5h6.3v6.3h-6.3zM684.4 779.2h6.3v6.3h-6.3zM708.1 731.8h6.3v6.3h-6.3zM714.1 714.1h6.3v6.3h-6.3zM714.1 725.9h6.3v6.3h-6.3zM725.9 755.5h6.3v6.3h-6.3zM725.9 773.3h6.3v6.3h-6.3zM731.8 796.9h6.3v6.3h-6.3zM755.5 761.4h6.3v6.3h-6.3zM755.5 767.3h6.3v6.3h-6.3zM791.0 791.0h6.3v6.3h-6.3zM791.0 814.7h6.3v6.3h-6.3zM808.8 814.7h6.3v6.3h-6.3z"/>
<path fill="#ecf8a6" d="M654.8 702.2h6.3v6.3h-6.3zM654.8 862.1h6.3v6.3h-6.3zM660.8 749.6h6.3v6.3h-6.3zM660.8 767.3h6.3v6.3h-6.3zM666.7 761.4h6.3v6.3h-6.3zM666.7 767.3h6.3v6.3h-6.3zM672.6 862.1h6.3v6.3h-6.3zM684.4 731.8h6.3v6.3h-6.3zM684.4 743.7h6.3v6.3h-6.3zM684.4 749.6h6.3v6.3h-6.3zM690.4 779.2h6.3v6.3h-6.3zM714.1 814.7h6.3v6.3h-6.3zM720.0 749.6h6.3v6.3h-6.3zM720.0 808.8h6.3v6.3h-6.3zM725.9 725.9h6.3v6.3h-6.3zM725.9 749.6h6.3v6.3h-6.3zM725.9 796.9h6.3v6.3h-6.3zM743.7 773.3h6.3v6.3h-6.3z"/>
<path fill="#78c9ac" d="M654.8 708.1h6.3v6.3h-6.3zM660.8 802.9h6.3v6.3h-6.3zM666.7 720.0h6.3v6.3h-6.3zM678.5 791.0h6.3v6.3h-6.3zM684.4 714.1h6.3v6.3h-6.3z"/>
<path fill="#4e9ebd" d="M654.8 791.0h6.3v6.3h-6.3zM684.4 796.9h6.3v6.3h-6.3z"/>
<path fill="#f67d55" d="M654.8 796.9h6.3v6.3h-6.3zM690.4 808.8h6.3v6.3h-6.3zM720.0 755.5h6.3v6.3h-6.3zM720.0 802.9h6.3v6.3h-6.3zM725.9 791.0h6.3v6.3h-6.3zM731.8 749.6h6.3v6.3h-6.3zM749.6 761.4h6.3v6.3h-6.3zM749.6 796.9h6.3v6.3h-6.3zM779.2 791.0h6.3v6.3h-6.3zM791.0 808.8h6.3v6.3h-6.3zM791.0 862.1h6.3v6.3h-6.3zM796.9 856.2h6.3v6.3h-6.3z"/>
<path fill="#ec6a56" d="M654.8 814.7h6.3v6.3h-6.3zM660.8 796.9h6.3v6.3h-6.3zM666.7 779.2h6.3v6.3h-6.3zM678.5 814.7h6.3v6.3h-6.3zM690.4 743.7h6.3v6.3h-6.3zM690.4 755.5h6.3v6.3h-6.3zM702.2 737.7h6.3v6.3h-6.3zM725.9 802.9h6.3v6.3h-6.3zM731.8 761.4h6.3v6.3h-6.3zM731.8 767.3h6.3v6.3h-6.3zM731.8 773.3h6.3v6.3h-6.3zM731.8 802.9h6.3v6.3h-6.3zM737.7 761.4h6.3v6.3h-6.3zM737.7 802.9h6.3v6.3h-6.3zM743.7 814.7h6.3v6.3h-6.3zM743.7 862.1h6.3v6.3h-6.3zM749.6 814.7h6.3v6.3h-6.3zM755.5 814.7h6.3v6.3h-6.3zM761.4 773.3h6.3v6.3h-6.3zM761.4 856.2h6.3v6.3h-6.3zM773.3 802.9h6.3v6.3h-6.3zM773.3 808.8h6.3v6.3h-6.3zM773.3 856.2h6.3v6.3h-6.3zM779.2 856.2h6.3v6.3h-6.3zM796.9 862.1h6.3v6.3h-6.3zM802.9 814.7h6.3v6.3h-6.3zM802.9 862.1h6.3v6.3h-6.3zM808.8 862.1h6.3v6.3h-6.3z"/>
<path fill="#4988be" d="M666.7 814.7h6.3v6.3h-6.3z"/>
<path fill="#fcb06b" d="M690.4 702.2h6.3v6.3h-6.3zM690.4 737.7h6.3v6.3h-6.3zM702.2 731.8h6.3v6.3h-6.3zM708.1 796.9h6.3v6.3h-6.3zM714.1 761.4h6.3v6.3h-6.3zM714.1 808.8h6.3v6.3h-6.3zM720.0 856.2h6.3v6.3h-6.3zM725.9 808.8h6.3v6.3h-6.3zM725.9 814.7h6.3v6.3h-6.3zM743.7 743.7h6.3v6.3h-6.3zM743.7 791.0h6.3v6.3h-6.3zM755.5 808.8h6.3v6.3h-6.3zM755.5 856.2h6.3v6.3h-6.3zM761.4 862.1h6.3v6.3h-6.3zM767.3 773.3h6.3v6.3h-6.3zM767.3 808.8h6.3v6.3h-6.3z"/>
<path fill="#f99760" d="M702.2 779.2h6.3v6.3h-6.3zM702.2 796.9h6.3v6.3h-6.3zM708.1 755.5h6.3v6.3h-6.3zM708.1 773.3h6.3v6.3h-6.3zM708.1 802.9h6.3v6.3h-6.3zM720.0 743.7h6.3v6.3h-6.3zM725.9 743.7h6.3v6.3h-6.3zM725.9 761.4h6.3v6.3h-6.3zM725.9 856.2h6.3v6.3h-6.3zM725.9 862.1h6.3v6.3h-6.3zM731.8 731.8h6.3v6.3h-6.3zM731.8 743.7h6.3v6.3h-6.3zM731.8 779.2h6.3v6.3h-6.3zM731.8 856.2h6.3v6.3h-6.3zM755.5 791.0h6.3v6.3h-6.3zM755.5 862.1h6.3v6.3h-6.3zM761.4 796.9h6.3v6.3h-6.3zM773.3 796.9h6.3v6.3h-6.3zM773.3 862.1h6.3v6.3h-6.3zM779.2 862.1h6.3v6.3h-6.3zM796.9 808.8h6.3v6.3h-6.3zM802.9 856.2h6.3v6.3h-6.3zM814.7 814.7h6.3v6.3h-6.3zM814.7 862.1h6.3v6.3h-6.3zM862.1 862.1h6.3v6.3h-6.3z"/>
</g>
</g></g>
<clipPath id="hc3"><rect x="0" y="192.0" width="1715" height="700"/></clipPath><g clip-path="url(#hc3)"><g filter="url(#hb)">
<g transform="matrix(0.5 -0.5600 0.5 0.5600 0 188.45) translate(0 0)">
<path fill="#b7e2b6" d="M1120.0 1120.0h6.7v6.7h-6.7zM1120.0 1126.3h6.7v6.7h-6.7zM1120.0 1151.7h6.7v6.7h-6.7zM1126.3 1170.7h6.7v6.7h-6.7zM1132.7 1164.3h6.7v6.7h-6.7zM1145.3 1177.0h6.7v6.7h-6.7z"/>
<path fill="#eef9b1" d="M1120.0 1139.0h6.7v6.7h-6.7zM1126.3 1139.0h6.7v6.7h-6.7zM1132.7 1145.3h6.7v6.7h-6.7zM1132.7 1158.0h6.7v6.7h-6.7zM1139.0 1158.0h6.7v6.7h-6.7zM1145.3 1158.0h6.7v6.7h-6.7zM1158.0 1158.0h6.7v6.7h-6.7zM1158.0 1170.7h6.7v6.7h-6.7zM1158.0 1177.0h6.7v6.7h-6.7zM1158.0 1183.3h6.7v6.7h-6.7zM1164.3 1164.3h6.7v6.7h-6.7zM1170.7 1177.0h6.7v6.7h-6.7zM1170.7 1183.3h6.7v6.7h-6.7z"/>
<path fill="#f7fcbf" d="M1120.0 1145.3h6.7v6.7h-6.7zM1139.0 1164.3h6.7v6.7h-6.7zM1145.3 1164.3h6.7v6.7h-6.7zM1145.3 1170.7h6.7v6.7h-6.7zM1151.7 1177.0h6.7v6.7h-6.7z"/>
<path fill="#89d0b7" d="M1120.0 1158.0h6.7v6.7h-6.7zM1126.3 1158.0h6.7v6.7h-6.7zM1132.7 1170.7h6.7v6.7h-6.7zM1158.0 1189.7h6.7v6.7h-6.7z"/>
<path fill="#cceab3" d="M1120.0 1164.3h6.7v6.7h-6.7zM1126.3 1126.3h6.7v6.7h-6.7zM1132.7 1132.7h6.7v6.7h-6.7zM1145.3 1183.3h6.7v6.7h-6.7zM1151.7 1183.3h6.7v6.7h-6.7zM1158.0 1164.3h6.7v6.7h-6.7zM1164.3 1170.7h6.7v6.7h-6.7zM1170.7 1170.7h6.7v6.7h-6.7z"/>
<path fill="#65abc5" d="M1120.0 1170.7h6.7v6.7h-6.7zM1120.0 1183.3h6.7v6.7h-6.7zM1126.3 1189.7h6.7v6.7h-6.7zM1139.0 1189.7h6.7v6.7h-6.7z"/>
<path fill="#7085bd" d="M1120.0 1177.0h6.7v6.7h-6.7zM1120.0 1189.7h6.7v6.7h-6.7zM1132.7 1189.7h6.7v6.7h-6.7z"/>
<path fill="#dff2af" d="M1126.3 1132.7h6.7v6.7h-6.7zM1126.3 1164.3h6.7v6.7h-6.7zM1132.7 1139.0h6.7v6.7h-6.7zM1151.7 1164.3h6.7v6.7h-6.7zM1151.7 1170.7h6.7v6.7h-6.7z"/>
<path fill="#ffffcc" d="M1126.3 1145.3h6.7v6.7h-6.7zM1132.7 1151.7h6.7v6.7h-6.7zM1164.3 1189.7h6.7v6.7h-6.7zM1170.7 1189.7h6.7v6.7h-6.7zM1177.0 1189.7h6.7v6.7h-6.7z"/>
<path fill="#6198c6" d="M1126.3 1177.0h6.7v6.7h-6.7zM1126.3 1183.3h6.7v6.7h-6.7z"/>
<path fill="#77bfbd" d="M1132.7 1183.3h6.7v6.7h-6.7z"/>
<path fill="#fdba7e" d="M1139.0 1139.0h6.7v6.7h-6.7zM1177.0 1183.3h6.7v6.7h-6.7zM1189.7 1189.7h6.7v6.7h-6.7z"/>
<path fill="#feeaa9" d="M1139.0 1145.3h6.7v6.7h-6.7zM1145.3 1145.3h6.7v6.7h-6.7zM1151.7 1158.0h6.7v6.7h-6.7z"/>
<path fill="#a0d9b6" d="M1139.0 1183.3h6.7v6.7h-6.7zM1145.3 1189.7h6.7v6.7h-6.7z"/>
<path fill="#fedd99" d="M1145.3 1151.7h6.7v6.7h-6.7z"/>
<path fill="#fdcc8c" d="M1151.7 1151.7h6.7v6.7h-6.7zM1177.0 1177.0h6.7v6.7h-6.7zM1183.3 1183.3h6.7v6.7h-6.7z"/>
<path fill="#f9a575" d="M1183.3 1189.7h6.7v6.7h-6.7z"/>
</g>
</g></g>
<g stroke="#161616" stroke-width="2.3" fill="none">
<path d="M274.0 122.5H880.3"/>
<path d="M274.0 191.6H880.3"/>
<path d="M275.0 110.0V192.6M879.3 109.5V192.6"/>
<path stroke-width="1.8" d="M583.0 109.5V122.5"/>
</g>
<g stroke="#161616" stroke-width="2.3" fill="none">
<path d="M1029.2 122.3H1634.8"/>
<path d="M1029.2 191.0H1634.8"/>
<path d="M1030.2 109.2V192.0M1633.8 109.0V192.0"/>
<path stroke-width="1.8" d="M1338.1 109.5V122.3"/>
</g>
<g stroke="#161616" stroke-width="2.3" fill="none">
<path d="M261.3 833.4H868.6"/>
<path d="M262.3 820.3V900.0M867.6 818.2V900.0"/>
<path stroke-width="1.8" d="M570.2 819.5V833.4"/>
</g>
<g stroke="#161616" stroke-width="2.3" fill="none">
<path d="M1029.1 833.8H1635.1"/>
<path d="M1029.1 902.0H1635.1"/>
<path d="M1030.1 824.0V903.0M1634.1 822.2V903.0"/>
<path stroke-width="1.8" d="M1338.1 822.0V833.8"/>
</g>
<path fill="#0a0a0a" d="M307.0 149.6L307.0 148.3L307.8 148.3L307.8 149.3L308.6 149.3L308.6 148.6L309.4 148.6L309.4 147.2L310.2 147.2L310.2 147.2L311.0 147.2L311.0 146.7L311.8 146.7L311.8 146.6L312.6 146.6L312.6 146.5L313.4 146.5L313.4 144.6L314.2 144.6L314.2 144.1L315.0 144.1L315.0 142.3L315.8 142.3L315.8 140.6L316.7 140.6L316.7 141.8L317.5 141.8L317.5 138.7L318.3 138.7L318.3 140.3L319.2 140.3L319.2 141.3L320.0 141.3L320.0 139.2L320.8 139.2L320.8 142.0L321.7 142.0L321.7 141.7L322.5 141.7L322.5 138.1L323.3 138.1L323.3 137.9L324.2 137.9L324.2 139.9L325.0 139.9L325.0 141.3L325.8 141.3L325.8 139.0L326.7 139.0L326.7 138.2L327.5 138.2L327.5 138.9L328.3 138.9L328.3 137.2L329.2 137.2L329.2 137.9L330.0 137.9L330.0 146.0L331.0 146.0L331.0 146.0L332.0 146.0L332.0 137.8L332.8 137.8L332.8 137.8L333.7 137.8L333.7 137.7L334.5 137.7L334.5 138.7L335.4 138.7L335.4 137.9L336.2 137.9L336.2 136.7L337.0 136.7L337.0 140.2L337.9 140.2L337.9 139.0L338.7 139.0L338.7 139.3L339.6 139.3L339.6 137.2L340.4 137.2L340.4 140.8L341.2 140.8L341.2 140.1L342.1 140.1L342.1 136.8L342.9 136.8L342.9 137.7L343.8 137.7L343.8 139.4L344.6 139.4L344.6 139.3L345.4 139.3L345.4 140.3L346.3 140.3L346.3 137.9L347.1 137.9L347.1 139.7L348.0 139.7L348.0 139.0L348.8 139.0L348.8 137.3L349.6 137.3L349.6 138.5L350.5 138.5L350.5 139.8L351.3 139.8L351.3 139.6L352.2 139.6L352.2 138.0L353.0 138.0L353.0 149.6zM356.0 149.6L356.0 142.4L356.9 142.4L356.9 139.9L357.7 139.9L357.7 140.4L358.6 140.4L358.6 142.4L359.4 142.4L359.4 140.6L360.3 140.6L360.3 139.3L361.1 139.3L361.1 140.6L362.0 140.6L362.0 140.9L362.9 140.9L362.9 140.5L363.7 140.5L363.7 139.1L364.6 139.1L364.6 139.1L365.4 139.1L365.4 139.1L366.3 139.1L366.3 139.9L367.1 139.9L367.1 138.6L368.0 138.6L368.0 145.9L368.8 145.9L368.8 146.0L369.5 146.0L369.5 145.5L370.2 145.5L370.2 145.5L371.0 145.5L371.0 138.8L371.8 138.8L371.8 139.6L372.6 139.6L372.6 137.8L373.5 137.8L373.5 136.7L374.3 136.7L374.3 135.5L375.1 135.5L375.1 136.5L375.9 136.5L375.9 138.1L376.7 138.1L376.7 137.0L377.5 137.0L377.5 135.8L378.4 135.8L378.4 136.7L379.2 136.7L379.2 133.9L380.0 133.9L380.0 132.0L380.8 132.0L380.8 133.4L381.6 133.4L381.6 132.2L382.4 132.2L382.4 131.9L383.2 131.9L383.2 131.3L384.0 131.3L384.0 136.2L384.8 136.2L384.8 137.7L385.6 137.7L385.6 133.8L386.5 133.8L386.5 136.8L387.3 136.8L387.3 136.9L388.1 136.9L388.1 137.0L388.9 137.0L388.9 136.4L389.7 136.4L389.7 136.5L390.5 136.5L390.5 135.3L391.4 135.3L391.4 135.3L392.2 135.3L392.2 134.7L393.0 134.7L393.0 129.7L393.8 129.7L393.8 132.3L394.7 132.3L394.7 131.6L395.5 131.6L395.5 130.7L396.3 130.7L396.3 131.8L397.2 131.8L397.2 132.0L398.0 132.0L398.0 134.4L398.9 134.4L398.9 134.7L399.7 134.7L399.7 135.8L400.6 135.8L400.6 136.4L401.4 136.4L401.4 136.7L402.3 136.7L402.3 136.4L403.1 136.4L403.1 135.0L404.0 135.0L404.0 136.1L404.9 136.1L404.9 136.2L405.7 136.2L405.7 138.1L406.6 138.1L406.6 139.5L407.4 139.5L407.4 139.6L408.3 139.6L408.3 139.9L409.1 139.9L409.1 140.3L410.0 140.3L410.0 140.3L410.9 140.3L410.9 142.7L411.7 142.7L411.7 142.9L412.6 142.9L412.6 141.7L413.4 141.7L413.4 142.2L414.3 142.2L414.3 142.9L415.1 142.9L415.1 145.8L416.0 145.8L416.0 149.6zM421.0 149.6L421.0 145.5L421.8 145.5L421.8 145.2L422.6 145.2L422.6 146.1L423.4 146.1L423.4 145.5L424.2 145.5L424.2 144.9L425.0 144.9L425.0 145.0L425.8 145.0L425.8 145.7L426.6 145.7L426.6 144.9L427.4 144.9L427.4 145.1L428.2 145.1L428.2 145.9L429.0 145.9L429.0 149.6z"/>
<rect x="642.9" y="154.8" width="1.8" height="6.3" fill="#7134c4"/>
<rect x="649.2" y="154.8" width="6.7" height="6.3" fill="#7134c4"/>
<rect x="661.0" y="154.8" width="4.9" height="6.3" fill="#7134c4"/>
<rect x="670.4" y="154.8" width="45.2" height="6.3" fill="#7134c4"/>
<rect x="717.0" y="154.8" width="101.6" height="6.3" fill="#7134c4"/>
<rect x="856.6" y="154.8" width="9.9" height="6.3" fill="#7134c4"/>
<rect x="695.7" y="154.8" width="10.8" height="6.3" fill="#d9348a"/>
<rect x="741.0" y="154.8" width="12.5" height="6.3" fill="#d9348a"/>
<rect x="772.5" y="154.8" width="15.4" height="6.3" fill="#d9348a"/>
<rect x="277.0" y="180.0" width="384.0" height="8.3" fill="#78ecec" opacity="0.45"/>
<rect x="816.0" y="180.0" width="62.0" height="8.3" fill="#78ecec" opacity="0.45"/>
<path fill="#1ec4bf" d="M277.0 181.0h1.4V187.3h-1.4zM279.3 181.0h2.6V187.3h-2.6zM282.9 181.0h3.8V187.3h-3.8zM287.4 181.0h1.7V187.3h-1.7zM289.7 181.0h3.0V187.3h-3.0zM293.7 181.0h1.7V187.3h-1.7zM295.7 181.0h4.5V187.3h-4.5zM301.3 181.0h3.1V187.3h-3.1zM304.9 181.0h2.6V187.3h-2.6zM308.7 181.0h2.2V187.3h-2.2zM313.9 181.0h2.8V187.3h-2.8zM317.5 181.0h1.5V187.3h-1.5zM320.1 181.0h1.7V187.3h-1.7zM327.6 181.0h3.6V187.3h-3.6zM332.2 181.0h1.3V187.3h-1.3zM337.1 181.0h2.3V187.3h-2.3zM343.0 181.0h0.9V187.3h-0.9zM344.8 181.0h4.5V187.3h-4.5zM350.1 181.0h2.8V187.3h-2.8zM353.4 181.0h3.1V187.3h-3.1zM357.3 181.0h1.5V187.3h-1.5zM359.4 181.0h4.2V187.3h-4.2zM364.5 181.0h1.9V187.3h-1.9zM366.8 181.0h3.8V187.3h-3.8zM371.2 181.0h3.3V187.3h-3.3zM375.6 181.0h4.3V187.3h-4.3zM381.2 181.0h4.4V187.3h-4.4zM386.6 181.0h2.6V187.3h-2.6zM389.8 181.0h4.0V187.3h-4.0zM394.2 181.0h3.8V187.3h-3.8zM398.7 181.0h3.9V187.3h-3.9zM403.1 181.0h1.9V187.3h-1.9zM405.4 181.0h1.1V187.3h-1.1zM407.6 181.0h4.4V187.3h-4.4zM415.3 181.0h3.5V187.3h-3.5zM419.3 181.0h3.9V187.3h-3.9zM424.3 181.0h3.0V187.3h-3.0zM428.1 181.0h3.9V187.3h-3.9zM432.8 181.0h1.8V187.3h-1.8zM438.6 181.0h3.0V187.3h-3.0zM442.7 181.0h3.0V187.3h-3.0zM451.1 181.0h1.2V187.3h-1.2zM452.6 181.0h2.5V187.3h-2.5zM456.1 181.0h3.2V187.3h-3.2zM460.1 181.0h2.0V187.3h-2.0zM462.6 181.0h1.4V187.3h-1.4zM464.7 181.0h3.4V187.3h-3.4zM468.4 181.0h3.4V187.3h-3.4zM472.8 181.0h3.7V187.3h-3.7zM477.3 181.0h1.0V187.3h-1.0zM478.8 181.0h3.4V187.3h-3.4zM483.1 181.0h2.0V187.3h-2.0zM488.3 181.0h2.7V187.3h-2.7zM492.1 181.0h1.2V187.3h-1.2zM498.1 181.0h3.4V187.3h-3.4zM502.3 181.0h1.0V187.3h-1.0zM504.5 181.0h2.1V187.3h-2.1zM507.8 181.0h1.2V187.3h-1.2zM509.4 181.0h3.8V187.3h-3.8zM513.9 181.0h3.1V187.3h-3.1zM517.9 181.0h2.4V187.3h-2.4zM521.0 181.0h2.3V187.3h-2.3zM523.6 181.0h2.4V187.3h-2.4zM526.9 181.0h3.8V187.3h-3.8zM531.5 181.0h1.7V187.3h-1.7zM537.4 181.0h2.6V187.3h-2.6zM540.9 181.0h4.1V187.3h-4.1zM545.9 181.0h3.6V187.3h-3.6zM550.6 181.0h3.4V187.3h-3.4zM554.5 181.0h4.2V187.3h-4.2zM564.5 181.0h0.8V187.3h-0.8zM565.9 181.0h2.2V187.3h-2.2zM569.0 181.0h1.1V187.3h-1.1zM571.2 181.0h3.5V187.3h-3.5zM575.2 181.0h4.3V187.3h-4.3zM580.0 181.0h2.0V187.3h-2.0zM585.3 181.0h1.7V187.3h-1.7zM587.5 181.0h3.3V187.3h-3.3zM591.7 181.0h1.8V187.3h-1.8zM594.6 181.0h2.5V187.3h-2.5zM598.0 181.0h1.8V187.3h-1.8zM600.5 181.0h1.8V187.3h-1.8zM603.5 181.0h0.9V187.3h-0.9zM605.5 181.0h3.4V187.3h-3.4zM609.7 181.0h0.9V187.3h-0.9zM611.6 181.0h1.7V187.3h-1.7zM614.0 181.0h1.1V187.3h-1.1zM615.9 181.0h4.1V187.3h-4.1zM620.4 181.0h3.7V187.3h-3.7zM624.9 181.0h1.0V187.3h-1.0zM626.6 181.0h2.8V187.3h-2.8zM635.5 181.0h0.9V187.3h-0.9zM636.7 181.0h4.1V187.3h-4.1zM641.8 181.0h1.5V187.3h-1.5zM644.3 181.0h3.0V187.3h-3.0zM648.1 181.0h3.8V187.3h-3.8zM652.4 181.0h2.1V187.3h-2.1zM655.4 181.0h4.1V187.3h-4.1zM659.8 181.0h1.2V187.3h-1.2zM661.0 181.0h1.0V187.3h-1.0zM668.0 181.0h0.8V187.3h-0.8zM673.6 181.0h1.4V187.3h-1.4zM681.6 181.0h1.8V187.3h-1.8zM717.1 181.0h0.6V187.3h-0.6zM730.2 181.0h1.8V187.3h-1.8zM742.4 181.0h1.8V187.3h-1.8zM745.5 181.0h1.2V187.3h-1.2zM749.8 181.0h1.7V187.3h-1.7zM753.1 181.0h0.6V187.3h-0.6zM766.7 181.0h0.9V187.3h-0.9zM776.5 181.0h1.0V187.3h-1.0zM780.0 181.0h1.3V187.3h-1.3zM784.4 181.0h1.2V187.3h-1.2zM799.5 181.0h1.2V187.3h-1.2zM810.7 181.0h0.9V187.3h-0.9zM816.0 181.0h2.2V187.3h-2.2zM818.9 181.0h2.5V187.3h-2.5zM822.3 181.0h3.0V187.3h-3.0zM826.4 181.0h3.6V187.3h-3.6zM830.5 181.0h3.7V187.3h-3.7zM835.3 181.0h1.5V187.3h-1.5zM838.0 181.0h1.1V187.3h-1.1zM839.9 181.0h1.3V187.3h-1.3zM841.8 181.0h3.3V187.3h-3.3zM845.6 181.0h1.6V187.3h-1.6zM848.1 181.0h1.6V187.3h-1.6zM850.3 181.0h3.2V187.3h-3.2zM854.0 181.0h1.3V187.3h-1.3zM856.3 181.0h2.3V187.3h-2.3zM859.7 181.0h3.2V187.3h-3.2zM863.9 181.0h3.0V187.3h-3.0zM867.6 181.0h4.4V187.3h-4.4zM872.8 181.0h3.2V187.3h-3.2zM876.6 181.0h1.4V187.3h-1.4z"/>
<path fill="#0a0a0a" d="M1381.0 148.8L1381.0 148.1L1381.8 148.1L1381.8 147.8L1382.7 147.8L1382.7 146.7L1383.5 146.7L1383.5 146.5L1384.3 146.5L1384.3 147.1L1385.2 147.1L1385.2 146.7L1386.0 146.7L1386.0 140.3L1386.8 140.3L1386.8 139.6L1387.5 139.6L1387.5 140.2L1388.2 140.2L1388.2 140.2L1389.0 140.2L1389.0 146.1L1389.8 146.1L1389.8 145.7L1390.5 145.7L1390.5 138.7L1391.3 138.7L1391.3 138.6L1392.1 138.6L1392.1 139.8L1393.0 139.8L1393.0 140.9L1393.8 140.9L1393.8 140.7L1394.6 140.7L1394.6 139.1L1395.4 139.1L1395.4 138.6L1396.3 138.6L1396.3 137.9L1397.1 137.9L1397.1 137.0L1397.9 137.0L1397.9 136.9L1398.7 136.9L1398.7 138.6L1399.5 138.6L1399.5 138.0L1400.4 138.0L1400.4 138.2L1401.2 138.2L1401.2 140.3L1402.0 140.3L1402.0 138.8L1402.8 138.8L1402.8 138.9L1403.6 138.9L1403.6 137.6L1404.5 137.6L1404.5 136.7L1405.3 136.7L1405.3 137.9L1406.1 137.9L1406.1 137.1L1406.9 137.1L1406.9 138.6L1407.8 138.6L1407.8 140.5L1408.6 140.5L1408.6 139.2L1409.4 139.2L1409.4 148.8zM1411.0 148.8L1411.0 133.1L1411.8 133.1L1411.8 137.2L1412.6 137.2L1412.6 136.4L1413.5 136.4L1413.5 135.8L1414.3 135.8L1414.3 136.7L1415.1 136.7L1415.1 135.6L1415.9 135.6L1415.9 135.6L1416.8 135.6L1416.8 132.8L1417.6 132.8L1417.6 136.4L1418.4 136.4L1418.4 136.1L1419.2 136.1L1419.2 131.1L1420.1 131.1L1420.1 134.5L1420.9 134.5L1420.9 134.0L1421.7 134.0L1421.7 132.3L1422.5 132.3L1422.5 132.6L1423.4 132.6L1423.4 132.1L1424.2 132.1L1424.2 134.5L1425.0 134.5L1425.0 131.0L1425.8 131.0L1425.8 132.9L1426.6 132.9L1426.6 129.9L1427.5 129.9L1427.5 132.9L1428.3 132.9L1428.3 132.9L1429.1 132.9L1429.1 130.1L1429.9 130.1L1429.9 130.7L1430.8 130.7L1430.8 132.6L1431.6 132.6L1431.6 131.3L1432.4 131.3L1432.4 129.8L1433.2 129.8L1433.2 128.1L1434.1 128.1L1434.1 128.6L1434.9 128.6L1434.9 130.7L1435.7 130.7L1435.7 127.4L1436.5 127.4L1436.5 131.7L1437.4 131.7L1437.4 127.7L1438.2 127.7L1438.2 131.5L1439.0 131.5L1439.0 148.8zM1440.5 148.8L1440.5 127.7L1441.3 127.7L1441.3 130.3L1442.2 130.3L1442.2 129.4L1443.0 129.4L1443.0 128.6L1443.8 128.6L1443.8 128.6L1444.6 128.6L1444.6 129.2L1445.5 129.2L1445.5 129.0L1446.3 129.0L1446.3 127.9L1447.1 127.9L1447.1 127.5L1447.9 127.5L1447.9 128.7L1448.8 128.7L1448.8 130.4L1449.6 130.4L1449.6 129.2L1450.4 129.2L1450.4 127.0L1451.3 127.0L1451.3 130.0L1452.1 130.0L1452.1 129.7L1452.9 129.7L1452.9 130.4L1453.7 130.4L1453.7 127.6L1454.6 127.6L1454.6 129.8L1455.4 129.8L1455.4 127.1L1456.2 127.1L1456.2 129.5L1457.1 129.5L1457.1 127.9L1457.9 127.9L1457.9 127.8L1458.7 127.8L1458.7 130.4L1459.5 130.4L1459.5 127.3L1460.4 127.3L1460.4 129.0L1461.2 129.0L1461.2 130.4L1462.0 130.4L1462.0 127.9L1462.8 127.9L1462.8 127.8L1463.7 127.8L1463.7 130.5L1464.5 130.5L1464.5 148.8zM1466.8 148.8L1466.8 128.6L1467.6 128.6L1467.6 130.1L1468.5 130.1L1468.5 126.8L1469.3 126.8L1469.3 128.5L1470.1 128.5L1470.1 127.6L1471.0 127.6L1471.0 130.2L1471.8 130.2L1471.8 127.3L1472.6 127.3L1472.6 131.7L1473.5 131.7L1473.5 127.1L1474.3 127.1L1474.3 130.7L1475.1 130.7L1475.1 127.2L1476.0 127.2L1476.0 128.4L1476.8 128.4L1476.8 131.3L1477.6 131.3L1477.6 128.1L1478.5 128.1L1478.5 128.2L1479.3 128.2L1479.3 130.8L1480.1 130.8L1480.1 129.4L1481.0 129.4L1481.0 127.7L1481.8 127.7L1481.8 132.5L1482.7 132.5L1482.7 128.4L1483.5 128.4L1483.5 127.9L1484.3 127.9L1484.3 129.5L1485.2 129.5L1485.2 130.9L1486.0 130.9L1486.0 131.6L1486.8 131.6L1486.8 128.5L1487.7 128.5L1487.7 129.7L1488.5 129.7L1488.5 128.2L1489.3 128.2L1489.3 130.3L1490.2 130.3L1490.2 132.0L1491.0 132.0L1491.0 131.9L1491.8 131.9L1491.8 132.8L1492.7 132.8L1492.7 132.1L1493.5 132.1L1493.5 132.7L1494.3 132.7L1494.3 132.0L1495.2 132.0L1495.2 130.9L1496.0 130.9L1496.0 139.5L1496.8 139.5L1496.8 140.5L1497.6 140.5L1497.6 140.0L1498.3 140.0L1498.3 139.8L1499.1 139.8L1499.1 140.7L1499.9 140.7L1499.9 141.7L1500.7 141.7L1500.7 148.8zM1503.0 148.8L1503.0 147.3L1503.8 147.3L1503.8 147.6L1504.5 147.6L1504.5 147.4L1505.2 147.4L1505.2 147.5L1506.0 147.5L1506.0 148.8zM1508.0 148.8L1508.0 147.3L1508.8 147.3L1508.8 147.8L1509.5 147.8L1509.5 147.4L1510.2 147.4L1510.2 147.6L1511.0 147.6L1511.0 148.8zM1513.0 148.8L1513.0 143.8L1513.8 143.8L1513.8 142.9L1514.6 142.9L1514.6 143.9L1515.4 143.9L1515.4 142.9L1516.2 142.9L1516.2 142.7L1517.0 142.7L1517.0 142.5L1517.8 142.5L1517.8 142.7L1518.6 142.7L1518.6 142.4L1519.4 142.4L1519.4 143.4L1520.2 143.4L1520.2 143.0L1521.0 143.0L1521.0 136.9L1521.8 136.9L1521.8 136.7L1522.7 136.7L1522.7 137.2L1523.5 137.2L1523.5 132.7L1524.3 132.7L1524.3 134.1L1525.2 134.1L1525.2 133.0L1526.0 133.0L1526.0 135.2L1526.8 135.2L1526.8 135.5L1527.7 135.5L1527.7 136.6L1528.5 136.6L1528.5 136.2L1529.3 136.2L1529.3 133.6L1530.2 133.6L1530.2 134.7L1531.0 134.7L1531.0 135.4L1531.8 135.4L1531.8 132.4L1532.7 132.4L1532.7 132.7L1533.5 132.7L1533.5 135.0L1534.3 135.0L1534.3 133.3L1535.2 133.3L1535.2 137.1L1536.0 137.1L1536.0 134.3L1536.8 134.3L1536.8 133.6L1537.7 133.6L1537.7 134.2L1538.5 134.2L1538.5 134.6L1539.3 134.6L1539.3 134.6L1540.2 134.6L1540.2 136.5L1541.0 136.5L1541.0 136.3L1541.8 136.3L1541.8 135.4L1542.7 135.4L1542.7 137.5L1543.5 137.5L1543.5 135.1L1544.3 135.1L1544.3 139.3L1545.2 139.3L1545.2 139.8L1546.0 139.8L1546.0 146.8L1546.8 146.8L1546.8 146.5L1547.7 146.5L1547.7 146.6L1548.5 146.6L1548.5 146.7L1549.4 146.7L1549.4 146.1L1550.2 146.1L1550.2 146.6L1551.1 146.6L1551.1 146.8L1551.9 146.8L1551.9 146.4L1552.8 146.4L1552.8 146.3L1553.6 146.3L1553.6 147.2L1554.5 147.2L1554.5 146.7L1555.3 146.7L1555.3 147.0L1556.2 147.0L1556.2 147.5L1557.0 147.5L1557.0 147.2L1557.8 147.2L1557.8 146.8L1558.7 146.8L1558.7 147.7L1559.5 147.7L1559.5 147.0L1560.4 147.0L1560.4 146.6L1561.2 146.6L1561.2 147.4L1562.1 147.4L1562.1 146.8L1562.9 146.8L1562.9 147.1L1563.8 147.1L1563.8 147.7L1564.6 147.7L1564.6 147.6L1565.5 147.6L1565.5 146.8L1566.3 146.8L1566.3 147.4L1567.2 147.4L1567.2 147.4L1568.0 147.4L1568.0 148.8z"/>
<rect x="1126.8" y="154.1" width="64.2" height="6.4" fill="#7134c4"/>
<rect x="1137.0" y="154.1" width="28.0" height="6.4" fill="#d9348a"/>
<rect x="1032.0" y="179.3" width="90.0" height="8.3" fill="#78ecec" opacity="0.45"/>
<rect x="1209.0" y="179.3" width="29.0" height="8.3" fill="#78ecec" opacity="0.45"/>
<rect x="1257.0" y="179.3" width="375.0" height="8.3" fill="#78ecec" opacity="0.45"/>
<path fill="#1ec4bf" d="M1032.0 180.3h4.3V186.6h-4.3zM1036.7 180.3h4.5V186.6h-4.5zM1041.6 180.3h3.2V186.6h-3.2zM1052.1 180.3h4.2V186.6h-4.2zM1056.6 180.3h4.1V186.6h-4.1zM1061.3 180.3h1.5V186.6h-1.5zM1063.6 180.3h4.3V186.6h-4.3zM1069.0 180.3h2.9V186.6h-2.9zM1079.7 180.3h1.3V186.6h-1.3zM1081.9 180.3h1.5V186.6h-1.5zM1085.9 180.3h2.7V186.6h-2.7zM1089.5 180.3h4.2V186.6h-4.2zM1094.3 180.3h3.0V186.6h-3.0zM1098.1 180.3h2.8V186.6h-2.8zM1101.8 180.3h2.8V186.6h-2.8zM1105.8 180.3h2.1V186.6h-2.1zM1113.5 180.3h2.3V186.6h-2.3zM1116.9 180.3h1.4V186.6h-1.4zM1119.0 180.3h2.0V186.6h-2.0zM1121.5 180.3h0.5V186.6h-0.5zM1127.0 180.3h1.5V186.6h-1.5zM1132.3 180.3h0.7V186.6h-0.7zM1137.3 180.3h1.9V186.6h-1.9zM1166.0 180.3h1.9V186.6h-1.9zM1170.9 180.3h1.5V186.6h-1.5zM1174.1 180.3h1.6V186.6h-1.6zM1180.8 180.3h0.8V186.6h-0.8zM1187.0 180.3h1.8V186.6h-1.8zM1190.9 180.3h0.7V186.6h-0.7zM1199.3 180.3h1.8V186.6h-1.8zM1203.5 180.3h1.5V186.6h-1.5zM1209.0 180.3h2.6V186.6h-2.6zM1212.6 180.3h3.5V186.6h-3.5zM1216.6 180.3h1.7V186.6h-1.7zM1218.6 180.3h3.3V186.6h-3.3zM1222.9 180.3h3.2V186.6h-3.2zM1226.9 180.3h3.0V186.6h-3.0zM1230.7 180.3h0.9V186.6h-0.9zM1236.1 180.3h1.7V186.6h-1.7zM1257.0 180.3h2.1V186.6h-2.1zM1260.1 180.3h0.8V186.6h-0.8zM1261.8 180.3h1.4V186.6h-1.4zM1264.4 180.3h2.8V186.6h-2.8zM1268.3 180.3h2.7V186.6h-2.7zM1271.5 180.3h1.4V186.6h-1.4zM1273.7 180.3h3.4V186.6h-3.4zM1278.2 180.3h1.5V186.6h-1.5zM1280.8 180.3h3.6V186.6h-3.6zM1285.3 180.3h1.5V186.6h-1.5zM1287.2 180.3h2.2V186.6h-2.2zM1290.2 180.3h4.4V186.6h-4.4zM1295.3 180.3h4.0V186.6h-4.0zM1300.1 180.3h3.6V186.6h-3.6zM1304.9 180.3h3.3V186.6h-3.3zM1309.3 180.3h1.2V186.6h-1.2zM1314.7 180.3h2.3V186.6h-2.3zM1325.7 180.3h3.2V186.6h-3.2zM1329.5 180.3h1.7V186.6h-1.7zM1332.3 180.3h1.9V186.6h-1.9zM1334.8 180.3h1.2V186.6h-1.2zM1336.5 180.3h1.4V186.6h-1.4zM1338.7 180.3h2.1V186.6h-2.1zM1341.3 180.3h2.8V186.6h-2.8zM1345.3 180.3h2.2V186.6h-2.2zM1348.7 180.3h2.7V186.6h-2.7zM1351.8 180.3h1.7V186.6h-1.7zM1355.9 180.3h1.2V186.6h-1.2zM1358.1 180.3h2.7V186.6h-2.7zM1364.4 180.3h2.5V186.6h-2.5zM1367.3 180.3h3.3V186.6h-3.3zM1371.5 180.3h2.1V186.6h-2.1zM1374.0 180.3h1.1V186.6h-1.1zM1375.8 180.3h3.7V186.6h-3.7zM1380.2 180.3h3.2V186.6h-3.2zM1383.7 180.3h4.2V186.6h-4.2zM1388.4 180.3h1.7V186.6h-1.7zM1391.3 180.3h2.0V186.6h-2.0zM1394.1 180.3h1.4V186.6h-1.4zM1396.7 180.3h2.9V186.6h-2.9zM1400.1 180.3h4.0V186.6h-4.0zM1404.6 180.3h2.8V186.6h-2.8zM1408.2 180.3h3.0V186.6h-3.0zM1412.0 180.3h2.1V186.6h-2.1zM1414.7 180.3h4.4V186.6h-4.4zM1419.7 180.3h2.3V186.6h-2.3zM1423.0 180.3h1.0V186.6h-1.0zM1424.5 180.3h3.7V186.6h-3.7zM1429.1 180.3h3.4V186.6h-3.4zM1433.0 180.3h2.2V186.6h-2.2zM1435.7 180.3h0.8V186.6h-0.8zM1439.7 180.3h1.4V186.6h-1.4zM1441.7 180.3h2.6V186.6h-2.6zM1444.7 180.3h2.7V186.6h-2.7zM1448.0 180.3h2.5V186.6h-2.5zM1451.3 180.3h1.6V186.6h-1.6zM1454.0 180.3h1.0V186.6h-1.0zM1455.4 180.3h3.9V186.6h-3.9zM1460.4 180.3h3.1V186.6h-3.1zM1464.2 180.3h3.5V186.6h-3.5zM1468.7 180.3h2.3V186.6h-2.3zM1471.6 180.3h2.9V186.6h-2.9zM1475.6 180.3h4.2V186.6h-4.2zM1480.9 180.3h3.4V186.6h-3.4zM1489.8 180.3h2.2V186.6h-2.2zM1492.8 180.3h4.0V186.6h-4.0zM1497.4 180.3h3.1V186.6h-3.1zM1500.9 180.3h1.8V186.6h-1.8zM1503.1 180.3h3.8V186.6h-3.8zM1507.9 180.3h2.5V186.6h-2.5zM1510.7 180.3h1.2V186.6h-1.2zM1512.9 180.3h3.7V186.6h-3.7zM1517.3 180.3h3.3V186.6h-3.3zM1521.1 180.3h1.1V186.6h-1.1zM1522.7 180.3h1.5V186.6h-1.5zM1524.6 180.3h4.1V186.6h-4.1zM1529.8 180.3h3.5V186.6h-3.5zM1534.5 180.3h3.8V186.6h-3.8zM1539.4 180.3h2.6V186.6h-2.6zM1542.4 180.3h1.9V186.6h-1.9zM1545.4 180.3h1.2V186.6h-1.2zM1547.0 180.3h1.6V186.6h-1.6zM1549.3 180.3h1.4V186.6h-1.4zM1551.2 180.3h4.1V186.6h-4.1zM1556.0 180.3h3.6V186.6h-3.6zM1560.1 180.3h1.3V186.6h-1.3zM1561.9 180.3h3.5V186.6h-3.5zM1566.4 180.3h1.8V186.6h-1.8zM1571.5 180.3h1.6V186.6h-1.6zM1578.5 180.3h1.0V186.6h-1.0zM1580.3 180.3h1.2V186.6h-1.2zM1582.5 180.3h0.8V186.6h-0.8zM1584.2 180.3h3.7V186.6h-3.7zM1588.6 180.3h2.7V186.6h-2.7zM1592.1 180.3h1.7V186.6h-1.7zM1594.1 180.3h1.4V186.6h-1.4zM1596.3 180.3h1.7V186.6h-1.7zM1598.7 180.3h1.7V186.6h-1.7zM1601.2 180.3h3.3V186.6h-3.3zM1605.3 180.3h2.9V186.6h-2.9zM1608.8 180.3h3.8V186.6h-3.8zM1613.0 180.3h2.4V186.6h-2.4zM1615.7 180.3h1.2V186.6h-1.2zM1618.0 180.3h2.2V186.6h-2.2zM1621.2 180.3h1.1V186.6h-1.1zM1623.2 180.3h3.9V186.6h-3.9zM1627.8 180.3h1.8V186.6h-1.8zM1630.0 180.3h1.8V186.6h-1.8z"/>
<path fill="#0a0a0a" d="M269.6 858.5L269.6 857.2L270.4 857.2L270.4 857.6L271.3 857.6L271.3 857.3L272.1 857.3L272.1 857.6L272.9 857.6L272.9 857.7L273.8 857.7L273.8 857.0L274.6 857.0L274.6 856.9L275.4 856.9L275.4 857.9L276.3 857.9L276.3 857.2L277.1 857.2L277.1 857.2L277.9 857.2L277.9 858.1L278.8 858.1L278.8 857.5L279.6 857.5L279.6 857.9L280.4 857.9L280.4 857.5L281.3 857.5L281.3 857.7L282.1 857.7L282.1 857.1L282.9 857.1L282.9 857.7L283.8 857.7L283.8 857.9L284.6 857.9L284.6 857.5L285.4 857.5L285.4 857.8L286.3 857.8L286.3 857.7L287.1 857.7L287.1 857.0L287.9 857.0L287.9 857.8L288.8 857.8L288.8 857.6L289.6 857.6L289.6 857.3L290.4 857.3L290.4 856.9L291.3 856.9L291.3 857.9L292.1 857.9L292.1 857.5L293.0 857.5L293.0 857.8L293.8 857.8L293.8 858.0L294.6 858.0L294.6 857.8L295.5 857.8L295.5 858.0L296.3 858.0L296.3 857.4L297.1 857.4L297.1 857.9L298.0 857.9L298.0 857.4L298.8 857.4L298.8 858.0L299.6 858.0L299.6 858.0L300.5 858.0L300.5 857.0L301.3 857.0L301.3 857.1L302.1 857.1L302.1 857.2L303.0 857.2L303.0 858.1L303.8 858.1L303.8 857.4L304.6 857.4L304.6 857.7L305.5 857.7L305.5 857.3L306.3 857.3L306.3 857.5L307.1 857.5L307.1 857.4L308.0 857.4L308.0 857.3L308.8 857.3L308.8 857.6L309.6 857.6L309.6 857.6L310.5 857.6L310.5 858.0L311.3 858.0L311.3 857.7L312.1 857.7L312.1 858.0L313.0 858.0L313.0 857.9L313.8 857.9L313.8 858.1L314.6 858.1L314.6 857.7L315.5 857.7L315.5 857.1L316.3 857.1L316.3 857.9L317.1 857.9L317.1 858.1L318.0 858.1L318.0 858.0L318.8 858.0L318.8 857.6L319.6 857.6L319.6 857.8L320.5 857.8L320.5 857.2L321.3 857.2L321.3 857.9L322.1 857.9L322.1 857.6L323.0 857.6L323.0 857.2L323.8 857.2L323.8 857.0L324.6 857.0L324.6 857.9L325.5 857.9L325.5 858.1L326.3 858.1L326.3 857.0L327.1 857.0L327.1 857.9L328.0 857.9L328.0 857.4L328.8 857.4L328.8 857.1L329.6 857.1L329.6 857.3L330.5 857.3L330.5 857.8L331.3 857.8L331.3 857.9L332.1 857.9L332.1 857.0L333.0 857.0L333.0 857.6L333.8 857.6L333.8 857.0L334.7 857.0L334.7 857.8L335.5 857.8L335.5 857.3L336.3 857.3L336.3 858.0L337.2 858.0L337.2 858.1L338.0 858.1L338.0 857.5L338.8 857.5L338.8 858.1L339.7 858.1L339.7 857.3L340.5 857.3L340.5 857.0L341.3 857.0L341.3 857.6L342.2 857.6L342.2 856.9L343.0 856.9L343.0 857.1L343.8 857.1L343.8 857.4L344.7 857.4L344.7 857.6L345.5 857.6L345.5 857.1L346.3 857.1L346.3 857.0L347.2 857.0L347.2 857.9L348.0 857.9L348.0 857.3L348.8 857.3L348.8 858.1L349.7 858.1L349.7 858.0L350.5 858.0L350.5 857.4L351.3 857.4L351.3 857.5L352.2 857.5L352.2 857.5L353.0 857.5L353.0 857.7L353.8 857.7L353.8 857.6L354.7 857.6L354.7 857.6L355.5 857.6L355.5 857.6L356.3 857.6L356.3 858.0L357.2 858.0L357.2 857.5L358.0 857.5L358.0 857.4L358.8 857.4L358.8 857.8L359.7 857.8L359.7 857.2L360.5 857.2L360.5 857.3L361.3 857.3L361.3 858.1L362.2 858.1L362.2 857.5L363.0 857.5L363.0 857.6L363.8 857.6L363.8 856.9L364.7 856.9L364.7 857.4L365.5 857.4L365.5 857.6L366.3 857.6L366.3 856.9L367.2 856.9L367.2 857.6L368.0 857.6L368.0 857.7L368.8 857.7L368.8 857.0L369.7 857.0L369.7 857.7L370.5 857.7L370.5 857.5L371.3 857.5L371.3 857.7L372.2 857.7L372.2 857.3L373.0 857.3L373.0 857.7L373.8 857.7L373.8 857.8L374.7 857.8L374.7 856.9L375.5 856.9L375.5 857.0L376.4 857.0L376.4 857.7L377.2 857.7L377.2 858.1L378.0 858.1L378.0 857.2L378.9 857.2L378.9 857.4L379.7 857.4L379.7 857.6L380.5 857.6L380.5 857.3L381.4 857.3L381.4 857.3L382.2 857.3L382.2 857.3L383.0 857.3L383.0 857.3L383.9 857.3L383.9 857.6L384.7 857.6L384.7 857.3L385.5 857.3L385.5 857.4L386.4 857.4L386.4 857.8L387.2 857.8L387.2 856.9L388.0 856.9L388.0 857.6L388.9 857.6L388.9 857.8L389.7 857.8L389.7 857.3L390.5 857.3L390.5 857.2L391.4 857.2L391.4 857.9L392.2 857.9L392.2 857.2L393.0 857.2L393.0 857.1L393.9 857.1L393.9 857.4L394.7 857.4L394.7 857.7L395.5 857.7L395.5 857.0L396.4 857.0L396.4 857.3L397.2 857.3L397.2 857.3L398.0 857.3L398.0 857.9L398.9 857.9L398.9 857.4L399.7 857.4L399.7 857.9L400.5 857.9L400.5 857.1L401.4 857.1L401.4 857.3L402.2 857.3L402.2 857.7L403.0 857.7L403.0 858.0L403.9 858.0L403.9 857.4L404.7 857.4L404.7 857.2L405.5 857.2L405.5 857.0L406.4 857.0L406.4 857.5L407.2 857.5L407.2 857.1L408.0 857.1L408.0 857.9L408.9 857.9L408.9 857.9L409.7 857.9L409.7 857.1L410.5 857.1L410.5 857.2L411.4 857.2L411.4 857.9L412.2 857.9L412.2 857.7L413.0 857.7L413.0 857.9L413.9 857.9L413.9 857.3L414.7 857.3L414.7 857.1L415.5 857.1L415.5 857.3L416.4 857.3L416.4 857.9L417.2 857.9L417.2 857.2L418.1 857.2L418.1 857.3L418.9 857.3L418.9 857.4L419.7 857.4L419.7 857.4L420.6 857.4L420.6 857.4L421.4 857.4L421.4 858.0L422.2 858.0L422.2 857.1L423.1 857.1L423.1 856.9L423.9 856.9L423.9 858.0L424.7 858.0L424.7 858.0L425.6 858.0L425.6 858.1L426.4 858.1L426.4 857.4L427.2 857.4L427.2 858.0L428.1 858.0L428.1 858.0L428.9 858.0L428.9 857.2L429.7 857.2L429.7 857.8L430.6 857.8L430.6 857.9L431.4 857.9L431.4 857.7L432.2 857.7L432.2 857.5L433.1 857.5L433.1 857.2L433.9 857.2L433.9 857.3L434.7 857.3L434.7 857.2L435.6 857.2L435.6 857.0L436.4 857.0L436.4 857.6L437.2 857.6L437.2 857.2L438.1 857.2L438.1 857.9L438.9 857.9L438.9 857.0L439.7 857.0L439.7 858.0L440.6 858.0L440.6 857.7L441.4 857.7L441.4 858.0L442.2 858.0L442.2 858.0L443.1 858.0L443.1 858.0L443.9 858.0L443.9 857.6L444.7 857.6L444.7 856.9L445.6 856.9L445.6 857.8L446.4 857.8L446.4 857.1L447.2 857.1L447.2 857.3L448.1 857.3L448.1 857.7L448.9 857.7L448.9 857.5L449.7 857.5L449.7 857.4L450.6 857.4L450.6 858.0L451.4 858.0L451.4 857.6L452.2 857.6L452.2 857.3L453.1 857.3L453.1 857.2L453.9 857.2L453.9 857.9L454.7 857.9L454.7 857.5L455.6 857.5L455.6 857.8L456.4 857.8L456.4 857.3L457.2 857.3L457.2 857.1L458.1 857.1L458.1 857.5L458.9 857.5L458.9 857.9L459.8 857.9L459.8 857.1L460.6 857.1L460.6 857.9L461.4 857.9L461.4 858.0L462.3 858.0L462.3 857.9L463.1 857.9L463.1 857.9L463.9 857.9L463.9 856.9L464.8 856.9L464.8 857.7L465.6 857.7L465.6 857.9L466.4 857.9L466.4 857.0L467.3 857.0L467.3 857.2L468.1 857.2L468.1 857.2L468.9 857.2L468.9 857.5L469.8 857.5L469.8 857.4L470.6 857.4L470.6 857.5L471.4 857.5L471.4 857.8L472.3 857.8L472.3 856.9L473.1 856.9L473.1 857.0L473.9 857.0L473.9 857.1L474.8 857.1L474.8 857.0L475.6 857.0L475.6 857.0L476.4 857.0L476.4 858.1L477.3 858.1L477.3 857.9L478.1 857.9L478.1 857.0L478.9 857.0L478.9 857.5L479.8 857.5L479.8 857.3L480.6 857.3L480.6 857.3L481.4 857.3L481.4 857.3L482.3 857.3L482.3 857.7L483.1 857.7L483.1 857.6L483.9 857.6L483.9 857.3L484.8 857.3L484.8 857.1L485.6 857.1L485.6 857.3L486.4 857.3L486.4 857.0L487.3 857.0L487.3 857.6L488.1 857.6L488.1 857.8L488.9 857.8L488.9 857.4L489.8 857.4L489.8 857.0L490.6 857.0L490.6 857.1L491.4 857.1L491.4 857.3L492.3 857.3L492.3 857.6L493.1 857.6L493.1 857.8L493.9 857.8L493.9 857.4L494.8 857.4L494.8 857.9L495.6 857.9L495.6 857.6L496.4 857.6L496.4 857.4L497.3 857.4L497.3 857.3L498.1 857.3L498.1 857.5L498.9 857.5L498.9 857.7L499.8 857.7L499.8 857.4L500.6 857.4L500.6 857.7L501.5 857.7L501.5 857.5L502.3 857.5L502.3 857.2L503.1 857.2L503.1 857.5L504.0 857.5L504.0 857.7L504.8 857.7L504.8 857.0L505.6 857.0L505.6 857.4L506.5 857.4L506.5 857.4L507.3 857.4L507.3 858.0L508.1 858.0L508.1 858.0L509.0 858.0L509.0 857.3L509.8 857.3L509.8 858.0L510.6 858.0L510.6 857.8L511.5 857.8L511.5 857.2L512.3 857.2L512.3 857.5L513.1 857.5L513.1 857.0L514.0 857.0L514.0 857.9L514.8 857.9L514.8 857.7L515.6 857.7L515.6 858.0L516.5 858.0L516.5 857.9L517.3 857.9L517.3 857.7L518.1 857.7L518.1 857.8L519.0 857.8L519.0 857.6L519.8 857.6L519.8 857.0L520.6 857.0L520.6 857.6L521.5 857.6L521.5 856.9L522.3 856.9L522.3 857.1L523.1 857.1L523.1 857.8L524.0 857.8L524.0 857.0L524.8 857.0L524.8 857.0L525.6 857.0L525.6 857.0L526.5 857.0L526.5 858.0L527.3 858.0L527.3 857.1L528.1 857.1L528.1 856.9L529.0 856.9L529.0 857.9L529.8 857.9L529.8 857.0L530.6 857.0L530.6 857.9L531.5 857.9L531.5 857.7L532.3 857.7L532.3 857.9L533.1 857.9L533.1 858.0L534.0 858.0L534.0 857.6L534.8 857.6L534.8 857.9L535.6 857.9L535.6 856.9L536.5 856.9L536.5 857.8L537.3 857.8L537.3 857.5L538.1 857.5L538.1 857.8L539.0 857.8L539.0 857.0L539.8 857.0L539.8 857.8L540.6 857.8L540.6 858.0L541.5 858.0L541.5 857.0L542.3 857.0L542.3 857.3L543.2 857.3L543.2 857.6L544.0 857.6L544.0 857.9L544.8 857.9L544.8 857.2L545.7 857.2L545.7 857.1L546.5 857.1L546.5 857.2L547.3 857.2L547.3 857.6L548.2 857.6L548.2 857.8L549.0 857.8L549.0 857.4L549.8 857.4L549.8 857.3L550.7 857.3L550.7 857.4L551.5 857.4L551.5 857.3L552.3 857.3L552.3 857.4L553.2 857.4L553.2 857.0L554.0 857.0L554.0 857.5L554.8 857.5L554.8 858.1L555.7 858.1L555.7 857.4L556.5 857.4L556.5 857.8L557.3 857.8L557.3 857.1L558.2 857.1L558.2 857.7L559.0 857.7L559.0 857.8L559.8 857.8L559.8 857.7L560.7 857.7L560.7 857.5L561.5 857.5L561.5 857.5L562.3 857.5L562.3 857.7L563.2 857.7L563.2 858.0L564.0 858.0L564.0 858.5zM564.4 858.5L564.4 855.3L565.2 855.3L565.2 855.3L566.0 855.3L566.0 855.9L566.8 855.9L566.8 856.1L567.6 856.1L567.5 855.7L568.3 855.7L568.3 855.6L569.1 855.6L569.1 855.9L569.9 855.9L569.9 855.4L570.7 855.4L570.7 858.5zM574.6 858.5L574.6 848.6L575.5 848.6L575.5 847.4L576.3 847.4L576.3 848.8L577.2 848.8L577.2 846.4L578.0 846.4L578.0 845.1L578.9 845.1L578.9 847.0L579.7 847.0L579.7 847.7L580.6 847.7L580.6 842.9L581.4 842.9L581.4 844.6L582.3 844.6L582.3 842.0L583.1 842.0L583.1 843.8L584.0 843.8L584.0 841.3L584.8 841.3L584.8 838.6L585.7 838.6L585.7 858.5zM605.3 858.5L605.3 838.6L606.1 838.6L606.1 837.7L606.9 837.7L606.9 840.1L607.7 840.1L607.7 839.8L608.5 839.8L608.5 838.9L609.2 838.9L609.2 839.9L610.0 839.9L610.0 839.9L610.8 839.9L610.8 842.2L611.6 842.2L611.6 839.2L612.4 839.2L612.4 858.5zM615.6 858.5L615.6 844.0L616.4 844.0L616.4 841.9L617.2 841.9L617.2 842.4L618.0 842.4L618.0 858.5zM619.0 858.5L619.0 839.8L619.8 839.8L619.8 842.2L620.7 842.2L620.7 842.3L621.5 842.3L621.5 840.9L622.4 840.9L622.4 840.7L623.2 840.7L623.2 842.3L624.0 842.3L624.0 843.3L624.9 843.3L624.9 840.8L625.7 840.8L625.7 843.0L626.5 843.0L626.5 844.6L627.4 844.6L627.4 841.8L628.2 841.8L628.2 840.6L629.1 840.6L629.1 840.8L629.9 840.8L629.9 843.9L630.7 843.9L630.7 843.9L631.6 843.9L631.6 845.8L632.4 845.8L632.4 845.3L633.3 845.3L633.3 841.9L634.1 841.9L634.1 841.7L634.9 841.7L634.9 842.4L635.8 842.4L635.8 842.1L636.6 842.1L636.6 845.4L637.4 845.4L637.4 846.6L638.3 846.6L638.3 847.0L639.1 847.0L639.1 843.3L640.0 843.3L640.0 847.2L640.8 847.2L640.8 858.5zM644.7 858.5L644.7 850.9L645.5 850.9L645.5 851.0L646.4 851.0L646.4 852.4L647.2 852.4L647.2 848.0L648.1 848.0L648.1 847.6L648.9 847.6L648.9 851.5L649.7 851.5L649.7 847.8L650.6 847.8L650.6 847.6L651.4 847.6L651.4 848.5L652.3 848.5L652.3 848.6L653.1 848.6L653.1 844.0L653.9 844.0L653.9 845.5L654.8 845.5L654.8 845.6L655.6 845.6L655.6 845.4L656.5 845.4L656.5 843.3L657.3 843.3L657.3 858.5zM660.0 858.5L660.0 857.6L660.8 857.6L660.8 858.0L661.7 858.0L661.7 857.4L662.5 857.4L662.5 857.5L663.3 857.5L663.3 857.1L664.2 857.1L664.2 857.3L665.0 857.3L665.0 857.7L665.8 857.7L665.8 857.1L666.7 857.1L666.7 857.9L667.5 857.9L667.5 857.9L668.3 857.9L668.3 857.1L669.2 857.1L669.2 857.9L670.0 857.9L670.0 857.4L670.8 857.4L670.8 857.8L671.7 857.8L671.7 857.8L672.5 857.8L672.5 857.3L673.3 857.3L673.3 857.7L674.2 857.7L674.2 857.7L675.0 857.7L675.0 858.5zM675.4 858.5L675.4 854.4L676.2 854.4L676.2 849.6L677.1 849.6L677.1 853.1L677.9 853.1L677.9 854.3L678.8 854.3L678.8 851.5L679.6 851.5L679.6 849.9L680.5 849.9L680.5 846.0L681.3 846.0L681.3 848.6L682.2 848.6L682.2 847.0L683.0 847.0L683.0 849.4L683.9 849.4L683.9 848.6L684.7 848.6L684.7 847.3L685.6 847.3L685.6 843.7L686.4 843.7L686.4 846.9L687.2 846.9L687.2 846.3L688.1 846.3L688.1 842.2L688.9 842.2L688.9 847.4L689.8 847.4L689.8 845.1L690.6 845.1L690.6 840.3L691.5 840.3L691.5 846.3L692.3 846.3L692.3 839.5L693.2 839.5L693.2 840.6L694.0 840.6L694.0 843.2L694.9 843.2L694.9 841.7L695.7 841.7L695.7 840.9L696.6 840.9L696.6 841.2L697.4 841.2L697.4 858.5zM699.0 858.5L699.0 857.6L699.8 857.6L699.8 857.5L700.6 857.5L700.6 857.4L701.5 857.4L701.5 857.3L702.3 857.3L702.3 857.7L703.1 857.7L703.1 857.8L703.9 857.8L703.9 857.6L704.8 857.6L704.8 857.7L705.6 857.7L705.6 857.5L706.4 857.5L706.4 857.5L707.2 857.5L707.2 857.5L708.1 857.5L708.1 857.8L708.9 857.8L708.9 857.3L709.7 857.3L709.7 857.6L710.5 857.6L710.5 857.4L711.4 857.4L711.4 857.8L712.2 857.8L712.2 857.5L713.0 857.5L713.2 838.7L714.0 838.7L714.0 839.3L714.9 839.3L714.9 840.5L715.7 840.5L715.7 842.4L716.6 842.4L716.6 839.1L717.4 839.1L717.4 843.2L718.3 843.2L718.3 837.4L719.1 837.4L719.1 838.7L720.0 838.7L720.0 837.4L720.8 837.4L720.8 837.6L721.7 837.6L721.7 843.0L722.5 843.0L722.5 842.7L723.4 842.7L723.4 838.4L724.2 838.4L724.2 838.6L725.0 838.6L725.0 840.5L725.9 840.5L725.9 843.1L726.7 843.1L726.7 843.8L727.6 843.8L727.6 843.3L728.4 843.3L728.4 842.2L729.3 842.2L729.3 838.7L730.1 838.7L730.1 840.8L731.0 840.8L731.0 839.2L731.8 839.2L731.8 842.0L732.7 842.0L732.7 842.4L733.5 842.4L733.5 839.5L734.4 839.5L734.4 840.0L735.2 840.0L735.2 858.5zM736.8 858.5L736.8 844.7L737.6 844.7L737.6 840.5L738.4 840.5L738.4 845.4L739.3 845.4L739.3 846.2L740.1 846.2L740.1 846.9L740.9 846.9L740.9 843.8L741.7 843.8L741.7 845.1L742.6 845.1L742.6 845.6L743.4 845.6L743.4 846.2L744.2 846.2L744.2 848.6L745.0 848.6L745.0 847.1L745.9 847.1L745.9 845.1L746.7 845.1L746.7 848.8L747.5 848.8L747.5 846.8L748.3 846.8L748.3 847.8L749.2 847.8L749.2 848.9L750.0 848.9L750.0 844.8L750.8 844.8L750.8 849.7L751.6 849.7L751.6 849.4L752.5 849.4L752.5 848.7L753.3 848.7L753.3 849.1L754.1 849.1L754.1 858.5zM754.5 858.5L754.5 856.5L755.4 856.5L755.4 856.2L756.3 856.2L756.3 856.5L757.2 856.5L757.2 856.0L758.1 856.0L758.1 856.5L759.0 856.5L759.0 858.5zM760.0 858.5L760.0 857.9L760.8 857.9L760.8 857.8L761.7 857.8L761.7 857.8L762.5 857.8L762.5 858.1L763.3 858.1L763.3 858.0L764.2 858.0L764.2 857.6L765.0 857.6L765.0 858.0L765.8 858.0L765.8 857.9L766.7 857.9L766.7 857.5L767.5 857.5L767.5 857.7L768.3 857.7L768.3 857.6L769.2 857.6L769.2 857.5L770.0 857.5L770.0 857.8L770.9 857.8L770.9 858.1L771.7 858.1L771.7 857.7L772.5 857.7L772.5 858.0L773.4 858.0L773.4 857.9L774.2 857.9L774.2 857.6L775.0 857.6L775.0 858.0L775.9 858.0L775.9 857.9L776.7 857.9L776.7 858.1L777.5 858.1L777.5 857.9L778.4 857.9L778.4 857.9L779.2 857.9L779.2 857.7L780.0 857.7L780.0 858.0L780.9 858.0L780.9 858.1L781.7 858.1L781.7 858.0L782.5 858.0L782.5 857.8L783.4 857.8L783.4 858.0L784.2 858.0L784.2 857.8L785.0 857.8L785.0 857.6L785.9 857.6L785.9 857.5L786.7 857.5L786.7 857.5L787.5 857.5L787.5 857.6L788.4 857.6L788.4 857.6L789.2 857.6L789.2 857.8L790.0 857.8L790.0 857.9L790.9 857.9L790.9 857.8L791.7 857.8L791.7 857.8L792.6 857.8L792.6 857.9L793.4 857.9L793.4 857.7L794.2 857.7L794.2 857.8L795.1 857.8L795.1 858.0L795.9 858.0L795.9 857.7L796.7 857.7L796.7 857.6L797.6 857.6L797.6 858.0L798.4 858.0L798.4 857.9L799.2 857.9L799.2 857.7L800.1 857.7L800.1 857.7L800.9 857.7L800.9 857.8L801.7 857.8L801.7 857.9L802.6 857.9L802.6 857.6L803.4 857.6L803.4 857.5L804.2 857.5L804.2 857.6L805.1 857.6L805.1 858.0L805.9 858.0L805.9 857.6L806.7 857.6L806.7 857.8L807.6 857.8L807.6 857.6L808.4 857.6L808.4 857.6L809.2 857.6L809.2 857.6L810.1 857.6L810.1 857.7L810.9 857.7L810.9 857.6L811.7 857.6L811.7 857.5L812.6 857.5L812.6 857.6L813.4 857.6L813.4 857.6L814.3 857.6L814.3 857.8L815.1 857.8L815.1 857.5L815.9 857.5L815.9 857.5L816.8 857.5L816.8 857.8L817.6 857.8L817.6 857.7L818.4 857.7L818.4 857.9L819.3 857.9L819.3 857.5L820.1 857.5L820.1 857.7L820.9 857.7L820.9 857.7L821.8 857.7L821.8 857.5L822.6 857.5L822.6 858.1L823.4 858.1L823.4 857.6L824.3 857.6L824.3 857.6L825.1 857.6L825.1 857.8L825.9 857.8L825.9 857.6L826.8 857.6L826.8 857.9L827.6 857.9L827.6 857.7L828.4 857.7L828.4 857.6L829.3 857.6L829.3 857.5L830.1 857.5L830.1 857.9L830.9 857.9L830.9 857.7L831.8 857.7L831.8 858.0L832.6 858.0L832.6 857.8L833.4 857.8L833.4 858.1L834.3 858.1L834.3 857.7L835.1 857.7L835.1 857.6L836.0 857.6L836.0 857.7L836.8 857.7L836.8 858.0L837.6 858.0L837.6 857.9L838.5 857.9L838.5 857.7L839.3 857.7L839.3 857.6L840.1 857.6L840.1 857.9L841.0 857.9L841.0 858.1L841.8 858.1L841.8 857.9L842.6 857.9L842.6 857.5L843.5 857.5L843.5 857.5L844.3 857.5L844.3 857.6L845.1 857.6L845.1 857.6L846.0 857.6L846.0 857.5L846.8 857.5L846.8 857.5L847.6 857.5L847.6 857.9L848.5 857.9L848.5 858.0L849.3 858.0L849.3 857.6L850.1 857.6L850.1 858.1L851.0 858.1L851.0 857.8L851.8 857.8L851.8 858.0L852.6 858.0L852.6 858.1L853.5 858.1L853.5 858.1L854.3 858.1L854.3 857.5L855.1 857.5L855.1 857.7L856.0 857.7L856.0 857.9L856.8 857.9L856.8 858.1L857.7 858.1L857.7 857.6L858.5 857.6L858.5 857.7L859.3 857.7L859.3 858.0L860.2 858.0L860.2 857.6L861.0 857.6L861.0 857.7L861.8 857.7L861.8 857.7L862.7 857.7L862.7 857.9L863.5 857.9L863.5 858.1L864.3 858.1L864.3 857.6L865.2 857.6L865.2 857.9L866.0 857.9L866.0 858.5z"/>
<rect x="323.6" y="863.6" width="53.4" height="6.3" fill="#7134c4"/>
<rect x="380.0" y="863.6" width="7.0" height="6.3" fill="#7134c4"/>
<rect x="388.0" y="863.6" width="21.7" height="6.3" fill="#7134c4"/>
<rect x="413.4" y="863.6" width="34.1" height="6.3" fill="#7134c4"/>
<rect x="449.6" y="863.6" width="15.2" height="6.3" fill="#7134c4"/>
<rect x="466.4" y="863.6" width="183.3" height="6.3" fill="#7134c4"/>
<rect x="335.5" y="863.6" width="9.1" height="6.3" fill="#d9348a"/>
<rect x="346.0" y="863.6" width="4.0" height="6.3" fill="#d9348a"/>
<rect x="354.0" y="863.6" width="3.0" height="6.3" fill="#d9348a"/>
<rect x="510.6" y="863.6" width="6.8" height="6.3" fill="#d9348a"/>
<rect x="578.8" y="863.6" width="11.4" height="6.3" fill="#d9348a"/>
<rect x="613.0" y="863.6" width="22.7" height="6.3" fill="#d9348a"/>
<rect x="300.0" y="887.8" width="57.0" height="9.0" fill="#78ecec" opacity="0.45"/>
<rect x="670.7" y="887.8" width="25.3" height="9.0" fill="#78ecec" opacity="0.45"/>
<rect x="715.5" y="887.8" width="150.5" height="9.0" fill="#78ecec" opacity="0.45"/>
<path fill="#1ec4bf" d="M269.3 888.8h1.1V895.8h-1.1zM271.1 888.8h2.8V895.8h-2.8zM274.3 888.8h2.4V895.8h-2.4zM277.5 888.8h0.9V895.8h-0.9zM279.3 888.8h2.4V895.8h-2.4zM282.7 888.8h2.1V895.8h-2.1zM289.6 888.8h4.4V895.8h-4.4zM295.0 888.8h2.2V895.8h-2.2zM298.1 888.8h1.9V895.8h-1.9zM300.0 888.8h3.5V895.8h-3.5zM304.2 888.8h3.2V895.8h-3.2zM310.3 888.8h1.2V895.8h-1.2zM311.8 888.8h1.8V895.8h-1.8zM314.7 888.8h2.0V895.8h-2.0zM320.0 888.8h1.8V895.8h-1.8zM330.3 888.8h4.3V895.8h-4.3zM335.8 888.8h1.0V895.8h-1.0zM337.1 888.8h3.8V895.8h-3.8zM346.7 888.8h4.5V895.8h-4.5zM351.7 888.8h4.4V895.8h-4.4zM356.6 888.8h0.4V895.8h-0.4zM398.5 888.8h0.9V895.8h-0.9zM407.0 888.8h1.8V895.8h-1.8zM427.4 888.8h1.6V895.8h-1.6zM431.5 888.8h1.7V895.8h-1.7zM464.9 888.8h1.0V895.8h-1.0zM507.7 888.8h1.0V895.8h-1.0zM528.7 888.8h1.7V895.8h-1.7zM535.0 888.8h1.6V895.8h-1.6zM540.4 888.8h1.0V895.8h-1.0zM546.1 888.8h1.5V895.8h-1.5zM552.5 888.8h1.9V895.8h-1.9zM555.4 888.8h1.5V895.8h-1.5zM570.5 888.8h1.4V895.8h-1.4zM576.0 888.8h1.2V895.8h-1.2zM589.8 888.8h1.9V895.8h-1.9zM605.2 888.8h0.7V895.8h-0.7zM613.3 888.8h1.2V895.8h-1.2zM621.3 888.8h1.2V895.8h-1.2zM647.8 888.8h1.8V895.8h-1.8zM652.1 888.8h0.7V895.8h-0.7zM661.1 888.8h1.5V895.8h-1.5zM664.3 888.8h1.4V895.8h-1.4zM670.7 888.8h1.1V895.8h-1.1zM672.2 888.8h3.2V895.8h-3.2zM676.2 888.8h3.6V895.8h-3.6zM680.6 888.8h1.5V895.8h-1.5zM683.3 888.8h1.8V895.8h-1.8zM685.8 888.8h2.8V895.8h-2.8zM689.2 888.8h4.4V895.8h-4.4zM722.1 888.8h1.2V895.8h-1.2zM723.7 888.8h1.1V895.8h-1.1zM725.8 888.8h4.3V895.8h-4.3zM730.9 888.8h1.8V895.8h-1.8zM737.5 888.8h3.5V895.8h-3.5zM741.4 888.8h3.8V895.8h-3.8zM745.8 888.8h1.0V895.8h-1.0zM747.2 888.8h4.4V895.8h-4.4zM752.6 888.8h3.6V895.8h-3.6zM757.1 888.8h3.8V895.8h-3.8zM761.2 888.8h3.7V895.8h-3.7zM769.2 888.8h4.0V895.8h-4.0zM773.7 888.8h3.3V895.8h-3.3zM778.1 888.8h1.6V895.8h-1.6zM780.7 888.8h1.3V895.8h-1.3zM782.8 888.8h4.4V895.8h-4.4zM787.9 888.8h2.7V895.8h-2.7zM791.4 888.8h2.8V895.8h-2.8zM795.3 888.8h3.8V895.8h-3.8zM799.6 888.8h3.0V895.8h-3.0zM808.3 888.8h2.7V895.8h-2.7zM815.1 888.8h1.2V895.8h-1.2zM816.9 888.8h4.1V895.8h-4.1zM821.4 888.8h2.8V895.8h-2.8zM828.6 888.8h3.5V895.8h-3.5zM832.9 888.8h3.2V895.8h-3.2zM838.3 888.8h3.5V895.8h-3.5zM842.8 888.8h2.0V895.8h-2.0zM845.6 888.8h2.6V895.8h-2.6zM848.8 888.8h3.3V895.8h-3.3zM857.5 888.8h3.4V895.8h-3.4zM861.8 888.8h3.7V895.8h-3.7z"/>
<path fill="#0a0a0a" d="M1031.0 861.3L1031.0 859.5L1031.8 859.5L1031.8 859.3L1032.6 859.3L1032.6 859.7L1033.5 859.7L1033.5 859.4L1034.3 859.4L1034.3 859.3L1035.1 859.3L1035.1 859.7L1035.9 859.7L1035.9 860.3L1036.7 860.3L1036.7 860.2L1037.5 860.2L1037.5 860.1L1038.4 860.1L1038.4 859.5L1039.2 859.5L1039.2 859.8L1040.0 859.8L1040.0 861.3zM1043.0 861.3L1043.0 859.3L1043.8 859.3L1043.8 859.2L1044.7 859.2L1044.7 859.1L1045.5 859.1L1045.5 859.2L1046.3 859.2L1046.3 859.9L1047.2 859.9L1047.2 859.8L1048.0 859.8L1048.0 861.3zM1068.0 861.3L1068.0 860.1L1068.9 860.1L1068.9 860.0L1069.7 860.0L1069.7 858.7L1070.6 858.7L1070.6 858.9L1071.4 858.9L1071.4 859.4L1072.3 859.4L1072.3 859.6L1073.1 859.6L1073.1 859.7L1074.0 859.7L1074.0 859.7L1074.9 859.7L1074.9 858.1L1075.7 858.1L1075.7 859.0L1076.6 859.0L1076.6 859.1L1077.4 859.1L1077.4 858.7L1078.3 858.7L1078.3 857.9L1079.1 857.9L1079.1 858.4L1080.0 858.4L1080.0 861.3zM1082.0 861.3L1082.0 857.8L1082.8 857.8L1082.8 860.3L1083.7 860.3L1083.7 860.0L1084.5 860.0L1084.5 859.0L1085.4 859.0L1085.4 858.2L1086.2 858.2L1086.2 860.0L1087.1 860.0L1087.1 859.0L1087.9 859.0L1087.9 859.9L1088.7 859.9L1088.7 859.7L1089.6 859.7L1089.6 858.7L1090.4 858.7L1090.4 858.3L1091.3 858.3L1091.3 858.9L1092.1 858.9L1092.1 858.3L1092.9 858.3L1092.9 857.5L1093.8 857.5L1093.8 857.8L1094.6 857.8L1094.6 859.3L1095.5 859.3L1095.5 857.0L1096.3 857.0L1096.3 856.9L1097.2 856.9L1097.2 858.6L1098.0 858.6L1098.0 857.6L1098.8 857.6L1098.8 858.3L1099.7 858.3L1099.7 858.1L1100.5 858.1L1100.5 857.6L1101.4 857.6L1101.4 859.6L1102.2 859.6L1102.2 857.1L1103.1 857.1L1103.1 857.7L1103.9 857.7L1103.9 857.1L1104.7 857.1L1104.7 858.3L1105.6 858.3L1105.6 857.2L1106.4 857.2L1106.4 857.4L1107.3 857.4L1107.3 858.5L1108.1 858.5L1108.1 857.2L1108.9 857.2L1108.9 857.9L1109.8 857.9L1109.8 858.9L1110.6 858.9L1110.6 856.4L1111.5 856.4L1111.5 856.3L1112.3 856.3L1112.3 856.7L1113.2 856.7L1113.2 858.3L1114.0 858.3L1114.0 861.3zM1127.0 861.3L1127.0 859.3L1127.8 859.3L1127.8 858.1L1128.6 858.1L1128.6 858.3L1129.5 858.3L1129.5 857.8L1130.3 857.8L1130.3 858.6L1131.1 858.6L1131.1 857.3L1131.9 857.3L1131.9 859.1L1132.8 859.1L1132.8 859.7L1133.6 859.7L1133.6 859.8L1134.4 859.8L1134.4 859.0L1135.2 859.0L1135.2 859.6L1136.0 859.6L1136.0 856.7L1136.9 856.7L1136.9 857.5L1137.7 857.5L1137.7 859.4L1138.5 859.4L1138.5 858.8L1139.3 858.8L1139.3 857.6L1140.1 857.6L1140.1 859.1L1141.0 859.1L1141.0 858.1L1141.8 858.1L1141.8 858.6L1142.6 858.6L1142.6 857.0L1143.4 857.0L1143.4 856.6L1144.2 856.6L1144.2 857.3L1145.1 857.3L1145.1 856.3L1145.9 856.3L1145.9 856.9L1146.7 856.9L1146.7 858.6L1147.5 858.6L1147.5 856.6L1148.4 856.6L1148.4 855.6L1149.2 855.6L1149.2 855.6L1150.0 855.6L1150.0 861.3zM1152.0 861.3L1152.0 857.2L1152.8 857.2L1152.8 859.6L1153.6 859.6L1153.6 857.8L1154.5 857.8L1154.5 857.4L1155.3 857.4L1155.3 856.6L1156.1 856.6L1156.1 860.0L1156.9 860.0L1156.9 857.7L1157.8 857.7L1157.8 856.8L1158.6 856.8L1158.6 856.1L1159.4 856.1L1159.4 856.0L1160.2 856.0L1160.2 856.4L1161.1 856.4L1161.1 858.4L1161.9 858.4L1161.9 856.2L1162.7 856.2L1162.7 855.7L1163.5 855.7L1163.5 857.4L1164.4 857.4L1164.4 856.4L1165.2 856.4L1165.2 859.3L1166.0 859.3L1166.0 855.7L1166.8 855.7L1166.8 857.3L1167.6 857.3L1167.6 858.2L1168.5 858.2L1168.5 856.6L1169.3 856.6L1169.3 858.9L1170.1 858.9L1170.1 856.7L1170.9 856.7L1170.9 855.7L1171.8 855.7L1171.8 856.3L1172.6 856.3L1172.6 854.8L1173.4 854.8L1173.4 856.2L1174.2 856.2L1174.2 855.4L1175.1 855.4L1175.1 857.9L1175.9 857.9L1175.9 857.6L1176.7 857.6L1176.7 856.2L1177.5 856.2L1177.5 854.3L1178.4 854.3L1178.4 855.1L1179.2 855.1L1179.2 855.0L1180.0 855.0L1180.0 861.3zM1186.0 861.3L1186.0 847.6L1186.8 847.6L1186.8 848.1L1187.6 848.1L1187.6 850.5L1188.5 850.5L1188.5 848.8L1189.3 848.8L1189.3 849.0L1190.1 849.0L1190.1 852.0L1190.9 852.0L1190.9 851.4L1191.7 851.4L1191.7 853.1L1192.5 853.1L1192.5 851.8L1193.4 851.8L1193.4 853.8L1194.2 853.8L1194.2 853.5L1195.0 853.5L1195.0 858.3L1195.8 858.3L1195.8 858.2L1196.7 858.2L1196.7 858.0L1197.5 858.0L1197.5 857.6L1198.3 857.6L1198.3 857.7L1199.2 857.7L1199.2 858.4L1200.0 858.4L1200.0 861.3zM1227.0 861.3L1227.0 860.2L1227.8 860.2L1227.8 860.2L1228.7 860.2L1228.7 859.6L1229.5 859.6L1229.5 859.9L1230.3 859.9L1230.3 860.1L1231.1 860.1L1231.1 859.9L1232.0 859.9L1232.0 860.1L1232.8 860.1L1232.8 859.8L1233.6 859.8L1233.6 859.9L1234.4 859.9L1234.4 859.9L1235.2 859.9L1235.2 859.5L1236.1 859.5L1236.1 860.1L1236.9 860.1L1236.9 860.2L1237.7 860.2L1237.7 859.3L1238.5 859.3L1238.5 860.2L1239.4 860.2L1239.4 860.1L1240.2 860.1L1240.2 859.8L1241.0 859.8L1241.0 859.2L1241.9 859.2L1241.8 860.1L1242.7 860.1L1242.7 859.3L1243.5 859.3L1243.5 860.1L1244.3 860.1L1244.3 859.8L1245.2 859.8L1245.2 859.2L1246.0 859.2L1246.0 859.3L1246.8 859.3L1246.8 859.8L1247.6 859.8L1247.6 859.7L1248.5 859.7L1248.5 859.8L1249.3 859.8L1249.3 860.0L1250.1 860.0L1250.1 859.3L1250.9 859.3L1250.9 859.1L1251.8 859.1L1251.8 860.0L1252.6 860.0L1252.6 859.1L1253.4 859.1L1253.4 859.9L1254.2 859.9L1254.2 859.2L1255.0 859.2L1255.0 859.8L1255.9 859.8L1255.9 859.8L1256.7 859.8L1256.7 859.9L1257.5 859.9L1257.5 859.6L1258.4 859.6L1258.3 859.9L1259.2 859.9L1259.2 859.2L1260.0 859.2L1260.0 861.3zM1263.0 861.3L1263.0 860.0L1263.8 860.0L1263.8 859.6L1264.6 859.6L1264.6 860.2L1265.5 860.2L1265.5 860.0L1266.3 860.0L1266.3 859.7L1267.1 859.7L1267.1 859.8L1267.9 859.8L1267.9 859.3L1268.8 859.3L1268.8 859.3L1269.6 859.3L1269.6 859.8L1270.4 859.8L1270.4 859.7L1271.2 859.7L1271.2 860.1L1272.1 860.1L1272.1 859.8L1272.9 859.8L1272.9 859.3L1273.7 859.3L1273.7 859.5L1274.5 859.5L1274.5 859.9L1275.4 859.9L1275.4 859.7L1276.2 859.7L1276.2 859.2L1277.0 859.2L1277.0 860.0L1277.8 860.0L1277.8 860.0L1278.6 860.0L1278.6 859.2L1279.5 859.2L1279.5 859.7L1280.3 859.7L1280.3 859.5L1281.1 859.5L1281.1 859.9L1281.9 859.9L1281.9 859.4L1282.8 859.4L1282.8 859.3L1283.6 859.3L1283.6 859.6L1284.4 859.6L1284.4 860.0L1285.2 860.0L1285.2 859.1L1286.1 859.1L1286.1 859.2L1286.9 859.2L1286.9 859.7L1287.7 859.7L1287.7 859.9L1288.5 859.9L1288.5 859.5L1289.4 859.5L1289.4 859.4L1290.2 859.4L1290.2 859.9L1291.0 859.9L1291.0 861.3zM1368.0 861.3L1368.0 859.9L1368.8 859.9L1368.8 859.2L1369.7 859.2L1369.7 860.0L1370.5 860.0L1370.5 859.3L1371.4 859.3L1371.4 859.4L1372.2 859.4L1372.2 859.9L1373.0 859.9L1373.0 859.5L1373.9 859.5L1373.9 859.9L1374.7 859.9L1374.7 859.2L1375.5 859.2L1375.5 859.9L1376.4 859.9L1376.4 859.2L1377.2 859.2L1377.2 859.2L1378.1 859.2L1378.1 859.6L1378.9 859.6L1378.9 859.4L1379.7 859.4L1379.7 859.6L1380.6 859.6L1380.6 860.0L1381.4 860.0L1381.4 859.8L1382.3 859.8L1382.3 859.0L1383.1 859.0L1383.1 859.4L1383.9 859.4L1383.9 859.6L1384.8 859.6L1384.8 859.5L1385.6 859.5L1385.6 859.7L1386.5 859.7L1386.5 859.5L1387.3 859.5L1387.3 859.1L1388.1 859.1L1388.1 859.3L1389.0 859.3L1389.0 859.9L1389.8 859.9L1389.8 859.4L1390.6 859.4L1390.6 859.8L1391.5 859.8L1391.5 860.0L1392.3 860.0L1392.3 859.6L1393.2 859.6L1393.2 859.7L1394.0 859.7L1394.0 859.6L1394.8 859.6L1394.8 859.3L1395.7 859.3L1395.7 859.9L1396.5 859.9L1396.5 859.5L1397.4 859.5L1397.4 859.9L1398.2 859.9L1398.2 859.3L1399.0 859.3L1399.0 859.8L1399.9 859.8L1399.9 859.8L1400.7 859.8L1400.7 859.6L1401.5 859.6L1401.5 859.4L1402.4 859.4L1402.4 859.1L1403.2 859.1L1403.2 859.7L1404.1 859.7L1404.1 859.3L1404.9 859.3L1404.9 859.6L1405.7 859.6L1405.7 859.1L1406.6 859.1L1406.6 859.0L1407.4 859.0L1407.4 859.1L1408.3 859.1L1408.3 859.8L1409.1 859.8L1409.1 859.1L1409.9 859.1L1409.9 859.8L1410.8 859.8L1410.8 859.3L1411.6 859.3L1411.6 859.5L1412.5 859.5L1412.5 859.3L1413.3 859.3L1413.3 859.5L1414.1 859.5L1414.1 859.0L1415.0 859.0L1415.0 859.3L1415.8 859.3L1415.8 859.8L1416.6 859.8L1416.6 859.1L1417.5 859.1L1417.5 859.6L1418.3 859.6L1418.3 859.2L1419.2 859.2L1419.2 859.2L1420.0 859.2L1420.0 861.3zM1423.0 861.3L1423.0 858.9L1423.8 858.9L1423.8 858.9L1424.7 858.9L1424.7 860.0L1425.5 860.0L1425.5 859.9L1426.3 859.9L1426.3 859.8L1427.2 859.8L1427.2 859.8L1428.0 859.8L1428.0 860.0L1428.9 860.0L1428.9 859.1L1429.7 859.1L1429.7 859.6L1430.5 859.6L1430.5 859.4L1431.4 859.4L1431.4 859.5L1432.2 859.5L1432.2 860.0L1433.0 860.0L1433.0 859.7L1433.9 859.7L1433.9 860.0L1434.7 860.0L1434.7 859.0L1435.6 859.0L1435.6 859.6L1436.4 859.6L1436.4 859.6L1437.2 859.6L1437.2 859.7L1438.1 859.7L1438.1 859.5L1438.9 859.5L1438.9 859.8L1439.7 859.8L1439.7 859.2L1440.6 859.2L1440.6 859.9L1441.4 859.9L1441.4 859.3L1442.2 859.3L1442.2 859.5L1443.1 859.5L1443.1 859.8L1443.9 859.8L1443.9 859.6L1444.8 859.6L1444.8 859.1L1445.6 859.1L1445.6 859.0L1446.4 859.0L1446.4 859.1L1447.3 859.1L1447.3 859.5L1448.1 859.5L1448.1 859.9L1448.9 859.9L1448.9 859.8L1449.8 859.8L1449.8 859.2L1450.6 859.2L1450.6 859.2L1451.5 859.2L1451.5 859.7L1452.3 859.7L1452.3 859.0L1453.1 859.0L1453.1 859.2L1454.0 859.2L1454.0 858.7L1454.8 858.7L1454.8 858.9L1455.6 858.9L1455.6 859.3L1456.5 859.3L1456.5 859.5L1457.3 859.5L1457.3 859.4L1458.2 859.4L1458.2 859.1L1459.0 859.1L1459.0 859.8L1459.8 859.8L1459.8 859.4L1460.7 859.4L1460.7 858.8L1461.5 858.8L1461.5 858.7L1462.3 858.7L1462.3 859.8L1463.2 859.8L1463.2 859.8L1464.0 859.8L1464.0 859.7L1464.8 859.7L1464.8 859.3L1465.7 859.3L1465.7 859.0L1466.5 859.0L1466.5 858.7L1467.4 858.7L1467.4 858.9L1468.2 858.9L1468.2 858.9L1469.0 858.9L1469.0 859.7L1469.9 859.7L1469.9 859.7L1470.7 859.7L1470.7 859.5L1471.5 859.5L1471.5 858.8L1472.4 858.8L1472.4 858.9L1473.2 858.9L1473.2 858.9L1474.1 858.9L1474.1 859.7L1474.9 859.7L1474.9 858.8L1475.7 858.8L1475.7 859.5L1476.6 859.5L1476.6 859.4L1477.4 859.4L1477.4 859.2L1478.2 859.2L1478.2 859.7L1479.1 859.7L1479.1 858.8L1479.9 858.8L1479.9 859.2L1480.8 859.2L1480.8 858.7L1481.6 858.7L1481.6 858.6L1482.4 858.6L1482.4 858.5L1483.3 858.5L1483.3 858.9L1484.1 858.9L1484.1 858.6L1484.9 858.6L1484.9 858.6L1485.8 858.6L1485.8 859.7L1486.6 859.7L1486.6 858.8L1487.4 858.8L1487.4 859.5L1488.3 859.5L1488.3 859.3L1489.1 859.3L1489.1 859.3L1490.0 859.3L1490.0 859.2L1490.8 859.2L1490.8 859.6L1491.6 859.6L1491.6 859.5L1492.5 859.5L1492.5 859.3L1493.3 859.3L1493.3 859.1L1494.1 859.1L1494.1 859.3L1495.0 859.3L1495.0 859.3L1495.8 859.3L1495.8 859.1L1496.7 859.1L1496.7 859.0L1497.5 859.0L1497.5 858.6L1498.3 858.6L1498.3 859.4L1499.2 859.4L1499.2 859.0L1500.0 859.0L1500.0 861.3zM1573.0 861.3L1573.0 859.5L1573.8 859.5L1573.8 859.6L1574.7 859.6L1574.7 860.0L1575.5 860.0L1575.5 859.7L1576.4 859.7L1576.4 859.7L1577.2 859.7L1577.2 859.9L1578.1 859.9L1578.1 860.0L1578.9 860.0L1578.9 859.7L1579.8 859.7L1579.8 859.7L1580.6 859.7L1580.6 859.8L1581.4 859.8L1581.4 859.5L1582.3 859.5L1582.3 860.0L1583.1 860.0L1583.1 859.5L1584.0 859.5L1584.0 860.1L1584.8 860.1L1584.8 859.6L1585.7 859.6L1585.7 859.6L1586.5 859.6L1586.5 860.0L1587.3 860.0L1587.3 860.0L1588.2 860.0L1588.2 859.6L1589.0 859.6L1589.0 859.8L1589.9 859.8L1589.9 859.8L1590.7 859.8L1590.7 859.9L1591.6 859.9L1591.6 859.6L1592.4 859.6L1592.4 860.0L1593.2 860.0L1593.2 860.1L1594.1 860.1L1594.1 859.9L1594.9 859.9L1594.9 860.1L1595.8 860.1L1595.8 860.1L1596.6 860.1L1596.6 859.7L1597.5 859.7L1597.5 860.0L1598.3 860.0L1598.3 860.0L1599.2 860.0L1599.2 859.9L1600.0 859.9L1600.0 861.3zM1615.0 861.3L1615.0 859.6L1615.8 859.6L1615.8 859.9L1616.7 859.9L1616.7 860.0L1617.5 860.0L1617.5 859.7L1618.4 859.7L1618.4 859.9L1619.2 859.9L1619.2 860.0L1620.1 860.0L1620.1 859.9L1620.9 859.9L1621.0 859.5L1621.8 859.5L1621.8 859.9L1622.6 859.9L1622.7 859.7L1623.5 859.7L1623.5 860.0L1624.3 860.0L1624.3 859.9L1625.2 859.9L1625.2 859.7L1626.0 859.7L1626.0 860.0L1626.9 860.0L1626.9 859.9L1627.8 859.9L1627.8 859.7L1628.6 859.7L1628.6 860.0L1629.4 860.0L1629.5 860.0L1630.3 860.0L1630.3 860.0L1631.1 860.0L1631.2 860.0L1632.0 860.0L1632.0 861.3z"/>
<defs><linearGradient id="gD" x1="0" x2="1"><stop offset="0" stop-color="#5a2fc0"/><stop offset="0.5" stop-color="#a12fb0"/><stop offset="1" stop-color="#d82a80"/></linearGradient></defs>
<rect x="1555.7" y="865.8" width="15.4" height="5.2" fill="url(#gD)"/>
<rect x="1599.2" y="865.8" width="3" height="5.2" fill="#6a4aa8"/>
<path d="M1556 907h13v4.5h-13z" fill="#8fb0a8" opacity="0.75"/>
<path d="M1578 933l4 -4" stroke="#555" stroke-width="1.8"/>
<rect x="1032.0" y="890.5" width="523.0" height="9.2" fill="#78ecec" opacity="0.45"/>
<rect x="1600.0" y="890.5" width="33.0" height="9.2" fill="#78ecec" opacity="0.45"/>
<path fill="#1ec4bf" d="M1032.0 891.5h3.4V898.7h-3.4zM1035.9 891.5h4.5V898.7h-4.5zM1041.3 891.5h1.1V898.7h-1.1zM1042.9 891.5h3.4V898.7h-3.4zM1047.3 891.5h2.4V898.7h-2.4zM1050.9 891.5h1.2V898.7h-1.2zM1053.3 891.5h3.5V898.7h-3.5zM1057.4 891.5h4.3V898.7h-4.3zM1062.7 891.5h3.9V898.7h-3.9zM1067.2 891.5h1.9V898.7h-1.9zM1074.5 891.5h4.1V898.7h-4.1zM1079.0 891.5h3.3V898.7h-3.3zM1083.3 891.5h4.5V898.7h-4.5zM1092.2 891.5h2.6V898.7h-2.6zM1095.3 891.5h2.6V898.7h-2.6zM1099.0 891.5h1.3V898.7h-1.3zM1101.5 891.5h3.6V898.7h-3.6zM1105.7 891.5h3.1V898.7h-3.1zM1109.7 891.5h3.2V898.7h-3.2zM1113.9 891.5h2.3V898.7h-2.3zM1117.2 891.5h1.7V898.7h-1.7zM1119.8 891.5h2.4V898.7h-2.4zM1122.7 891.5h2.2V898.7h-2.2zM1125.6 891.5h2.0V898.7h-2.0zM1130.4 891.5h3.8V898.7h-3.8zM1135.0 891.5h2.3V898.7h-2.3zM1137.8 891.5h1.9V898.7h-1.9zM1140.4 891.5h4.2V898.7h-4.2zM1145.4 891.5h0.9V898.7h-0.9zM1147.0 891.5h3.4V898.7h-3.4zM1151.3 891.5h4.1V898.7h-4.1zM1156.1 891.5h3.6V898.7h-3.6zM1160.6 891.5h2.3V898.7h-2.3zM1163.6 891.5h1.1V898.7h-1.1zM1165.7 891.5h2.8V898.7h-2.8zM1169.0 891.5h2.4V898.7h-2.4zM1171.8 891.5h3.9V898.7h-3.9zM1176.8 891.5h2.9V898.7h-2.9zM1180.0 891.5h4.2V898.7h-4.2zM1184.5 891.5h1.5V898.7h-1.5zM1186.8 891.5h1.1V898.7h-1.1zM1188.6 891.5h3.4V898.7h-3.4zM1192.9 891.5h2.5V898.7h-2.5zM1196.0 891.5h4.5V898.7h-4.5zM1201.5 891.5h2.1V898.7h-2.1zM1205.9 891.5h4.0V898.7h-4.0zM1210.8 891.5h1.7V898.7h-1.7zM1217.0 891.5h1.8V898.7h-1.8zM1219.3 891.5h4.4V898.7h-4.4zM1224.5 891.5h2.1V898.7h-2.1zM1227.5 891.5h1.4V898.7h-1.4zM1229.3 891.5h3.8V898.7h-3.8zM1233.6 891.5h1.7V898.7h-1.7zM1236.2 891.5h3.6V898.7h-3.6zM1242.8 891.5h4.3V898.7h-4.3zM1251.5 891.5h1.6V898.7h-1.6zM1254.3 891.5h2.7V898.7h-2.7zM1260.4 891.5h2.5V898.7h-2.5zM1263.4 891.5h1.2V898.7h-1.2zM1265.8 891.5h4.0V898.7h-4.0zM1270.8 891.5h3.9V898.7h-3.9zM1275.3 891.5h1.5V898.7h-1.5zM1277.8 891.5h1.6V898.7h-1.6zM1279.8 891.5h3.9V898.7h-3.9zM1284.4 891.5h3.1V898.7h-3.1zM1287.9 891.5h2.7V898.7h-2.7zM1291.7 891.5h1.4V898.7h-1.4zM1293.5 891.5h3.1V898.7h-3.1zM1297.0 891.5h2.6V898.7h-2.6zM1303.6 891.5h4.2V898.7h-4.2zM1308.9 891.5h2.1V898.7h-2.1zM1311.8 891.5h1.2V898.7h-1.2zM1313.5 891.5h3.0V898.7h-3.0zM1317.7 891.5h1.5V898.7h-1.5zM1319.9 891.5h4.4V898.7h-4.4zM1325.1 891.5h2.2V898.7h-2.2zM1328.1 891.5h1.9V898.7h-1.9zM1331.0 891.5h3.3V898.7h-3.3zM1335.1 891.5h2.8V898.7h-2.8zM1338.2 891.5h1.8V898.7h-1.8zM1340.8 891.5h2.7V898.7h-2.7zM1344.4 891.5h3.5V898.7h-3.5zM1348.9 891.5h4.2V898.7h-4.2zM1353.5 891.5h2.2V898.7h-2.2zM1356.7 891.5h3.1V898.7h-3.1zM1360.2 891.5h3.2V898.7h-3.2zM1363.9 891.5h4.4V898.7h-4.4zM1373.5 891.5h1.5V898.7h-1.5zM1376.1 891.5h2.4V898.7h-2.4zM1379.5 891.5h3.0V898.7h-3.0zM1383.3 891.5h1.8V898.7h-1.8zM1385.5 891.5h3.5V898.7h-3.5zM1389.4 891.5h0.8V898.7h-0.8zM1390.7 891.5h2.8V898.7h-2.8zM1393.9 891.5h1.8V898.7h-1.8zM1396.7 891.5h3.6V898.7h-3.6zM1400.8 891.5h2.0V898.7h-2.0zM1409.3 891.5h3.1V898.7h-3.1zM1412.8 891.5h0.9V898.7h-0.9zM1414.9 891.5h4.4V898.7h-4.4zM1420.1 891.5h4.1V898.7h-4.1zM1425.1 891.5h3.0V898.7h-3.0zM1428.8 891.5h1.4V898.7h-1.4zM1430.7 891.5h4.5V898.7h-4.5zM1435.5 891.5h3.6V898.7h-3.6zM1439.9 891.5h4.2V898.7h-4.2zM1445.2 891.5h4.5V898.7h-4.5zM1450.0 891.5h1.7V898.7h-1.7zM1452.6 891.5h4.2V898.7h-4.2zM1457.9 891.5h2.9V898.7h-2.9zM1461.2 891.5h2.1V898.7h-2.1zM1464.3 891.5h3.3V898.7h-3.3zM1468.6 891.5h2.1V898.7h-2.1zM1471.9 891.5h3.3V898.7h-3.3zM1476.3 891.5h4.0V898.7h-4.0zM1484.5 891.5h2.4V898.7h-2.4zM1492.0 891.5h4.3V898.7h-4.3zM1497.0 891.5h4.5V898.7h-4.5zM1501.9 891.5h3.1V898.7h-3.1zM1506.0 891.5h3.0V898.7h-3.0zM1509.9 891.5h1.2V898.7h-1.2zM1512.0 891.5h4.1V898.7h-4.1zM1520.9 891.5h1.7V898.7h-1.7zM1526.7 891.5h1.6V898.7h-1.6zM1529.3 891.5h2.3V898.7h-2.3zM1532.5 891.5h2.0V898.7h-2.0zM1535.6 891.5h2.3V898.7h-2.3zM1538.4 891.5h4.5V898.7h-4.5zM1543.6 891.5h1.7V898.7h-1.7zM1545.8 891.5h1.0V898.7h-1.0zM1547.5 891.5h3.4V898.7h-3.4zM1552.0 891.5h1.3V898.7h-1.3zM1553.7 891.5h1.3V898.7h-1.3zM1559.4 891.5h1.4V898.7h-1.4zM1565.5 891.5h0.8V898.7h-0.8zM1584.2 891.5h1.1V898.7h-1.1zM1586.5 891.5h1.5V898.7h-1.5zM1589.7 891.5h1.3V898.7h-1.3zM1597.5 891.5h0.8V898.7h-0.8zM1600.0 891.5h4.3V898.7h-4.3zM1605.0 891.5h1.2V898.7h-1.2zM1606.4 891.5h1.8V898.7h-1.8zM1611.5 891.5h3.3V898.7h-3.3zM1615.9 891.5h0.9V898.7h-0.9zM1617.1 891.5h3.7V898.7h-3.7zM1621.6 891.5h2.2V898.7h-2.2zM1624.1 891.5h1.4V898.7h-1.4zM1626.3 891.5h1.0V898.7h-1.0zM1628.4 891.5h2.0V898.7h-2.0zM1631.4 891.5h1.6V898.7h-1.6z"/>
<path d="M288.4 1716.8H1581" stroke="#d9d9d9" stroke-width="2.2"/>
<rect x="303.6" y="1549.4" width="13.0" height="166.8" fill="#4472c4"/>
<rect x="320.8" y="1545.4" width="13.0" height="170.8" fill="#ed7d31"/>
<rect x="338.1" y="1545.8" width="13.0" height="170.4" fill="#bdbdbd"/>
<rect x="355.3" y="1555.1" width="13.0" height="161.1" fill="#ffc000"/>
<rect x="372.5" y="1551.9" width="13.0" height="164.3" fill="#5b9bd5"/>
<rect x="389.8" y="1548.2" width="13.0" height="168.0" fill="#70ad47"/>
<rect x="407.0" y="1556.3" width="13.0" height="159.9" fill="#264478"/>
<rect x="424.2" y="1556.3" width="13.0" height="159.9" fill="#9e480e"/>
<rect x="441.4" y="1553.9" width="13.0" height="162.3" fill="#878787"/>
<rect x="458.7" y="1559.1" width="13.0" height="157.1" fill="#997300"/>
<rect x="475.9" y="1556.7" width="13.0" height="159.5" fill="#255e91"/>
<rect x="519.3" y="1676.9" width="13.0" height="39.3" fill="#4472c4"/>
<rect x="536.5" y="1679.4" width="13.0" height="36.8" fill="#ed7d31"/>
<rect x="553.8" y="1674.5" width="13.0" height="41.7" fill="#bdbdbd"/>
<rect x="571.0" y="1615.4" width="13.0" height="100.8" fill="#ffc000"/>
<rect x="588.2" y="1665.2" width="13.0" height="51.0" fill="#5b9bd5"/>
<rect x="605.5" y="1672.1" width="13.0" height="44.1" fill="#70ad47"/>
<rect x="622.7" y="1664.4" width="13.0" height="51.8" fill="#264478"/>
<rect x="639.9" y="1612.6" width="13.0" height="103.6" fill="#9e480e"/>
<rect x="657.1" y="1675.7" width="13.0" height="40.5" fill="#878787"/>
<rect x="674.4" y="1649.8" width="13.0" height="66.4" fill="#997300"/>
<rect x="691.6" y="1709.7" width="13.0" height="6.5" fill="#255e91"/>
<rect x="735.0" y="1481.0" width="13.0" height="235.2" fill="#4472c4"/>
<rect x="752.2" y="1511.4" width="13.0" height="204.8" fill="#ed7d31"/>
<rect x="769.5" y="1472.9" width="13.0" height="243.3" fill="#bdbdbd"/>
<rect x="786.7" y="1542.5" width="13.0" height="173.7" fill="#ffc000"/>
<rect x="803.9" y="1486.7" width="13.0" height="229.5" fill="#5b9bd5"/>
<rect x="821.1" y="1453.9" width="13.0" height="262.3" fill="#70ad47"/>
<rect x="838.4" y="1541.7" width="13.0" height="174.5" fill="#264478"/>
<rect x="855.6" y="1529.2" width="13.0" height="187.0" fill="#9e480e"/>
<rect x="872.8" y="1487.9" width="13.0" height="228.3" fill="#878787"/>
<rect x="890.1" y="1536.9" width="13.0" height="179.3" fill="#997300"/>
<rect x="907.3" y="1691.1" width="13.0" height="25.1" fill="#255e91"/>
<rect x="950.7" y="1645.8" width="13.0" height="70.4" fill="#4472c4"/>
<rect x="967.9" y="1663.6" width="13.0" height="52.6" fill="#ed7d31"/>
<rect x="985.2" y="1651.0" width="13.0" height="65.2" fill="#bdbdbd"/>
<rect x="1002.4" y="1710.5" width="13.0" height="5.7" fill="#ffc000"/>
<rect x="1019.6" y="1702.0" width="13.0" height="14.2" fill="#5b9bd5"/>
<rect x="1036.8" y="1660.3" width="13.0" height="55.9" fill="#70ad47"/>
<rect x="1054.1" y="1712.6" width="13.0" height="3.6" fill="#264478"/>
<rect x="1071.3" y="1713.4" width="13.0" height="2.8" fill="#9e480e"/>
<rect x="1088.5" y="1657.9" width="13.0" height="58.3" fill="#878787"/>
<rect x="1105.8" y="1666.4" width="13.0" height="49.8" fill="#997300"/>
<rect x="1123.0" y="1346.2" width="13.0" height="370.0" fill="#255e91"/>
<rect x="1166.4" y="1714.2" width="13.0" height="2.0" fill="#4472c4"/>
<rect x="1183.6" y="1715.0" width="13.0" height="1.2" fill="#ed7d31"/>
<rect x="1200.9" y="1715.0" width="13.0" height="1.2" fill="#bdbdbd"/>
<rect x="1218.1" y="1713.0" width="13.0" height="3.2" fill="#ffc000"/>
<rect x="1235.3" y="1714.6" width="13.0" height="1.6" fill="#5b9bd5"/>
<rect x="1252.5" y="1715.0" width="13.0" height="1.2" fill="#70ad47"/>
<rect x="1269.8" y="1712.6" width="13.0" height="3.6" fill="#264478"/>
<rect x="1287.0" y="1713.0" width="13.0" height="3.2" fill="#9e480e"/>
<rect x="1304.2" y="1714.6" width="13.0" height="1.6" fill="#878787"/>
<rect x="1321.5" y="1713.0" width="13.0" height="3.2" fill="#997300"/>
<rect x="1382.1" y="1714.6" width="13.0" height="1.6" fill="#4472c4"/>
<rect x="1399.3" y="1713.8" width="13.0" height="2.4" fill="#ed7d31"/>
<rect x="1451.0" y="1715.4" width="13.0" height="0.8" fill="#5b9bd5"/>
<rect x="1468.2" y="1715.4" width="13.0" height="0.8" fill="#70ad47"/>
<rect x="1485.5" y="1710.9" width="13.0" height="5.3" fill="#264478"/>
<rect x="1502.7" y="1711.3" width="13.0" height="4.9" fill="#9e480e"/>
<path d="M288.4 1310.4V1717.4" stroke="#1e1e1e" stroke-width="2.2" fill="none"/>
<path d="M281.2 1716.2H288.4M281.2 1675.7H288.4M281.2 1635.2H288.4M281.2 1594.8H288.4M281.2 1554.3H288.4M281.2 1513.8H288.4M281.2 1473.3H288.4M281.2 1432.8H288.4M281.2 1392.4H288.4M281.2 1351.9H288.4M281.2 1311.4H288.4" stroke="#1e1e1e" stroke-width="2.2" fill="none"/>
<text x="251.2" y="1724.9" font-size="27.6">0</text>
<text x="237.4" y="1684.4" font-size="27.6">10</text>
<text x="237.4" y="1643.9" font-size="27.6">20</text>
<text x="237.4" y="1603.5" font-size="27.6">30</text>
<text x="237.4" y="1563.0" font-size="27.6">40</text>
<text x="237.4" y="1522.5" font-size="27.6">50</text>
<text x="237.4" y="1482.0" font-size="27.6">60</text>
<text x="237.4" y="1441.5" font-size="27.6">70</text>
<text x="237.4" y="1401.1" font-size="27.6">80</text>
<text x="237.4" y="1360.6" font-size="27.6">90</text>
<text x="223.6" y="1320.1" font-size="27.6">100</text>
<text x="343.3" y="1758.9" font-size="28.4">GC level</text>
<text x="575.2" y="1758.9" font-size="28.4">Copia</text>
<text x="788.5" y="1758.9" font-size="28.4">Gypsy</text>
<text x="988.5" y="1758.9" font-size="28.4">Satellites</text>
<text x="1169.4" y="1758.9" font-size="28.4">Simple repeats</text>
<text x="1401.2" y="1758.9" font-size="28.4">Unclassified</text>
<text transform="translate(206.2 1635.7) rotate(-90)" font-size="34.2">Percentage (%)</text>
<text transform="translate(166.0 1290.4) scale(0.934 1)" font-size="40.3">E</text>
<rect x="376.3" y="1800.1" width="14.8" height="13.5" fill="#4472c4"/>
<text x="397.1" y="1815.5" font-size="28.0">L2-Chr5</text>
<rect x="557.1" y="1800.1" width="14.8" height="13.5" fill="#ed7d31"/>
<text x="577.1" y="1815.5" font-size="28.0">C1-Chr6</text>
<rect x="737.9" y="1800.1" width="14.8" height="13.5" fill="#bdbdbd"/>
<text x="757.9" y="1815.5" font-size="28.0">C12-Chr6</text>
<rect x="918.7" y="1800.1" width="14.8" height="13.5" fill="#ffc000"/>
<text x="939.5" y="1815.5" font-size="28.0">L3-Chr8</text>
<rect x="1099.5" y="1800.1" width="14.8" height="13.5" fill="#5b9bd5"/>
<text x="1119.5" y="1815.5" font-size="28.0">C3-Chr8</text>
<rect x="1280.3" y="1800.1" width="14.8" height="13.5" fill="#70ad47"/>
<text x="1300.3" y="1815.5" font-size="28.0">ZH13-C9</text>
<rect x="376.3" y="1848.2" width="14.8" height="13.5" fill="#264478"/>
<text x="396.3" y="1863.7" font-size="28.0">C4-Chr15</text>
<rect x="557.1" y="1848.2" width="14.8" height="13.5" fill="#9e480e"/>
<text x="577.1" y="1863.7" font-size="28.0">C6-Chr15</text>
<rect x="737.9" y="1848.2" width="14.8" height="13.5" fill="#878787"/>
<text x="758.7" y="1863.7" font-size="28.0">L4-Chr16</text>
<rect x="918.7" y="1848.2" width="14.8" height="13.5" fill="#997300"/>
<text x="938.7" y="1863.7" font-size="28.0">C4-Chr20</text>
<rect x="1099.5" y="1848.2" width="14.8" height="13.5" fill="#255e91"/>
<text x="1119.5" y="1863.7" font-size="28.0">ZH13-native</text>
</svg></body></html>
